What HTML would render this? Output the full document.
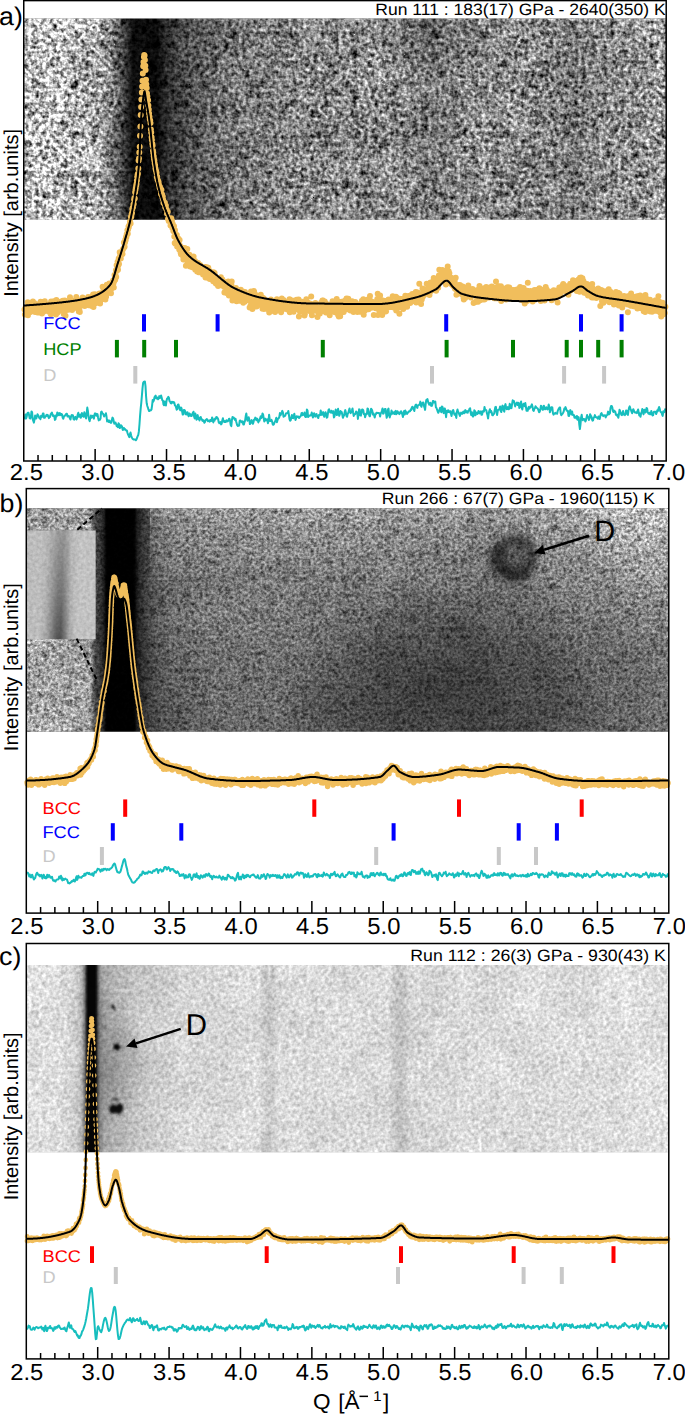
<!DOCTYPE html>
<html><head><meta charset="utf-8"><style>
html,body{margin:0;padding:0;background:#fff;width:685px;height:1414px;overflow:hidden}
svg{display:block}
text{font-family:"Liberation Sans", sans-serif;text-rendering:geometricPrecision}
</style></head><body>
<svg width="685" height="1414" viewBox="0 0 685 1414">
<defs><filter id="nA" x="0" y="0" width="1" height="1" color-interpolation-filters="sRGB"><feTurbulence type="fractalNoise" baseFrequency="0.28" numOctaves="2" seed="3" result="t"/><feColorMatrix in="t" type="matrix" values="1 0 0 0 0 1 0 0 0 0 1 0 0 0 0 0 0 0 0 1" result="g"/><feTurbulence type="turbulence" baseFrequency="0.1" numOctaves="2" seed="23" result="tv"/><feColorMatrix in="tv" type="matrix" values="-1 0 0 0 1 -1 0 0 0 1 -1 0 0 0 1 0 0 0 0 1" result="gv"/><feComposite in="g" in2="gv" operator="arithmetic" k2="1" k3="0.6" k4="-0.4500" result="gg"/><feTurbulence type="fractalNoise" baseFrequency="0.02" numOctaves="2" seed="53" result="t2"/><feColorMatrix in="t2" type="matrix" values="1 0 0 0 0 1 0 0 0 0 1 0 0 0 0 0 0 0 0 1" result="g2"/><feComposite in="SourceGraphic" in2="g2" operator="arithmetic" k1="0.25" k2="0.875" k3="0" k4="0" result="s2"/><feComposite in="s2" in2="gg" operator="arithmetic" k1="1.85" k2="0.07499999999999996" k3="0.12" k4="-0.06"/></filter><filter id="nB" x="0" y="0" width="1" height="1" color-interpolation-filters="sRGB"><feTurbulence type="fractalNoise" baseFrequency="0.36" numOctaves="2" seed="5" result="t"/><feColorMatrix in="t" type="matrix" values="1 0 0 0 0 1 0 0 0 0 1 0 0 0 0 0 0 0 0 1" result="g"/><feTurbulence type="turbulence" baseFrequency="0.12" numOctaves="2" seed="25" result="tv"/><feColorMatrix in="tv" type="matrix" values="-1 0 0 0 1 -1 0 0 0 1 -1 0 0 0 1 0 0 0 0 1" result="gv"/><feComposite in="g" in2="gv" operator="arithmetic" k2="1" k3="0.55" k4="-0.4125" result="gg"/><feTurbulence type="fractalNoise" baseFrequency="0.02" numOctaves="2" seed="55" result="t2"/><feColorMatrix in="t2" type="matrix" values="1 0 0 0 0 1 0 0 0 0 1 0 0 0 0 0 0 0 0 1" result="g2"/><feComposite in="SourceGraphic" in2="g2" operator="arithmetic" k1="0.2" k2="0.9" k3="0" k4="0" result="s2"/><feComposite in="s2" in2="gg" operator="arithmetic" k1="1.3" k2="0.35" k3="0.03" k4="-0.015"/></filter><filter id="nC" x="0" y="0" width="1" height="1" color-interpolation-filters="sRGB"><feTurbulence type="fractalNoise" baseFrequency="0.28" numOctaves="2" seed="9" result="t"/><feColorMatrix in="t" type="matrix" values="1 0 0 0 0 1 0 0 0 0 1 0 0 0 0 0 0 0 0 1" result="g"/><feTurbulence type="turbulence" baseFrequency="0.1" numOctaves="2" seed="29" result="tv"/><feColorMatrix in="tv" type="matrix" values="-1 0 0 0 1 -1 0 0 0 1 -1 0 0 0 1 0 0 0 0 1" result="gv"/><feComposite in="g" in2="gv" operator="arithmetic" k2="1" k3="0.4" k4="-0.3000" result="gg"/><feTurbulence type="fractalNoise" baseFrequency="0.02" numOctaves="2" seed="59" result="t2"/><feColorMatrix in="t2" type="matrix" values="1 0 0 0 0 1 0 0 0 0 1 0 0 0 0 0 0 0 0 1" result="g2"/><feComposite in="SourceGraphic" in2="g2" operator="arithmetic" k1="0.12" k2="0.94" k3="0" k4="0" result="s2"/><feComposite in="s2" in2="gg" operator="arithmetic" k1="0.45" k2="0.775" k3="0.0" k4="-0.0"/></filter><filter id="bl1"><feGaussianBlur stdDeviation="0.8"/></filter><filter id="nI" x="0" y="0" width="1" height="1" color-interpolation-filters="sRGB"><feTurbulence type="fractalNoise" baseFrequency="0.3" numOctaves="2" seed="4" result="t"/><feColorMatrix in="t" type="matrix" values="1 0 0 0 0 1 0 0 0 0 1 0 0 0 0 0 0 0 0 1" result="g"/><feComposite in="SourceGraphic" in2="g" operator="arithmetic" k1="0.25" k2="0.875" k3="0.0" k4="-0.0"/></filter><linearGradient id="gA" gradientUnits="userSpaceOnUse" x1="23.75" y1="0" x2="666.2" y2="0"><stop offset="0.0004" stop-color="rgb(194,194,194)"/><stop offset="0.0564" stop-color="rgb(192,192,192)"/><stop offset="0.1109" stop-color="rgb(170,170,170)"/><stop offset="0.1265" stop-color="rgb(149,149,149)"/><stop offset="0.1374" stop-color="rgb(122,122,122)"/><stop offset="0.1467" stop-color="rgb(96,96,96)"/><stop offset="0.1560" stop-color="rgb(64,64,64)"/><stop offset="0.1638" stop-color="rgb(32,32,32)"/><stop offset="0.1701" stop-color="rgb(11,11,11)"/><stop offset="0.2074" stop-color="rgb(9,9,9)"/><stop offset="0.2136" stop-color="rgb(23,23,23)"/><stop offset="0.2230" stop-color="rgb(43,43,43)"/><stop offset="0.2354" stop-color="rgb(59,59,59)"/><stop offset="0.2588" stop-color="rgb(80,80,80)"/><stop offset="0.2899" stop-color="rgb(98,98,98)"/><stop offset="0.3288" stop-color="rgb(115,115,115)"/><stop offset="0.3677" stop-color="rgb(128,128,128)"/><stop offset="0.4611" stop-color="rgb(138,138,138)"/><stop offset="0.5856" stop-color="rgb(136,136,136)"/><stop offset="0.6168" stop-color="rgb(130,130,130)"/><stop offset="0.6401" stop-color="rgb(124,124,124)"/><stop offset="0.6635" stop-color="rgb(130,130,130)"/><stop offset="0.6946" stop-color="rgb(138,138,138)"/><stop offset="0.8191" stop-color="rgb(136,136,136)"/><stop offset="0.8425" stop-color="rgb(126,126,126)"/><stop offset="0.8627" stop-color="rgb(124,124,124)"/><stop offset="0.8845" stop-color="rgb(134,134,134)"/><stop offset="0.9281" stop-color="rgb(143,143,143)"/><stop offset="0.9670" stop-color="rgb(149,149,149)"/><stop offset="0.9997" stop-color="rgb(160,160,160)"/></linearGradient><radialGradient id="rA1" gradientUnits="userSpaceOnUse" cx="435" cy="30" r="60" gradientTransform="translate(435 30) scale(1.2 0.8) translate(-435 -30)"><stop offset="0" stop-color="#000" stop-opacity="0.22"/><stop offset="1" stop-color="#000" stop-opacity="0"/></radialGradient><clipPath id="clipa"><rect x="23.75" y="18.4" width="642.45" height="201.40"/></clipPath><linearGradient id="gB" gradientUnits="userSpaceOnUse" x1="26.3" y1="0" x2="668.8" y2="0"><stop offset="0.0011" stop-color="rgb(170,170,170)"/><stop offset="0.0991" stop-color="rgb(155,155,155)"/><stop offset="0.1077" stop-color="rgb(70,70,70)"/><stop offset="0.1147" stop-color="rgb(50,50,50)"/><stop offset="0.1225" stop-color="rgb(30,30,30)"/><stop offset="0.1272" stop-color="rgb(5,5,5)"/><stop offset="0.1661" stop-color="rgb(5,5,5)"/><stop offset="0.1723" stop-color="rgb(30,30,30)"/><stop offset="0.1847" stop-color="rgb(60,60,60)"/><stop offset="0.2003" stop-color="rgb(85,85,85)"/><stop offset="0.2237" stop-color="rgb(105,105,105)"/><stop offset="0.2704" stop-color="rgb(118,118,118)"/><stop offset="0.3482" stop-color="rgb(124,124,124)"/><stop offset="0.5038" stop-color="rgb(120,120,120)"/><stop offset="0.6595" stop-color="rgb(112,112,112)"/><stop offset="0.8151" stop-color="rgb(112,112,112)"/><stop offset="0.9240" stop-color="rgb(116,116,116)"/><stop offset="0.9988" stop-color="rgb(126,126,126)"/></linearGradient><radialGradient id="rB1" gradientUnits="userSpaceOnUse" cx="440" cy="695" r="170" gradientTransform="translate(440 695) scale(1.0 0.65) translate(-440 -695)"><stop offset="0" stop-color="#000" stop-opacity="0.40"/><stop offset="0.6" stop-color="#000" stop-opacity="0.24"/><stop offset="1" stop-color="#000" stop-opacity="0"/></radialGradient><radialGradient id="rB2" gradientUnits="userSpaceOnUse" cx="650" cy="525" r="150" gradientTransform="translate(650 525) scale(1.0 0.8) translate(-650 -525)"><stop offset="0" stop-color="#fff" stop-opacity="0.33"/><stop offset="1" stop-color="#fff" stop-opacity="0"/></radialGradient><linearGradient id="coreB" gradientUnits="userSpaceOnUse" x1="104" y1="0" x2="137" y2="0"><stop offset="0.0000" stop-color="rgb(0,0,0)" stop-opacity="0"/><stop offset="0.0606" stop-color="rgb(0,0,0)" stop-opacity="1"/><stop offset="0.9091" stop-color="rgb(0,0,0)" stop-opacity="1"/><stop offset="1.0000" stop-color="rgb(0,0,0)" stop-opacity="0"/></linearGradient><linearGradient id="vB2" gradientUnits="userSpaceOnUse" x1="0" y1="508.3" x2="0" y2="731.8"><stop offset="-0.0013" stop-color="rgb(0,0,0)" stop-opacity="0"/><stop offset="0.2761" stop-color="rgb(0,0,0)" stop-opacity="0"/><stop offset="0.9964" stop-color="rgb(0,0,0)" stop-opacity="0.16"/></linearGradient><linearGradient id="vB" gradientUnits="userSpaceOnUse" x1="0" y1="508.3" x2="0" y2="731.8"><stop offset="-0.0013" stop-color="rgb(255,255,255)" stop-opacity="0.28"/><stop offset="0.0971" stop-color="rgb(255,255,255)" stop-opacity="0.15"/><stop offset="0.3655" stop-color="rgb(255,255,255)" stop-opacity="0"/><stop offset="0.9964" stop-color="rgb(255,255,255)" stop-opacity="0"/></linearGradient><filter id="blD" x="-50%" y="-50%" width="200%" height="200%"><feGaussianBlur stdDeviation="3.5"/></filter><clipPath id="clipb"><rect x="26.3" y="508.3" width="642.50" height="223.50"/></clipPath><linearGradient id="gI" gradientUnits="userSpaceOnUse" x1="27" y1="0" x2="95.7" y2="0"><stop offset="0.0000" stop-color="rgb(188,188,188)"/><stop offset="0.2620" stop-color="rgb(190,190,190)"/><stop offset="0.6987" stop-color="rgb(194,194,194)"/><stop offset="1.0000" stop-color="rgb(194,194,194)"/></linearGradient><linearGradient id="bandI" gradientUnits="userSpaceOnUse" x1="40" y1="0" x2="78" y2="0"><stop offset="0.0000" stop-color="rgb(0,0,0)" stop-opacity="0"/><stop offset="0.1842" stop-color="rgb(0,0,0)" stop-opacity="0.12"/><stop offset="0.3421" stop-color="rgb(0,0,0)" stop-opacity="0.35"/><stop offset="0.4737" stop-color="rgb(0,0,0)" stop-opacity="0.55"/><stop offset="0.5789" stop-color="rgb(0,0,0)" stop-opacity="0.58"/><stop offset="0.6842" stop-color="rgb(0,0,0)" stop-opacity="0.4"/><stop offset="0.8158" stop-color="rgb(0,0,0)" stop-opacity="0.12"/><stop offset="1.0000" stop-color="rgb(0,0,0)" stop-opacity="0"/></linearGradient><linearGradient id="mIg" gradientUnits="userSpaceOnUse" x1="0" y1="530.4" x2="0" y2="639.3"><stop offset="-0.0037" stop-color="rgb(95,95,95)" stop-opacity="1"/><stop offset="0.5473" stop-color="rgb(170,170,170)" stop-opacity="1"/><stop offset="0.9972" stop-color="rgb(255,255,255)" stop-opacity="1"/></linearGradient><mask id="mI" maskUnits="userSpaceOnUse" x="27" y="530" width="69" height="110"><rect x="27" y="530.4" width="68.7" height="108.9" fill="url(#mIg)"/></mask><linearGradient id="gC" gradientUnits="userSpaceOnUse" x1="26.3" y1="0" x2="668.8" y2="0"><stop offset="0.0011" stop-color="rgb(226,226,226)"/><stop offset="0.0525" stop-color="rgb(220,220,220)"/><stop offset="0.0774" stop-color="rgb(205,205,205)"/><stop offset="0.0867" stop-color="rgb(175,175,175)"/><stop offset="0.0906" stop-color="rgb(120,120,120)"/><stop offset="0.0937" stop-color="rgb(40,40,40)"/><stop offset="0.0960" stop-color="rgb(5,5,5)"/><stop offset="0.1069" stop-color="rgb(5,5,5)"/><stop offset="0.1093" stop-color="rgb(30,30,30)"/><stop offset="0.1116" stop-color="rgb(90,90,90)"/><stop offset="0.1147" stop-color="rgb(135,135,135)"/><stop offset="0.1209" stop-color="rgb(165,165,165)"/><stop offset="0.1381" stop-color="rgb(180,180,180)"/><stop offset="0.1770" stop-color="rgb(198,198,198)"/><stop offset="0.2392" stop-color="rgb(212,212,212)"/><stop offset="0.3606" stop-color="rgb(219,219,219)"/><stop offset="0.3684" stop-color="rgb(208,208,208)"/><stop offset="0.3777" stop-color="rgb(196,196,196)"/><stop offset="0.3871" stop-color="rgb(208,208,208)"/><stop offset="0.3949" stop-color="rgb(219,219,219)"/><stop offset="0.5630" stop-color="rgb(216,216,216)"/><stop offset="0.5723" stop-color="rgb(202,202,202)"/><stop offset="0.5816" stop-color="rgb(190,190,190)"/><stop offset="0.5910" stop-color="rgb(202,202,202)"/><stop offset="0.6003" stop-color="rgb(216,216,216)"/><stop offset="0.9552" stop-color="rgb(222,222,222)"/><stop offset="0.9956" stop-color="rgb(224,224,224)"/></linearGradient><radialGradient id="rC1" gradientUnits="userSpaceOnUse" cx="112" cy="1075" r="40" gradientTransform="translate(112 1075) scale(0.8 2.2) translate(-112 -1075)"><stop offset="0" stop-color="#000" stop-opacity="0.16"/><stop offset="1" stop-color="#000" stop-opacity="0"/></radialGradient><clipPath id="clipc"><rect x="26.3" y="965.0" width="642.50" height="187.40"/></clipPath></defs>
<g clip-path="url(#clipa)" filter="url(#nA)"><rect x="23.75" y="18.4" width="642.45" height="201.4" fill="url(#gA)"/><rect x="23.75" y="18.4" width="642.45" height="201.4" fill="url(#rA1)"/></g><g clip-path="url(#clipb)" filter="url(#nB)"><rect x="26.3" y="508.3" width="642.5" height="223.49999999999994" fill="url(#gB)"/><rect x="26.3" y="508.3" width="642.5" height="223.49999999999994" fill="url(#rB1)"/><rect x="26.3" y="508.3" width="642.5" height="223.49999999999994" fill="url(#rB2)"/><rect x="150" y="508.3" width="518.8" height="223.49999999999994" fill="url(#vB)"/><rect x="140" y="508.3" width="528.8" height="223.49999999999994" fill="url(#vB2)"/><rect x="104" y="503.3" width="33" height="233.49999999999994" fill="url(#coreB)" filter="url(#bl1)"/><g filter="url(#blD)"><circle cx="516" cy="556" r="18" fill="#000" fill-opacity="0.35" stroke="#000" stroke-opacity="0.45" stroke-width="10"/><path d="M500 545A18 18 0 0 0 528 572" stroke="#000" stroke-opacity="0.45" stroke-width="10" fill="none"/></g></g><g filter="url(#nI)"><rect x="27" y="530.4" width="68.7" height="108.9" fill="url(#gI)"/><g mask="url(#mI)"><rect x="27" y="530.4" width="68.7" height="108.9" fill="url(#bandI)" transform="skewX(-1.5) translate(15.3 0)"/></g></g><path d="M77.3 529.7L102 508.5M76.6 638.6L97 680.3" stroke="#000" stroke-width="2" stroke-dasharray="5,3" fill="none"/><g clip-path="url(#clipc)" filter="url(#nC)"><rect x="26.3" y="965.0" width="642.5" height="187.4000000000001" fill="url(#gC)"/><rect x="26.3" y="965.0" width="642.5" height="187.4000000000001" fill="url(#rC1)"/><g filter="url(#bl1)"><path d="M110 1106l4 -2l2 2l3 -3l4 2l0 5l-3 4l-5 -1l-4 1l-2 -4z" fill="#111"/><path d="M111 1099l5 -1l4 1l-4 1.5z" fill="#222"/><path d="M113 1043l3 2l2 -3l1 4l4 1l-4 1.5l-1 3.5l-2 -3l-3 1l1 -3z" fill="#000"/><path d="M112 1004q4 2 3 7q-2 -3 -4 -4z" fill="#111"/><ellipse cx="105" cy="1027.7" rx="2" ry="1.5" fill="#777"/></g></g><path d="M24.5 309.6h0M24.9 314.6h0M25.2 314.0h0M25.6 307.4h0M25.9 308.2h0M26.3 307.3h0M26.6 311.5h0M27.0 309.1h0M27.3 312.1h0M27.7 302.2h0M28.0 315.2h0M28.4 308.8h0M28.7 311.8h0M29.1 308.6h0M29.4 307.7h0M29.8 310.9h0M30.1 312.2h0M30.5 308.3h0M30.8 308.4h0M31.2 311.6h0M31.5 305.7h0M31.9 303.2h0M32.2 310.4h0M32.6 306.4h0M32.9 301.6h0M33.3 305.8h0M33.6 307.1h0M34.0 304.3h0M34.3 303.1h0M34.7 308.9h0M35.0 312.1h0M35.4 307.8h0M35.7 305.8h0M36.1 310.1h0M36.4 311.3h0M36.8 307.5h0M37.1 310.6h0M37.5 312.5h0M37.8 307.7h0M38.2 305.4h0M38.5 309.8h0M38.9 309.4h0M39.2 312.6h0M39.6 303.5h0M39.9 305.8h0M40.3 305.1h0M40.6 301.7h0M41.0 308.7h0M41.3 310.2h0M41.7 305.4h0M42.0 313.4h0M42.4 311.3h0M42.7 310.5h0M43.1 309.6h0M43.4 311.7h0M43.8 303.0h0M44.1 310.3h0M44.5 310.3h0M44.8 301.2h0M45.2 309.2h0M45.5 306.9h0M45.9 310.8h0M46.2 306.1h0M46.6 307.7h0M46.9 309.1h0M47.3 304.4h0M47.6 310.0h0M48.0 307.3h0M48.3 309.5h0M48.7 305.6h0M49.0 311.7h0M49.4 309.8h0M49.7 306.8h0M50.1 309.9h0M50.4 312.2h0M50.8 314.2h0M51.1 301.4h0M51.5 310.7h0M51.8 309.1h0M52.2 306.9h0M52.5 303.4h0M52.9 312.0h0M53.2 302.4h0M53.6 309.3h0M53.9 312.1h0M54.3 301.0h0M54.6 305.9h0M55.0 302.0h0M55.3 307.9h0M55.7 312.7h0M56.0 314.6h0M56.4 300.1h0M56.7 304.7h0M57.1 309.5h0M57.4 312.8h0M57.8 308.3h0M58.1 303.9h0M58.5 307.8h0M58.8 306.6h0M59.2 305.8h0M59.5 303.8h0M59.9 308.0h0M60.2 307.7h0M60.6 306.1h0M60.9 305.6h0M61.3 301.5h0M61.6 304.5h0M62.0 310.9h0M62.3 305.5h0M62.7 300.7h0M63.0 311.3h0M63.4 308.2h0M63.7 314.1h0M64.1 306.3h0M64.4 304.3h0M64.8 300.5h0M65.1 311.0h0M65.5 315.7h0M65.8 302.7h0M66.2 303.4h0M66.5 308.0h0M66.9 302.6h0M67.2 304.7h0M67.6 304.3h0M67.9 306.3h0M68.3 309.7h0M68.6 305.6h0M69.0 309.0h0M69.3 303.8h0M69.7 306.6h0M70.0 297.2h0M70.4 299.8h0M70.7 308.2h0M71.1 302.9h0M71.4 307.3h0M71.8 307.1h0M72.1 310.1h0M72.5 308.1h0M72.8 308.8h0M73.2 304.4h0M73.5 302.2h0M73.9 302.0h0M74.2 302.9h0M74.6 300.4h0M74.9 302.5h0M75.3 304.2h0M75.6 305.5h0M76.0 303.2h0M76.3 297.1h0M76.7 304.1h0M77.0 305.1h0M77.4 308.3h0M77.7 306.3h0M78.1 301.6h0M78.4 301.3h0M78.8 311.6h0M79.1 306.8h0M79.5 310.8h0M79.8 311.9h0M80.2 300.6h0M80.5 305.1h0M80.9 305.3h0M81.2 305.6h0M81.6 305.5h0M81.9 304.1h0M82.3 304.0h0M82.6 297.5h0M83.0 302.5h0M83.3 300.2h0M83.7 303.5h0M84.0 301.1h0M84.4 305.2h0M84.7 305.9h0M85.1 303.9h0M85.4 303.8h0M85.8 302.9h0M86.1 300.7h0M86.5 301.7h0M86.8 300.4h0M87.2 303.7h0M87.5 302.1h0M87.9 304.2h0M88.2 296.9h0M88.6 305.2h0M88.9 298.8h0M89.3 298.8h0M89.6 300.8h0M90.0 299.3h0M90.3 302.4h0M90.7 299.1h0M91.0 297.1h0M91.4 297.8h0M91.7 305.9h0M92.1 301.0h0M92.4 296.2h0M92.8 300.6h0M93.1 294.5h0M93.5 307.1h0M93.8 294.4h0M94.2 301.8h0M94.5 301.9h0M94.9 294.2h0M95.2 300.7h0M95.6 303.2h0M95.9 301.1h0M96.3 300.1h0M96.6 302.6h0M97.0 299.4h0M97.3 299.9h0M97.7 298.0h0M98.0 300.7h0M98.4 294.5h0M98.7 301.0h0M99.1 295.9h0M99.4 293.4h0M99.8 298.8h0M100.1 303.6h0M100.5 300.6h0M100.8 294.8h0M101.2 299.2h0M101.5 294.5h0M101.9 295.6h0M102.2 296.1h0M102.6 286.7h0M102.9 296.0h0M103.3 291.1h0M103.6 292.0h0M104.0 288.8h0M104.3 288.4h0M104.7 290.2h0M105.0 296.7h0M105.4 299.5h0M105.7 292.8h0M106.1 296.7h0M106.4 291.2h0M106.8 284.7h0M107.1 292.1h0M107.5 292.9h0M107.8 289.2h0M108.2 291.6h0M108.5 292.3h0M108.9 286.4h0M109.2 283.6h0M109.6 287.9h0M109.9 287.5h0M110.3 286.5h0M110.6 291.0h0M111.0 293.3h0M111.3 284.5h0M111.7 288.1h0M112.0 288.2h0M112.4 286.5h0M112.7 286.8h0M113.1 280.4h0M113.4 283.6h0M113.8 287.4h0M114.1 281.6h0M114.5 275.0h0M114.8 278.5h0M115.2 279.8h0M115.5 275.1h0M115.9 270.3h0M116.2 277.1h0M116.6 265.2h0M116.9 270.7h0M117.3 267.5h0M117.6 261.8h0M118.0 269.8h0M118.3 265.4h0M118.7 258.5h0M119.0 264.1h0M119.4 259.0h0M119.7 252.3h0M120.1 255.8h0M120.4 258.2h0M120.8 258.4h0M121.1 255.5h0M121.5 253.9h0M121.8 254.2h0M122.2 250.8h0M122.5 253.9h0M122.9 249.5h0M123.2 248.7h0M123.6 248.2h0M123.9 242.6h0M124.3 242.3h0M124.6 246.8h0M125.0 242.5h0M125.3 239.8h0M125.7 239.9h0M126.0 236.9h0M126.4 237.3h0M126.7 234.2h0M127.1 234.7h0M127.4 230.2h0M127.8 233.8h0M128.1 229.5h0M128.5 226.6h0M128.8 227.2h0M129.2 225.6h0M129.5 224.7h0M129.9 221.8h0M130.2 221.8h0M130.6 223.4h0M130.9 216.9h0M131.3 216.7h0M131.6 214.3h0M132.0 212.9h0M132.3 209.0h0M132.7 207.7h0M133.0 207.2h0M133.4 204.6h0M133.7 204.1h0M134.1 199.5h0M134.4 198.1h0M134.8 198.4h0M135.1 192.3h0M135.5 189.7h0M135.8 188.1h0M136.2 185.6h0M136.5 183.9h0M136.9 180.5h0M137.2 176.8h0M137.6 174.7h0M137.9 173.7h0M138.3 168.6h0M138.6 160.4h0M139.0 158.4h0M139.3 152.6h0M139.7 146.7h0M140.0 135.7h0M140.4 126.6h0M140.7 115.1h0M141.1 106.9h0M141.4 99.4h0M141.8 92.6h0M142.1 86.4h0M142.5 80.7h0M142.8 73.4h0M143.2 66.2h0M143.5 62.1h0M143.9 56.9h0M144.2 55.0h0M144.6 55.6h0M144.9 60.0h0M145.3 65.8h0M145.6 70.0h0M146.0 79.7h0M146.3 84.3h0M146.7 88.0h0M147.0 93.4h0M147.4 96.5h0M147.7 99.9h0M148.1 100.3h0M148.4 105.6h0M148.8 109.4h0M149.1 113.5h0M149.5 116.7h0M149.8 119.5h0M150.2 120.4h0M150.5 123.0h0M150.9 129.4h0M151.2 132.6h0M151.6 137.3h0M151.9 139.9h0M152.3 143.8h0M152.6 145.5h0M153.0 150.7h0M153.3 152.8h0M153.7 156.3h0M154.0 158.9h0M154.4 160.7h0M154.7 163.4h0M155.1 165.3h0M155.4 168.2h0M155.8 170.0h0M156.1 170.9h0M156.5 172.8h0M156.8 176.9h0M157.2 176.8h0M157.5 179.5h0M157.9 180.5h0M158.2 181.0h0M158.6 182.3h0M158.9 184.5h0M159.3 186.0h0M159.6 187.7h0M160.0 187.1h0M160.3 188.9h0M160.7 190.6h0M161.0 194.0h0M161.4 189.8h0M161.7 194.9h0M162.1 194.5h0M162.4 197.2h0M162.8 196.7h0M163.1 199.4h0M163.5 202.9h0M163.8 201.7h0M164.2 203.1h0M164.5 204.1h0M164.9 202.7h0M165.2 206.9h0M165.6 206.2h0M165.9 205.7h0M166.3 208.9h0M166.6 209.4h0M167.0 213.4h0M167.3 212.1h0M167.7 211.7h0M168.0 219.1h0M168.4 218.8h0M168.7 220.9h0M169.1 219.8h0M169.4 218.3h0M169.8 218.2h0M170.1 219.7h0M170.5 225.4h0M170.8 223.3h0M171.2 218.3h0M171.5 224.9h0M171.9 220.7h0M172.2 227.8h0M172.6 223.7h0M172.9 224.6h0M173.3 230.9h0M173.6 231.3h0M174.0 226.3h0M174.3 236.5h0M174.7 243.0h0M175.0 230.2h0M175.4 243.7h0M175.7 235.2h0M176.1 236.9h0M176.4 239.0h0M176.8 235.1h0M177.1 246.4h0M177.5 244.1h0M177.8 240.2h0M178.2 242.7h0M178.5 238.7h0M178.9 243.8h0M179.2 249.4h0M179.6 240.0h0M179.9 245.5h0M180.3 248.3h0M180.6 252.4h0M181.0 254.2h0M181.3 247.9h0M181.7 247.5h0M182.0 252.6h0M182.4 250.1h0M182.7 250.8h0M183.1 256.7h0M183.4 259.5h0M183.8 254.7h0M184.1 253.5h0M184.5 256.9h0M184.8 248.0h0M185.2 255.6h0M185.5 252.2h0M185.9 265.7h0M186.2 259.9h0M186.6 258.1h0M186.9 257.3h0M187.3 248.9h0M187.6 261.5h0M188.0 265.4h0M188.3 256.8h0M188.7 262.6h0M189.0 263.1h0M189.4 254.8h0M189.7 264.6h0M190.1 266.5h0M190.4 262.6h0M190.8 261.8h0M191.1 265.3h0M191.5 256.8h0M191.8 263.3h0M192.2 267.2h0M192.5 258.8h0M192.9 267.6h0M193.2 262.5h0M193.6 256.5h0M193.9 264.3h0M194.3 261.2h0M194.6 266.4h0M195.0 261.0h0M195.3 269.7h0M195.7 263.2h0M196.0 267.6h0M196.4 264.2h0M196.7 265.5h0M197.1 271.5h0M197.4 268.0h0M197.8 265.9h0M198.1 262.9h0M198.5 272.3h0M198.8 270.9h0M199.2 267.1h0M199.5 269.5h0M199.9 264.9h0M200.2 265.1h0M200.6 266.0h0M200.9 270.7h0M201.3 270.7h0M201.6 266.9h0M202.0 272.8h0M202.3 273.1h0M202.7 271.0h0M203.0 274.5h0M203.4 269.7h0M203.7 270.5h0M204.1 273.0h0M204.4 271.2h0M204.8 274.6h0M205.1 267.0h0M205.5 277.4h0M205.8 269.2h0M206.2 271.7h0M206.5 267.3h0M206.9 275.1h0M207.2 277.8h0M207.6 277.3h0M207.9 276.6h0M208.3 267.8h0M208.6 270.9h0M209.0 272.4h0M209.3 270.8h0M209.7 278.9h0M210.0 275.5h0M210.4 275.0h0M210.7 277.2h0M211.1 272.0h0M211.4 272.4h0M211.8 272.7h0M212.1 278.2h0M212.5 277.9h0M212.8 279.1h0M213.2 281.2h0M213.5 272.3h0M213.9 275.6h0M214.2 278.5h0M214.6 273.1h0M214.9 276.5h0M215.3 282.6h0M215.6 283.3h0M216.0 283.4h0M216.3 279.8h0M216.7 279.1h0M217.0 284.3h0M217.4 279.1h0M217.7 282.1h0M218.1 286.1h0M218.4 280.0h0M218.8 279.3h0M219.1 281.9h0M219.5 284.5h0M219.8 284.3h0M220.2 283.4h0M220.5 285.2h0M220.9 277.3h0M221.2 280.4h0M221.6 284.6h0M221.9 280.7h0M222.3 279.4h0M222.6 280.2h0M223.0 281.6h0M223.3 284.7h0M223.7 281.8h0M224.0 286.8h0M224.4 292.6h0M224.7 285.9h0M225.1 291.6h0M225.4 288.1h0M225.8 283.0h0M226.1 286.6h0M226.5 284.1h0M226.8 291.0h0M227.2 284.0h0M227.5 293.6h0M227.9 291.0h0M228.2 281.4h0M228.6 292.3h0M228.9 295.5h0M229.3 286.8h0M229.6 293.8h0M230.0 283.4h0M230.3 291.5h0M230.7 284.4h0M231.0 292.8h0M231.4 284.4h0M231.7 281.4h0M232.1 293.1h0M232.4 300.5h0M232.8 289.7h0M233.1 295.3h0M233.5 292.8h0M233.8 291.3h0M234.2 295.0h0M234.5 299.1h0M234.9 288.3h0M235.2 295.3h0M235.6 294.7h0M235.9 288.1h0M236.3 299.8h0M236.6 301.2h0M237.0 290.4h0M237.3 300.7h0M237.7 294.5h0M238.0 293.8h0M238.4 300.3h0M238.7 295.6h0M239.1 296.1h0M239.4 300.8h0M239.8 300.1h0M240.1 298.7h0M240.5 290.2h0M240.8 289.7h0M241.2 300.1h0M241.5 292.4h0M241.9 296.6h0M242.2 292.1h0M242.6 295.7h0M242.9 291.6h0M243.3 302.8h0M243.6 292.9h0M244.0 296.5h0M244.3 296.3h0M244.7 301.8h0M245.0 291.9h0M245.4 297.3h0M245.7 296.8h0M246.1 299.7h0M246.4 299.6h0M246.8 296.2h0M247.1 299.0h0M247.5 296.8h0M247.8 300.1h0M248.2 298.1h0M248.5 296.1h0M248.9 298.6h0M249.2 300.2h0M249.6 307.6h0M249.9 297.2h0M250.3 300.4h0M250.6 304.9h0M251.0 291.5h0M251.3 292.9h0M251.7 295.1h0M252.0 299.3h0M252.4 309.1h0M252.7 301.4h0M253.1 304.6h0M253.4 299.3h0M253.8 290.9h0M254.1 291.6h0M254.5 304.3h0M254.8 301.3h0M255.2 295.7h0M255.5 305.0h0M255.9 295.0h0M256.2 305.2h0M256.6 306.5h0M256.9 298.2h0M257.3 297.0h0M257.6 304.5h0M258.0 297.2h0M258.3 304.7h0M258.7 297.0h0M259.0 304.7h0M259.4 302.0h0M259.7 300.1h0M260.1 298.4h0M260.4 302.8h0M260.8 294.8h0M261.1 301.0h0M261.5 300.6h0M261.8 304.8h0M262.2 297.5h0M262.5 308.8h0M262.9 301.2h0M263.2 298.1h0M263.6 307.7h0M263.9 308.9h0M264.3 301.9h0M264.6 299.3h0M265.0 302.8h0M265.3 300.2h0M265.7 301.7h0M266.0 308.8h0M266.4 304.4h0M266.7 303.6h0M267.1 304.4h0M267.4 302.9h0M267.8 306.4h0M268.1 306.6h0M268.5 301.9h0M268.8 303.8h0M269.2 312.6h0M269.5 305.1h0M269.9 302.8h0M270.2 311.4h0M270.6 303.7h0M270.9 299.5h0M271.3 306.3h0M271.6 300.4h0M272.0 302.0h0M272.3 305.2h0M272.7 303.5h0M273.0 301.1h0M273.4 302.0h0M273.7 301.9h0M274.1 308.6h0M274.4 301.5h0M274.8 302.1h0M275.1 312.1h0M275.5 302.3h0M275.8 310.1h0M276.2 309.5h0M276.5 304.0h0M276.9 299.2h0M277.2 306.4h0M277.6 307.3h0M277.9 308.4h0M278.3 305.1h0M278.6 309.4h0M279.0 310.2h0M279.3 301.0h0M279.7 310.4h0M280.0 305.7h0M280.4 303.0h0M280.7 303.9h0M281.1 312.3h0M281.4 309.0h0M281.8 298.5h0M282.1 305.7h0M282.5 304.8h0M282.8 304.8h0M283.2 303.5h0M283.5 300.0h0M283.9 308.8h0M284.2 302.0h0M284.6 304.2h0M284.9 303.4h0M285.3 303.0h0M285.6 308.6h0M286.0 307.3h0M286.3 303.3h0M286.7 302.3h0M287.0 304.1h0M287.4 309.6h0M287.7 306.5h0M288.1 306.9h0M288.4 304.8h0M288.8 305.1h0M289.1 307.0h0M289.5 299.2h0M289.8 312.3h0M290.2 303.3h0M290.5 304.1h0M290.9 311.4h0M291.2 307.2h0M291.6 306.5h0M291.9 304.2h0M292.3 300.5h0M292.6 307.2h0M293.0 311.1h0M293.3 303.1h0M293.7 311.8h0M294.0 302.3h0M294.4 303.8h0M294.7 308.6h0M295.1 306.7h0M295.4 309.3h0M295.8 303.9h0M296.1 302.8h0M296.5 299.7h0M296.8 302.2h0M297.2 302.7h0M297.5 301.4h0M297.9 308.1h0M298.2 304.4h0M298.6 299.4h0M298.9 316.4h0M299.3 303.8h0M299.6 302.2h0M300.0 311.7h0M300.3 311.4h0M300.7 302.7h0M301.0 301.4h0M301.4 303.3h0M301.7 311.4h0M302.1 305.9h0M302.4 304.0h0M302.8 307.0h0M303.1 311.7h0M303.5 301.8h0M303.8 305.7h0M304.2 301.9h0M304.5 315.4h0M304.9 314.0h0M305.2 310.8h0M305.6 306.6h0M305.9 309.7h0M306.3 299.2h0M306.6 308.2h0M307.0 302.1h0M307.3 302.1h0M307.7 304.5h0M308.0 305.8h0M308.4 309.3h0M308.7 309.8h0M309.1 308.1h0M309.4 303.6h0M309.8 309.7h0M310.1 306.7h0M310.5 311.6h0M310.8 303.7h0M311.2 296.6h0M311.5 305.3h0M311.9 315.3h0M312.2 308.9h0M312.6 306.4h0M312.9 310.5h0M313.3 309.0h0M313.6 308.9h0M314.0 305.2h0M314.3 307.4h0M314.7 307.9h0M315.0 304.7h0M315.4 302.9h0M315.7 307.6h0M316.1 310.8h0M316.4 309.6h0M316.8 309.0h0M317.1 309.0h0M317.5 316.9h0M317.8 308.1h0M318.2 311.1h0M318.5 314.5h0M318.9 307.3h0M319.2 308.1h0M319.6 311.1h0M319.9 313.5h0M320.3 308.3h0M320.6 308.5h0M321.0 307.4h0M321.3 302.5h0M321.7 311.3h0M322.0 306.1h0M322.4 300.5h0M322.7 306.5h0M323.1 300.5h0M323.4 303.2h0M323.8 307.1h0M324.1 303.6h0M324.5 311.1h0M324.8 301.5h0M325.2 308.1h0M325.5 309.2h0M325.9 312.6h0M326.2 310.6h0M326.6 308.0h0M326.9 307.4h0M327.3 306.8h0M327.6 311.4h0M328.0 304.6h0M328.3 309.0h0M328.7 306.7h0M329.0 308.0h0M329.4 306.0h0M329.7 315.2h0M330.1 304.5h0M330.4 308.0h0M330.8 308.1h0M331.1 309.3h0M331.5 308.7h0M331.8 308.6h0M332.2 310.8h0M332.5 301.3h0M332.9 307.1h0M333.2 302.3h0M333.6 307.9h0M333.9 302.5h0M334.3 303.4h0M334.6 306.8h0M335.0 312.3h0M335.3 309.2h0M335.7 308.1h0M336.0 312.3h0M336.4 303.4h0M336.7 299.0h0M337.1 305.4h0M337.4 305.9h0M337.8 311.7h0M338.1 315.1h0M338.5 301.9h0M338.8 316.4h0M339.2 312.9h0M339.5 310.1h0M339.9 308.3h0M340.2 316.2h0M340.6 307.2h0M340.9 305.1h0M341.3 307.4h0M341.6 301.7h0M342.0 308.7h0M342.3 306.5h0M342.7 308.2h0M343.0 308.3h0M343.4 302.9h0M343.7 311.9h0M344.1 303.0h0M344.4 310.3h0M344.8 300.8h0M345.1 308.3h0M345.5 303.7h0M345.8 307.0h0M346.2 304.4h0M346.5 298.5h0M346.9 302.6h0M347.2 307.1h0M347.6 309.2h0M347.9 301.2h0M348.3 298.7h0M348.6 303.5h0M349.0 306.0h0M349.3 304.4h0M349.7 303.7h0M350.0 310.0h0M350.4 310.5h0M350.7 309.6h0M351.1 303.2h0M351.4 307.1h0M351.8 306.0h0M352.1 301.3h0M352.5 310.1h0M352.8 307.1h0M353.2 304.9h0M353.5 312.1h0M353.9 309.6h0M354.2 310.0h0M354.6 311.3h0M354.9 309.4h0M355.3 301.9h0M355.6 305.2h0M356.0 310.5h0M356.3 303.8h0M356.7 306.8h0M357.0 308.2h0M357.4 312.1h0M357.7 311.6h0M358.1 310.1h0M358.4 305.9h0M358.8 310.1h0M359.1 308.6h0M359.5 306.0h0M359.8 311.8h0M360.2 308.5h0M360.5 303.7h0M360.9 311.4h0M361.2 305.6h0M361.6 308.8h0M361.9 300.8h0M362.3 306.5h0M362.6 302.9h0M363.0 302.8h0M363.3 299.3h0M363.7 314.7h0M364.0 305.9h0M364.4 307.4h0M364.7 310.7h0M365.1 306.0h0M365.4 308.4h0M365.8 301.3h0M366.1 307.2h0M366.5 304.9h0M366.8 308.3h0M367.2 307.1h0M367.5 301.2h0M367.9 299.4h0M368.2 302.5h0M368.6 309.2h0M368.9 308.0h0M369.3 307.9h0M369.6 298.7h0M370.0 296.1h0M370.3 304.0h0M370.7 305.1h0M371.0 304.0h0M371.4 307.7h0M371.7 305.6h0M372.1 301.8h0M372.4 302.9h0M372.8 306.8h0M373.1 306.5h0M373.5 306.0h0M373.8 314.9h0M374.2 305.2h0M374.5 306.7h0M374.9 302.4h0M375.2 304.8h0M375.6 308.2h0M375.9 308.3h0M376.3 305.6h0M376.6 307.6h0M377.0 306.3h0M377.3 299.0h0M377.7 293.7h0M378.0 314.9h0M378.4 309.2h0M378.7 305.9h0M379.1 299.5h0M379.4 301.2h0M379.8 311.2h0M380.1 295.4h0M380.5 304.7h0M380.8 309.3h0M381.2 306.5h0M381.5 308.8h0M381.9 305.4h0M382.2 314.9h0M382.6 301.9h0M382.9 300.6h0M383.3 306.8h0M383.6 311.1h0M384.0 305.5h0M384.3 309.6h0M384.7 303.6h0M385.0 301.0h0M385.4 310.8h0M385.7 311.4h0M386.1 311.2h0M386.4 303.7h0M386.8 300.9h0M387.1 300.8h0M387.5 304.3h0M387.8 307.4h0M388.2 307.0h0M388.5 299.6h0M388.9 305.7h0M389.2 305.0h0M389.6 305.2h0M389.9 304.7h0M390.3 304.0h0M390.6 306.9h0M391.0 305.1h0M391.3 305.4h0M391.7 301.8h0M392.0 305.9h0M392.4 303.9h0M392.7 296.2h0M393.1 306.0h0M393.4 303.1h0M393.8 307.5h0M394.1 303.3h0M394.5 303.5h0M394.8 304.6h0M395.2 303.7h0M395.5 301.9h0M395.9 296.7h0M396.2 310.5h0M396.6 297.4h0M396.9 302.0h0M397.3 305.7h0M397.6 304.6h0M398.0 305.2h0M398.3 305.9h0M398.7 307.6h0M399.0 303.9h0M399.4 313.7h0M399.7 298.7h0M400.1 303.3h0M400.4 301.0h0M400.8 300.2h0M401.1 303.3h0M401.5 307.6h0M401.8 299.3h0M402.2 299.2h0M402.5 304.5h0M402.9 303.7h0M403.2 309.0h0M403.6 305.3h0M403.9 302.2h0M404.3 300.0h0M404.6 301.9h0M405.0 300.3h0M405.3 295.7h0M405.7 300.8h0M406.0 300.0h0M406.4 299.6h0M406.7 298.8h0M407.1 306.7h0M407.4 302.8h0M407.8 303.6h0M408.1 297.6h0M408.5 295.9h0M408.8 298.6h0M409.2 300.5h0M409.5 298.2h0M409.9 298.6h0M410.2 302.9h0M410.6 300.2h0M410.9 295.2h0M411.3 297.2h0M411.6 296.2h0M412.0 299.3h0M412.3 294.0h0M412.7 297.7h0M413.0 300.9h0M413.4 298.2h0M413.7 294.5h0M414.1 295.5h0M414.4 298.2h0M414.8 299.4h0M415.1 300.6h0M415.5 296.7h0M415.8 292.1h0M416.2 302.4h0M416.5 298.0h0M416.9 298.2h0M417.2 297.7h0M417.6 292.4h0M417.9 295.0h0M418.3 297.0h0M418.6 299.8h0M419.0 295.9h0M419.3 283.7h0M419.7 294.4h0M420.0 296.5h0M420.4 299.9h0M420.7 297.5h0M421.1 304.1h0M421.4 299.8h0M421.8 299.4h0M422.1 297.6h0M422.5 288.6h0M422.8 296.8h0M423.2 295.7h0M423.5 291.2h0M423.9 295.2h0M424.2 294.3h0M424.6 290.8h0M424.9 291.8h0M425.3 291.1h0M425.6 292.7h0M426.0 290.0h0M426.3 293.4h0M426.7 283.8h0M427.0 289.8h0M427.4 284.2h0M427.7 288.5h0M428.1 292.0h0M428.4 289.9h0M428.8 289.1h0M429.1 289.5h0M429.5 294.9h0M429.8 284.5h0M430.2 291.8h0M430.5 282.4h0M430.9 286.0h0M431.2 288.1h0M431.6 284.0h0M431.9 287.7h0M432.3 289.4h0M432.6 281.8h0M433.0 285.7h0M433.3 284.3h0M433.7 278.0h0M434.0 284.4h0M434.4 281.8h0M434.7 289.6h0M435.1 280.9h0M435.4 290.4h0M435.8 281.6h0M436.1 290.7h0M436.5 285.0h0M436.8 284.4h0M437.2 285.3h0M437.5 285.3h0M437.9 286.8h0M438.2 287.7h0M438.6 279.4h0M438.9 275.5h0M439.3 269.7h0M439.6 278.0h0M440.0 282.0h0M440.3 280.1h0M440.7 278.8h0M441.0 276.6h0M441.4 275.2h0M441.7 276.2h0M442.1 278.4h0M442.4 269.9h0M442.8 279.1h0M443.1 270.6h0M443.5 275.3h0M443.8 273.3h0M444.2 274.1h0M444.5 271.4h0M444.9 270.8h0M445.2 274.3h0M445.6 271.0h0M445.9 284.4h0M446.3 273.5h0M446.6 272.7h0M447.0 273.2h0M447.3 271.5h0M447.7 266.5h0M448.0 275.1h0M448.4 277.6h0M448.7 271.2h0M449.1 277.3h0M449.4 273.2h0M449.8 278.2h0M450.1 280.2h0M450.5 281.2h0M450.8 281.6h0M451.2 277.8h0M451.5 284.3h0M451.9 279.8h0M452.2 283.4h0M452.6 285.3h0M452.9 281.9h0M453.3 278.7h0M453.6 286.3h0M454.0 280.1h0M454.3 281.4h0M454.7 280.9h0M455.0 288.7h0M455.4 285.2h0M455.7 277.7h0M456.1 289.4h0M456.4 294.8h0M456.8 294.2h0M457.1 285.5h0M457.5 288.3h0M457.8 290.3h0M458.2 292.1h0M458.5 289.1h0M458.9 285.1h0M459.2 292.5h0M459.6 292.2h0M459.9 285.1h0M460.3 289.0h0M460.6 291.7h0M461.0 290.9h0M461.3 293.1h0M461.7 294.3h0M462.0 293.5h0M462.4 291.1h0M462.7 286.6h0M463.1 294.2h0M463.4 297.3h0M463.8 299.6h0M464.1 292.1h0M464.5 292.3h0M464.8 298.0h0M465.2 298.1h0M465.5 294.1h0M465.9 295.6h0M466.2 290.1h0M466.6 295.3h0M466.9 290.1h0M467.3 292.8h0M467.6 293.0h0M468.0 291.8h0M468.3 285.6h0M468.7 290.6h0M469.0 295.1h0M469.4 293.7h0M469.7 292.5h0M470.1 295.7h0M470.4 296.8h0M470.8 297.5h0M471.1 291.3h0M471.5 294.5h0M471.8 293.2h0M472.2 291.2h0M472.5 289.0h0M472.9 294.4h0M473.2 291.5h0M473.6 303.0h0M473.9 294.6h0M474.3 294.1h0M474.6 293.6h0M475.0 302.3h0M475.3 291.6h0M475.7 294.6h0M476.0 292.4h0M476.4 294.9h0M476.7 295.3h0M477.1 299.6h0M477.4 290.1h0M477.8 295.5h0M478.1 301.8h0M478.5 293.7h0M478.8 295.0h0M479.2 292.4h0M479.5 285.9h0M479.9 295.5h0M480.2 300.3h0M480.6 294.0h0M480.9 288.7h0M481.3 296.7h0M481.6 296.0h0M482.0 299.4h0M482.3 299.0h0M482.7 294.5h0M483.0 297.0h0M483.4 288.6h0M483.7 299.6h0M484.1 296.0h0M484.4 299.4h0M484.8 299.2h0M485.1 294.0h0M485.5 294.5h0M485.8 291.7h0M486.2 287.1h0M486.5 294.4h0M486.9 295.4h0M487.2 290.7h0M487.6 297.4h0M487.9 295.0h0M488.3 296.3h0M488.6 291.6h0M489.0 287.8h0M489.3 297.4h0M489.7 296.7h0M490.0 293.9h0M490.4 292.7h0M490.7 293.1h0M491.1 293.6h0M491.4 292.1h0M491.8 286.4h0M492.1 296.9h0M492.5 288.2h0M492.8 292.6h0M493.2 292.6h0M493.5 294.7h0M493.9 287.5h0M494.2 298.2h0M494.6 296.0h0M494.9 296.4h0M495.3 298.2h0M495.6 290.3h0M496.0 281.4h0M496.3 294.5h0M496.7 298.2h0M497.0 297.5h0M497.4 291.0h0M497.7 292.6h0M498.1 294.0h0M498.4 286.0h0M498.8 290.3h0M499.1 290.3h0M499.5 298.7h0M499.8 290.1h0M500.2 298.6h0M500.5 292.7h0M500.9 286.3h0M501.2 301.1h0M501.6 289.1h0M501.9 295.2h0M502.3 299.3h0M502.6 290.9h0M503.0 288.3h0M503.3 296.9h0M503.7 293.3h0M504.0 288.4h0M504.4 289.0h0M504.7 291.6h0M505.1 296.8h0M505.4 292.1h0M505.8 295.7h0M506.1 299.6h0M506.5 298.1h0M506.8 298.8h0M507.2 298.1h0M507.5 287.3h0M507.9 298.1h0M508.2 294.7h0M508.6 293.0h0M508.9 289.4h0M509.3 287.5h0M509.6 289.4h0M510.0 293.6h0M510.3 289.2h0M510.7 290.6h0M511.0 291.4h0M511.4 296.3h0M511.7 292.7h0M512.1 293.3h0M512.4 298.9h0M512.8 292.7h0M513.1 296.2h0M513.5 289.9h0M513.8 295.2h0M514.2 294.4h0M514.5 294.7h0M514.9 292.3h0M515.2 290.1h0M515.6 292.9h0M515.9 292.3h0M516.3 298.0h0M516.6 297.6h0M517.0 289.6h0M517.3 296.6h0M517.7 292.4h0M518.0 296.0h0M518.4 292.4h0M518.7 288.7h0M519.1 298.1h0M519.4 296.0h0M519.8 289.6h0M520.1 287.1h0M520.5 292.3h0M520.8 289.8h0M521.2 293.0h0M521.5 296.7h0M521.9 299.9h0M522.2 293.0h0M522.6 299.6h0M522.9 298.8h0M523.3 292.7h0M523.6 288.1h0M524.0 297.7h0M524.3 296.7h0M524.7 303.4h0M525.0 299.9h0M525.4 297.4h0M525.7 300.9h0M526.1 290.5h0M526.4 295.2h0M526.8 293.4h0M527.1 301.1h0M527.5 296.6h0M527.8 282.8h0M528.2 299.7h0M528.5 291.0h0M528.9 297.4h0M529.2 292.7h0M529.6 295.4h0M529.9 296.9h0M530.3 295.2h0M530.6 290.9h0M531.0 299.8h0M531.3 296.0h0M531.7 294.4h0M532.0 297.2h0M532.4 292.4h0M532.7 301.6h0M533.1 295.3h0M533.4 295.9h0M533.8 295.8h0M534.1 291.0h0M534.5 290.0h0M534.8 295.3h0M535.2 295.8h0M535.5 299.5h0M535.9 296.1h0M536.2 290.3h0M536.6 296.4h0M536.9 297.5h0M537.3 298.2h0M537.6 295.6h0M538.0 289.7h0M538.3 298.8h0M538.7 291.5h0M539.0 296.5h0M539.4 288.3h0M539.7 297.2h0M540.1 291.3h0M540.4 298.4h0M540.8 300.9h0M541.1 298.7h0M541.5 289.8h0M541.8 290.6h0M542.2 290.9h0M542.5 296.7h0M542.9 295.4h0M543.2 294.7h0M543.6 295.3h0M543.9 296.3h0M544.3 296.5h0M544.6 300.5h0M545.0 293.8h0M545.3 294.8h0M545.7 286.9h0M546.0 288.9h0M546.4 291.3h0M546.7 289.4h0M547.1 294.7h0M547.4 297.8h0M547.8 292.2h0M548.1 291.9h0M548.5 291.8h0M548.8 294.2h0M549.2 291.6h0M549.5 295.3h0M549.9 294.8h0M550.2 294.9h0M550.6 296.5h0M550.9 293.7h0M551.3 294.1h0M551.6 300.2h0M552.0 293.3h0M552.3 296.5h0M552.7 293.6h0M553.0 291.6h0M553.4 291.6h0M553.7 290.2h0M554.1 293.3h0M554.4 291.0h0M554.8 291.6h0M555.1 297.8h0M555.5 292.6h0M555.8 297.4h0M556.2 294.0h0M556.5 296.1h0M556.9 290.4h0M557.2 293.2h0M557.6 302.6h0M557.9 295.6h0M558.3 296.1h0M558.6 293.1h0M559.0 295.3h0M559.3 287.5h0M559.7 288.6h0M560.0 293.3h0M560.4 294.7h0M560.7 289.9h0M561.1 290.6h0M561.4 289.9h0M561.8 290.4h0M562.1 286.5h0M562.5 285.5h0M562.8 290.5h0M563.2 284.1h0M563.5 286.9h0M563.9 287.9h0M564.2 286.3h0M564.6 291.1h0M564.9 288.4h0M565.3 289.6h0M565.6 286.0h0M566.0 286.9h0M566.3 291.5h0M566.7 290.8h0M567.0 287.5h0M567.4 290.5h0M567.7 289.7h0M568.1 289.5h0M568.4 294.8h0M568.8 287.1h0M569.1 290.1h0M569.5 290.0h0M569.8 287.4h0M570.2 283.7h0M570.5 290.6h0M570.9 288.9h0M571.2 288.0h0M571.6 287.8h0M571.9 287.6h0M572.3 284.0h0M572.6 288.4h0M573.0 280.3h0M573.3 286.9h0M573.7 281.1h0M574.0 285.3h0M574.4 289.1h0M574.7 285.2h0M575.1 284.2h0M575.4 287.8h0M575.8 284.6h0M576.1 283.9h0M576.5 283.8h0M576.8 290.9h0M577.2 287.5h0M577.5 286.6h0M577.9 280.2h0M578.2 286.9h0M578.6 279.5h0M578.9 286.2h0M579.3 280.1h0M579.6 291.7h0M580.0 277.8h0M580.3 288.8h0M580.7 287.2h0M581.0 277.4h0M581.4 283.3h0M581.7 289.7h0M582.1 288.7h0M582.4 278.2h0M582.8 282.7h0M583.1 280.5h0M583.5 281.3h0M583.8 283.0h0M584.2 292.7h0M584.5 286.6h0M584.9 285.5h0M585.2 285.4h0M585.6 289.5h0M585.9 289.9h0M586.3 284.1h0M586.6 293.5h0M587.0 284.1h0M587.3 287.4h0M587.7 290.5h0M588.0 295.5h0M588.4 287.9h0M588.7 290.5h0M589.1 294.6h0M589.4 292.2h0M589.8 294.3h0M590.1 294.2h0M590.5 291.5h0M590.8 293.1h0M591.2 294.4h0M591.5 291.1h0M591.9 297.5h0M592.2 284.1h0M592.6 288.3h0M592.9 297.5h0M593.3 293.8h0M593.6 290.0h0M594.0 294.1h0M594.3 296.9h0M594.7 290.9h0M595.0 296.1h0M595.4 292.9h0M595.7 293.1h0M596.1 293.4h0M596.4 298.0h0M596.8 289.7h0M597.1 292.7h0M597.5 296.7h0M597.8 289.7h0M598.2 288.4h0M598.5 296.7h0M598.9 294.6h0M599.2 294.2h0M599.6 295.4h0M599.9 291.2h0M600.3 306.1h0M600.6 291.4h0M601.0 293.6h0M601.3 289.9h0M601.7 293.8h0M602.0 301.3h0M602.4 295.6h0M602.7 297.9h0M603.1 293.9h0M603.4 302.7h0M603.8 296.5h0M604.1 291.2h0M604.5 299.0h0M604.8 294.7h0M605.2 298.5h0M605.5 296.8h0M605.9 297.4h0M606.2 297.0h0M606.6 293.1h0M606.9 290.9h0M607.3 300.4h0M607.6 296.2h0M608.0 297.9h0M608.3 295.1h0M608.7 289.2h0M609.0 292.1h0M609.4 302.3h0M609.7 294.1h0M610.1 295.7h0M610.4 291.7h0M610.8 295.3h0M611.1 295.9h0M611.5 296.6h0M611.8 297.2h0M612.2 295.1h0M612.5 295.4h0M612.9 297.6h0M613.2 298.9h0M613.6 297.2h0M613.9 304.4h0M614.3 298.7h0M614.6 298.5h0M615.0 295.5h0M615.3 302.0h0M615.7 294.2h0M616.0 292.0h0M616.4 294.5h0M616.7 300.6h0M617.1 294.0h0M617.4 303.3h0M617.8 298.4h0M618.1 292.8h0M618.5 297.7h0M618.8 305.4h0M619.2 295.4h0M619.5 293.8h0M619.9 300.8h0M620.2 303.8h0M620.6 302.8h0M620.9 297.8h0M621.3 299.8h0M621.6 300.4h0M622.0 303.7h0M622.3 307.4h0M622.7 298.9h0M623.0 304.4h0M623.4 298.2h0M623.7 301.8h0M624.1 296.1h0M624.4 296.8h0M624.8 301.4h0M625.1 296.4h0M625.5 303.3h0M625.8 297.9h0M626.2 300.4h0M626.5 299.8h0M626.9 299.0h0M627.2 300.8h0M627.6 304.5h0M627.9 312.2h0M628.3 296.0h0M628.6 301.7h0M629.0 300.0h0M629.3 297.3h0M629.7 301.9h0M630.0 297.5h0M630.4 300.7h0M630.7 305.7h0M631.1 293.4h0M631.4 302.1h0M631.8 302.9h0M632.1 297.7h0M632.5 303.4h0M632.8 302.8h0M633.2 300.2h0M633.5 306.2h0M633.9 296.7h0M634.2 304.2h0M634.6 301.0h0M634.9 297.9h0M635.3 301.3h0M635.6 300.7h0M636.0 305.2h0M636.3 296.5h0M636.7 301.5h0M637.0 300.6h0M637.4 308.4h0M637.7 298.3h0M638.1 306.6h0M638.4 296.0h0M638.8 304.0h0M639.1 302.3h0M639.5 304.3h0M639.8 300.3h0M640.2 295.6h0M640.5 297.2h0M640.9 308.1h0M641.2 304.0h0M641.6 300.0h0M641.9 306.8h0M642.3 300.6h0M642.6 300.7h0M643.0 299.0h0M643.3 308.1h0M643.7 311.2h0M644.0 300.1h0M644.4 305.0h0M644.7 307.7h0M645.1 312.1h0M645.4 295.0h0M645.8 304.7h0M646.1 306.7h0M646.5 298.7h0M646.8 305.9h0M647.2 305.2h0M647.5 307.3h0M647.9 302.4h0M648.2 306.3h0M648.6 302.5h0M648.9 307.1h0M649.3 305.5h0M649.6 303.5h0M650.0 299.7h0M650.3 311.4h0M650.7 309.4h0M651.0 308.6h0M651.4 302.8h0M651.7 304.1h0M652.1 311.8h0M652.4 308.4h0M652.8 302.4h0M653.1 305.9h0M653.5 306.3h0M653.8 305.1h0M654.2 302.4h0M654.5 310.8h0M654.9 308.4h0M655.2 305.5h0M655.6 300.3h0M655.9 304.1h0M656.3 306.4h0M656.6 309.8h0M657.0 305.2h0M657.3 310.9h0M657.7 307.3h0M658.0 304.0h0M658.4 296.3h0M658.7 302.5h0M659.1 301.4h0M659.4 306.6h0M659.8 308.5h0M660.1 312.6h0M660.5 307.4h0M660.8 303.1h0M661.2 316.5h0M661.5 308.8h0M661.9 306.7h0M662.2 306.8h0M662.6 302.7h0M662.9 310.4h0M663.3 309.5h0M663.6 314.2h0M664.0 312.4h0M664.3 311.6h0M664.7 313.1h0M665.0 307.4h0M665.4 306.8h0" stroke="#F1BE5C" stroke-width="6.0" stroke-linecap="round" fill="none"/><polyline points="23.8,305.5 24.2,305.5 24.8,305.4 25.2,305.4 25.8,305.4 26.2,305.4 26.8,305.3 27.2,305.3 27.8,305.3 28.2,305.2 28.8,305.2 29.2,305.2 29.8,305.1 30.2,305.1 30.8,305.1 31.2,305.0 31.8,305.0 32.2,305.0 32.8,304.9 33.2,304.9 33.8,304.8 34.2,304.8 34.8,304.8 35.2,304.7 35.8,304.7 36.2,304.7 36.8,304.6 37.2,304.6 37.8,304.5 38.2,304.5 38.8,304.5 39.2,304.4 39.8,304.4 40.2,304.3 40.8,304.3 41.2,304.3 41.8,304.2 42.2,304.2 42.8,304.1 43.2,304.1 43.8,304.0 44.2,304.0 44.8,304.0 45.2,303.9 45.8,303.9 46.2,303.8 46.8,303.8 47.2,303.7 47.8,303.7 48.2,303.7 48.8,303.6 49.2,303.6 49.8,303.5 50.2,303.5 50.8,303.4 51.2,303.4 51.8,303.3 52.2,303.3 52.8,303.2 53.2,303.2 53.8,303.2 54.2,303.1 54.8,303.1 55.2,303.0 55.8,303.0 56.2,302.9 56.8,302.9 57.2,302.8 57.8,302.8 58.2,302.7 58.8,302.7 59.2,302.6 59.8,302.6 60.2,302.5 60.8,302.5 61.2,302.4 61.8,302.4 62.2,302.3 62.8,302.2 63.2,302.2 63.8,302.1 64.2,302.1 64.8,302.0 65.2,302.0 65.8,301.9 66.2,301.8 66.8,301.8 67.2,301.7 67.8,301.7 68.2,301.6 68.8,301.5 69.2,301.5 69.8,301.4 70.2,301.3 70.8,301.3 71.2,301.2 71.8,301.1 72.2,301.1 72.8,301.0 73.2,300.9 73.8,300.8 74.2,300.8 74.8,300.7 75.2,300.6 75.8,300.5 76.2,300.4 76.8,300.4 77.2,300.3 77.8,300.2 78.2,300.1 78.8,300.0 79.2,299.9 79.8,299.8 80.2,299.7 80.8,299.6 81.2,299.5 81.8,299.4 82.2,299.3 82.8,299.2 83.2,299.1 83.8,299.0 84.2,298.9 84.8,298.8 85.2,298.7 85.8,298.6 86.2,298.5 86.8,298.3 87.2,298.2 87.8,298.1 88.2,298.0 88.8,297.8 89.2,297.7 89.8,297.6 90.2,297.4 90.8,297.3 91.2,297.1 91.8,297.0 92.2,296.8 92.8,296.6 93.2,296.4 93.8,296.3 94.2,296.1 94.8,295.9 95.2,295.6 95.8,295.4 96.2,295.2 96.8,295.0 97.2,294.8 97.8,294.5 98.2,294.3 98.8,294.0 99.2,293.8 99.8,293.5 100.2,293.2 100.8,292.9 101.2,292.6 101.8,292.3 102.2,292.0 102.8,291.7 103.2,291.3 103.8,291.0 104.2,290.6 104.8,290.2 105.2,289.8 105.8,289.4 106.2,289.0 106.8,288.5 107.2,288.1 107.8,287.6 108.2,287.1 108.8,286.6 109.2,286.0 109.8,285.4 110.2,284.7 110.8,284.0 111.2,283.2 111.8,282.2 112.2,281.1 112.8,279.8 113.2,278.4 113.8,276.9 114.2,275.3 114.8,273.6 115.2,271.9 115.8,270.2 116.2,268.4 116.8,266.7 117.2,265.0 117.8,263.4 118.2,261.8 118.8,260.3 119.2,258.7 119.8,257.1 120.2,255.5 120.8,253.9 121.2,252.3 121.8,250.7 122.2,249.1 122.8,247.4 123.2,245.8 123.8,244.1 124.2,242.4 124.8,240.7 125.2,238.9 125.8,237.2 126.2,235.5 126.8,233.8 127.2,232.0 127.8,230.3 128.2,228.4 128.8,226.6 129.2,224.6 129.8,222.6 130.2,220.5 130.8,218.3 131.2,216.0 131.8,213.6 132.2,211.1 132.8,208.4 133.2,205.7 133.8,202.8 134.2,199.8 134.8,196.6 135.2,193.4 135.8,190.2 136.2,187.1 136.8,183.8 137.2,180.2 137.8,176.3 138.2,171.8 138.8,166.6 139.2,160.6 139.8,151.2 140.2,137.4 140.8,124.5 141.2,116.6 141.8,110.8 142.2,105.9 142.8,101.8 143.2,98.1 143.8,94.4 144.2,91.8 144.8,91.8 145.2,94.6 145.8,98.3 146.2,101.5 146.8,104.3 147.2,107.1 147.8,110.0 148.2,113.0 148.8,116.2 149.2,119.6 149.8,123.5 150.2,127.9 150.8,132.6 151.2,137.6 151.8,142.6 152.2,147.5 152.8,152.2 153.2,156.6 153.8,160.4 154.2,163.8 154.8,167.2 155.2,170.3 155.8,173.4 156.2,176.3 156.8,179.0 157.2,181.5 157.8,183.9 158.2,186.1 158.8,188.2 159.2,190.1 159.8,192.0 160.2,193.8 160.8,195.6 161.2,197.2 161.8,198.8 162.2,200.4 162.8,201.9 163.2,203.4 163.8,204.9 164.2,206.3 164.8,207.7 165.2,209.1 165.8,210.4 166.2,211.6 166.8,212.9 167.2,214.1 167.8,215.3 168.2,216.4 168.8,217.6 169.2,218.7 169.8,219.9 170.2,221.0 170.8,222.2 171.2,223.4 171.8,224.6 172.2,225.9 172.8,227.2 173.2,228.5 173.8,229.8 174.2,231.2 174.8,232.5 175.2,233.8 175.8,235.0 176.2,236.2 176.8,237.4 177.2,238.5 177.8,239.5 178.2,240.5 178.8,241.4 179.2,242.3 179.8,243.2 180.2,244.0 180.8,244.9 181.2,245.7 181.8,246.6 182.2,247.4 182.8,248.1 183.2,248.9 183.8,249.6 184.2,250.3 184.8,251.0 185.2,251.7 185.8,252.4 186.2,253.0 186.8,253.6 187.2,254.2 187.8,254.7 188.2,255.3 188.8,255.8 189.2,256.2 189.8,256.7 190.2,257.1 190.8,257.6 191.2,258.0 191.8,258.4 192.2,258.8 192.8,259.2 193.2,259.6 193.8,259.9 194.2,260.3 194.8,260.7 195.2,261.0 195.8,261.3 196.2,261.7 196.8,262.0 197.2,262.3 197.8,262.6 198.2,262.9 198.8,263.2 199.2,263.5 199.8,263.8 200.2,264.1 200.8,264.4 201.2,264.7 201.8,265.0 202.2,265.2 202.8,265.5 203.2,265.8 203.8,266.1 204.2,266.4 204.8,266.7 205.2,267.0 205.8,267.3 206.2,267.6 206.8,267.9 207.2,268.2 207.8,268.5 208.2,268.8 208.8,269.1 209.2,269.5 209.8,269.8 210.2,270.2 210.8,270.5 211.2,270.9 211.8,271.3 212.2,271.6 212.8,272.0 213.2,272.4 213.8,272.8 214.2,273.2 214.8,273.6 215.2,274.0 215.8,274.4 216.2,274.8 216.8,275.2 217.2,275.6 217.8,276.1 218.2,276.5 218.8,276.9 219.2,277.3 219.8,277.7 220.2,278.1 220.8,278.6 221.2,279.0 221.8,279.4 222.2,279.8 222.8,280.2 223.2,280.6 223.8,281.0 224.2,281.4 224.8,281.8 225.2,282.2 225.8,282.6 226.2,283.0 226.8,283.4 227.2,283.7 227.8,284.1 228.2,284.5 228.8,284.8 229.2,285.2 229.8,285.5 230.2,285.8 230.8,286.1 231.2,286.5 231.8,286.8 232.2,287.1 232.8,287.3 233.2,287.6 233.8,287.9 234.2,288.1 234.8,288.4 235.2,288.6 235.8,288.8 236.2,289.1 236.8,289.3 237.2,289.5 237.8,289.8 238.2,290.0 238.8,290.2 239.2,290.4 239.8,290.7 240.2,290.9 240.8,291.1 241.2,291.3 241.8,291.5 242.2,291.7 242.8,291.9 243.2,292.1 243.8,292.3 244.2,292.5 244.8,292.7 245.2,292.9 245.8,293.1 246.2,293.3 246.8,293.5 247.2,293.7 247.8,293.9 248.2,294.0 248.8,294.2 249.2,294.4 249.8,294.6 250.2,294.7 250.8,294.9 251.2,295.1 251.8,295.2 252.2,295.4 252.8,295.6 253.2,295.7 253.8,295.9 254.2,296.0 254.8,296.1 255.2,296.3 255.8,296.4 256.2,296.6 256.8,296.7 257.2,296.8 257.8,296.9 258.2,297.1 258.8,297.2 259.2,297.3 259.8,297.4 260.2,297.5 260.8,297.6 261.2,297.7 261.8,297.8 262.2,297.9 262.8,298.0 263.2,298.1 263.8,298.2 264.2,298.3 264.8,298.4 265.2,298.5 265.8,298.6 266.2,298.7 266.8,298.8 267.2,298.8 267.8,298.9 268.2,299.0 268.8,299.1 269.2,299.2 269.8,299.3 270.2,299.4 270.8,299.4 271.2,299.5 271.8,299.6 272.2,299.7 272.8,299.8 273.2,299.9 273.8,300.0 274.2,300.0 274.8,300.1 275.2,300.2 275.8,300.3 276.2,300.4 276.8,300.4 277.2,300.5 277.8,300.6 278.2,300.7 278.8,300.7 279.2,300.8 279.8,300.9 280.2,301.0 280.8,301.0 281.2,301.1 281.8,301.2 282.2,301.2 282.8,301.3 283.2,301.4 283.8,301.4 284.2,301.5 284.8,301.6 285.2,301.6 285.8,301.7 286.2,301.8 286.8,301.8 287.2,301.9 287.8,302.0 288.2,302.0 288.8,302.1 289.2,302.1 289.8,302.2 290.2,302.2 290.8,302.3 291.2,302.3 291.8,302.4 292.2,302.4 292.8,302.5 293.2,302.5 293.8,302.6 294.2,302.6 294.8,302.7 295.2,302.7 295.8,302.8 296.2,302.8 296.8,302.8 297.2,302.9 297.8,302.9 298.2,303.0 298.8,303.0 299.2,303.0 299.8,303.1 300.2,303.1 300.8,303.1 301.2,303.2 301.8,303.2 302.2,303.2 302.8,303.2 303.2,303.3 303.8,303.3 304.2,303.3 304.8,303.3 305.2,303.3 305.8,303.3 306.2,303.4 306.8,303.4 307.2,303.4 307.8,303.4 308.2,303.4 308.8,303.4 309.2,303.4 309.8,303.4 310.2,303.4 310.8,303.4 311.2,303.5 311.8,303.5 312.2,303.5 312.8,303.5 313.2,303.5 313.8,303.5 314.2,303.5 314.8,303.5 315.2,303.5 315.8,303.5 316.2,303.5 316.8,303.5 317.2,303.5 317.8,303.6 318.2,303.6 318.8,303.6 319.2,303.6 319.8,303.6 320.2,303.6 320.8,303.6 321.2,303.6 321.8,303.6 322.2,303.6 322.8,303.6 323.2,303.6 323.8,303.6 324.2,303.6 324.8,303.7 325.2,303.7 325.8,303.7 326.2,303.7 326.8,303.7 327.2,303.7 327.8,303.7 328.2,303.7 328.8,303.7 329.2,303.7 329.8,303.7 330.2,303.7 330.8,303.7 331.2,303.7 331.8,303.7 332.2,303.7 332.8,303.7 333.2,303.8 333.8,303.8 334.2,303.8 334.8,303.8 335.2,303.8 335.8,303.8 336.2,303.8 336.8,303.8 337.2,303.8 337.8,303.8 338.2,303.8 338.8,303.8 339.2,303.8 339.8,303.8 340.2,303.8 340.8,303.8 341.2,303.8 341.8,303.8 342.2,303.8 342.8,303.8 343.2,303.9 343.8,303.9 344.2,303.9 344.8,303.9 345.2,303.9 345.8,303.9 346.2,303.9 346.8,303.9 347.2,303.9 347.8,303.9 348.2,303.9 348.8,303.9 349.2,303.9 349.8,303.9 350.2,303.9 350.8,303.9 351.2,303.9 351.8,303.9 352.2,303.9 352.8,303.9 353.2,303.9 353.8,303.9 354.2,303.9 354.8,303.9 355.2,303.9 355.8,303.9 356.2,303.9 356.8,303.9 357.2,303.9 357.8,303.9 358.2,304.0 358.8,304.0 359.2,304.0 359.8,304.0 360.2,304.0 360.8,304.0 361.2,304.0 361.8,304.0 362.2,304.0 362.8,304.0 363.2,304.0 363.8,304.0 364.2,304.0 364.8,304.0 365.2,304.0 365.8,304.0 366.2,304.0 366.8,304.0 367.2,304.0 367.8,304.0 368.2,304.0 368.8,304.0 369.2,304.0 369.8,304.0 370.2,304.0 370.8,304.0 371.2,304.0 371.8,304.0 372.2,304.0 372.8,304.0 373.2,304.0 373.8,304.0 374.2,304.0 374.8,304.0 375.2,304.0 375.8,304.0 376.2,304.0 376.8,304.0 377.2,304.0 377.8,304.0 378.2,304.0 378.8,304.0 379.2,304.0 379.8,304.0 380.2,304.0 380.8,303.9 381.2,303.9 381.8,303.9 382.2,303.9 382.8,303.8 383.2,303.8 383.8,303.8 384.2,303.7 384.8,303.7 385.2,303.6 385.8,303.6 386.2,303.5 386.8,303.5 387.2,303.4 387.8,303.4 388.2,303.3 388.8,303.3 389.2,303.2 389.8,303.1 390.2,303.0 390.8,303.0 391.2,302.9 391.8,302.8 392.2,302.7 392.8,302.7 393.2,302.6 393.8,302.5 394.2,302.4 394.8,302.3 395.2,302.2 395.8,302.1 396.2,302.0 396.8,301.9 397.2,301.8 397.8,301.7 398.2,301.6 398.8,301.5 399.2,301.4 399.8,301.3 400.2,301.2 400.8,301.1 401.2,301.0 401.8,300.9 402.2,300.8 402.8,300.6 403.2,300.5 403.8,300.4 404.2,300.3 404.8,300.2 405.2,300.1 405.8,299.9 406.2,299.8 406.8,299.7 407.2,299.6 407.8,299.5 408.2,299.3 408.8,299.2 409.2,299.1 409.8,299.0 410.2,298.9 410.8,298.7 411.2,298.6 411.8,298.5 412.2,298.4 412.8,298.3 413.2,298.1 413.8,298.0 414.2,297.9 414.8,297.8 415.2,297.6 415.8,297.5 416.2,297.4 416.8,297.2 417.2,297.1 417.8,296.9 418.2,296.8 418.8,296.6 419.2,296.5 419.8,296.3 420.2,296.2 420.8,296.0 421.2,295.8 421.8,295.6 422.2,295.5 422.8,295.3 423.2,295.1 423.8,294.9 424.2,294.7 424.8,294.5 425.2,294.3 425.8,294.1 426.2,293.9 426.8,293.7 427.2,293.5 427.8,293.3 428.2,293.1 428.8,292.9 429.2,292.6 429.8,292.4 430.2,292.2 430.8,291.9 431.2,291.7 431.8,291.4 432.2,291.2 432.8,291.0 433.2,290.7 433.8,290.4 434.2,290.2 434.8,289.9 435.2,289.6 435.8,289.4 436.2,289.1 436.8,288.7 437.2,288.3 437.8,287.9 438.2,287.4 438.8,286.9 439.2,286.3 439.8,285.8 440.2,285.3 440.8,284.7 441.2,284.2 441.8,283.7 442.2,283.2 442.8,282.7 443.2,282.3 443.8,281.9 444.2,281.5 444.8,281.2 445.2,281.0 445.8,280.8 446.2,280.7 446.8,280.7 447.2,280.8 447.8,281.0 448.2,281.4 448.8,281.8 449.2,282.3 449.8,282.9 450.2,283.5 450.8,284.2 451.2,284.8 451.8,285.5 452.2,286.1 452.8,286.7 453.2,287.3 453.8,287.8 454.2,288.2 454.8,288.6 455.2,289.1 455.8,289.5 456.2,289.9 456.8,290.4 457.2,290.8 457.8,291.2 458.2,291.6 458.8,292.0 459.2,292.3 459.8,292.7 460.2,293.0 460.8,293.3 461.2,293.5 461.8,293.7 462.2,293.9 462.8,294.1 463.2,294.2 463.8,294.4 464.2,294.5 464.8,294.7 465.2,294.8 465.8,295.0 466.2,295.1 466.8,295.2 467.2,295.4 467.8,295.5 468.2,295.6 468.8,295.7 469.2,295.9 469.8,296.0 470.2,296.1 470.8,296.2 471.2,296.3 471.8,296.4 472.2,296.5 472.8,296.6 473.2,296.7 473.8,296.8 474.2,296.9 474.8,296.9 475.2,297.0 475.8,297.1 476.2,297.2 476.8,297.3 477.2,297.3 477.8,297.4 478.2,297.5 478.8,297.5 479.2,297.6 479.8,297.7 480.2,297.7 480.8,297.8 481.2,297.9 481.8,297.9 482.2,298.0 482.8,298.1 483.2,298.1 483.8,298.2 484.2,298.2 484.8,298.3 485.2,298.3 485.8,298.4 486.2,298.5 486.8,298.5 487.2,298.6 487.8,298.6 488.2,298.7 488.8,298.7 489.2,298.8 489.8,298.9 490.2,298.9 490.8,299.0 491.2,299.0 491.8,299.1 492.2,299.1 492.8,299.2 493.2,299.3 493.8,299.3 494.2,299.4 494.8,299.4 495.2,299.5 495.8,299.5 496.2,299.6 496.8,299.6 497.2,299.7 497.8,299.7 498.2,299.8 498.8,299.8 499.2,299.9 499.8,299.9 500.2,300.0 500.8,300.0 501.2,300.1 501.8,300.1 502.2,300.2 502.8,300.2 503.2,300.2 503.8,300.3 504.2,300.3 504.8,300.4 505.2,300.4 505.8,300.5 506.2,300.5 506.8,300.5 507.2,300.6 507.8,300.6 508.2,300.6 508.8,300.7 509.2,300.7 509.8,300.7 510.2,300.8 510.8,300.8 511.2,300.8 511.8,300.9 512.2,300.9 512.8,300.9 513.2,300.9 513.8,301.0 514.2,301.0 514.8,301.0 515.2,301.0 515.8,301.1 516.2,301.1 516.8,301.1 517.2,301.1 517.8,301.1 518.2,301.1 518.8,301.1 519.2,301.2 519.8,301.2 520.2,301.2 520.8,301.2 521.2,301.2 521.8,301.2 522.2,301.2 522.8,301.2 523.2,301.2 523.8,301.2 524.2,301.2 524.8,301.2 525.2,301.2 525.8,301.2 526.2,301.2 526.8,301.2 527.2,301.2 527.8,301.2 528.2,301.1 528.8,301.1 529.2,301.1 529.8,301.1 530.2,301.1 530.8,301.1 531.2,301.1 531.8,301.1 532.2,301.0 532.8,301.0 533.2,301.0 533.8,301.0 534.2,301.0 534.8,300.9 535.2,300.9 535.8,300.9 536.2,300.9 536.8,300.9 537.2,300.8 537.8,300.8 538.2,300.8 538.8,300.7 539.2,300.7 539.8,300.7 540.2,300.7 540.8,300.6 541.2,300.6 541.8,300.6 542.2,300.5 542.8,300.5 543.2,300.5 543.8,300.4 544.2,300.4 544.8,300.3 545.2,300.3 545.8,300.3 546.2,300.2 546.8,300.2 547.2,300.1 547.8,300.1 548.2,300.1 548.8,300.0 549.2,300.0 549.8,299.9 550.2,299.9 550.8,299.8 551.2,299.8 551.8,299.7 552.2,299.7 552.8,299.6 553.2,299.6 553.8,299.5 554.2,299.5 554.8,299.4 555.2,299.3 555.8,299.2 556.2,299.1 556.8,299.0 557.2,298.8 557.8,298.6 558.2,298.5 558.8,298.3 559.2,298.1 559.8,297.9 560.2,297.6 560.8,297.4 561.2,297.2 561.8,296.9 562.2,296.7 562.8,296.4 563.2,296.1 563.8,295.9 564.2,295.6 564.8,295.3 565.2,295.0 565.8,294.8 566.2,294.5 566.8,294.2 567.2,293.9 567.8,293.6 568.2,293.3 568.8,293.1 569.2,292.8 569.8,292.5 570.2,292.2 570.8,292.0 571.2,291.7 571.8,291.5 572.2,291.2 572.8,290.9 573.2,290.6 573.8,290.2 574.2,289.9 574.8,289.5 575.2,289.1 575.8,288.8 576.2,288.4 576.8,288.1 577.2,287.7 577.8,287.4 578.2,287.2 578.8,286.9 579.2,286.7 579.8,286.6 580.2,286.5 580.8,286.4 581.2,286.4 581.8,286.5 582.2,286.7 582.8,286.9 583.2,287.2 583.8,287.6 584.2,288.0 584.8,288.4 585.2,288.8 585.8,289.3 586.2,289.7 586.8,290.1 587.2,290.5 587.8,290.8 588.2,291.1 588.8,291.4 589.2,291.7 589.8,292.0 590.2,292.3 590.8,292.6 591.2,292.9 591.8,293.2 592.2,293.5 592.8,293.8 593.2,294.1 593.8,294.3 594.2,294.6 594.8,294.8 595.2,295.1 595.8,295.3 596.2,295.5 596.8,295.7 597.2,295.8 597.8,296.0 598.2,296.1 598.8,296.3 599.2,296.4 599.8,296.5 600.2,296.6 600.8,296.7 601.2,296.9 601.8,297.0 602.2,297.1 602.8,297.2 603.2,297.3 603.8,297.4 604.2,297.5 604.8,297.6 605.2,297.6 605.8,297.7 606.2,297.8 606.8,297.9 607.2,298.0 607.8,298.1 608.2,298.1 608.8,298.2 609.2,298.3 609.8,298.4 610.2,298.4 610.8,298.5 611.2,298.6 611.8,298.6 612.2,298.7 612.8,298.8 613.2,298.8 613.8,298.9 614.2,299.0 614.8,299.0 615.2,299.1 615.8,299.2 616.2,299.2 616.8,299.3 617.2,299.4 617.8,299.5 618.2,299.5 618.8,299.6 619.2,299.7 619.8,299.7 620.2,299.8 620.8,299.9 621.2,300.0 621.8,300.0 622.2,300.1 622.8,300.2 623.2,300.3 623.8,300.4 624.2,300.4 624.8,300.5 625.2,300.6 625.8,300.7 626.2,300.8 626.8,300.9 627.2,301.0 627.8,301.1 628.2,301.1 628.8,301.2 629.2,301.3 629.8,301.4 630.2,301.5 630.8,301.6 631.2,301.7 631.8,301.8 632.2,301.8 632.8,301.9 633.2,302.0 633.8,302.1 634.2,302.2 634.8,302.3 635.2,302.4 635.8,302.5 636.2,302.5 636.8,302.6 637.2,302.7 637.8,302.8 638.2,302.9 638.8,303.0 639.2,303.1 639.8,303.2 640.2,303.3 640.8,303.3 641.2,303.4 641.8,303.5 642.2,303.6 642.8,303.7 643.2,303.8 643.8,303.9 644.2,304.0 644.8,304.1 645.2,304.2 645.8,304.2 646.2,304.3 646.8,304.4 647.2,304.5 647.8,304.6 648.2,304.7 648.8,304.8 649.2,304.9 649.8,305.0 650.2,305.1 650.8,305.1 651.2,305.2 651.8,305.3 652.2,305.4 652.8,305.5 653.2,305.6 653.8,305.7 654.2,305.8 654.8,305.9 655.2,306.0 655.8,306.1 656.2,306.2 656.8,306.2 657.2,306.3 657.8,306.4 658.2,306.5 658.8,306.6 659.2,306.7 659.8,306.8 660.2,306.9 660.8,307.0 661.2,307.1 661.8,307.2 662.2,307.3 662.8,307.4 663.2,307.4 663.8,307.5 664.2,307.6 664.8,307.7 665.2,307.8 665.8,307.9" fill="none" stroke="#000" stroke-width="2" stroke-linejoin="round"/><path d="M27.0 782.5h0M27.3 784.1h0M27.6 783.6h0M27.9 783.6h0M28.2 785.0h0M28.5 780.5h0M28.8 781.4h0M29.1 780.3h0M29.4 782.2h0M29.7 784.0h0M30.0 782.4h0M30.3 783.2h0M30.6 779.3h0M30.9 782.6h0M31.2 780.9h0M31.5 785.2h0M31.8 783.8h0M32.1 783.9h0M32.4 782.2h0M32.7 783.3h0M33.0 783.4h0M33.3 781.7h0M33.6 781.5h0M33.9 782.1h0M34.2 781.3h0M34.5 781.3h0M34.8 781.8h0M35.1 781.1h0M35.4 783.4h0M35.7 779.6h0M36.0 783.5h0M36.3 781.2h0M36.6 781.3h0M36.9 780.0h0M37.2 781.9h0M37.5 781.7h0M37.8 782.4h0M38.1 781.2h0M38.4 782.2h0M38.7 784.9h0M39.0 782.7h0M39.3 781.1h0M39.6 783.5h0M39.9 781.7h0M40.2 782.9h0M40.5 782.9h0M40.8 781.3h0M41.1 778.8h0M41.4 781.3h0M41.7 782.7h0M42.0 781.2h0M42.3 782.5h0M42.6 783.3h0M42.9 780.9h0M43.2 783.7h0M43.5 784.3h0M43.8 783.4h0M44.1 783.5h0M44.4 783.4h0M44.7 785.2h0M45.0 781.9h0M45.3 781.6h0M45.6 782.5h0M45.9 780.1h0M46.2 779.0h0M46.5 780.0h0M46.8 782.0h0M47.1 782.2h0M47.4 778.9h0M47.7 778.3h0M48.0 780.8h0M48.3 781.0h0M48.6 781.2h0M48.9 782.3h0M49.2 783.2h0M49.5 781.5h0M49.8 782.1h0M50.1 779.4h0M50.4 779.2h0M50.7 781.4h0M51.0 782.1h0M51.3 782.1h0M51.6 781.9h0M51.9 782.2h0M52.2 782.2h0M52.5 778.0h0M52.8 779.6h0M53.1 781.5h0M53.4 781.7h0M53.7 778.3h0M54.0 782.6h0M54.3 779.9h0M54.6 780.2h0M54.9 781.0h0M55.2 781.7h0M55.5 778.2h0M55.8 782.0h0M56.1 780.5h0M56.4 779.2h0M56.7 779.9h0M57.0 776.8h0M57.3 779.2h0M57.6 780.5h0M57.9 779.1h0M58.2 779.6h0M58.5 779.9h0M58.8 780.1h0M59.1 781.7h0M59.4 779.9h0M59.7 779.5h0M60.0 780.8h0M60.3 783.2h0M60.6 779.3h0M60.9 780.6h0M61.2 777.2h0M61.5 781.8h0M61.8 780.7h0M62.1 781.7h0M62.4 779.5h0M62.7 777.8h0M63.0 780.9h0M63.3 780.6h0M63.6 778.0h0M63.9 777.0h0M64.2 780.0h0M64.5 778.9h0M64.8 783.4h0M65.1 778.1h0M65.4 778.2h0M65.7 778.9h0M66.0 776.3h0M66.3 777.5h0M66.6 781.5h0M66.9 778.6h0M67.2 777.8h0M67.5 776.7h0M67.8 779.6h0M68.1 779.7h0M68.4 779.0h0M68.7 777.9h0M69.0 779.0h0M69.3 779.0h0M69.6 777.3h0M69.9 779.3h0M70.2 774.8h0M70.5 776.1h0M70.8 777.6h0M71.1 777.8h0M71.4 776.0h0M71.7 778.3h0M72.0 779.4h0M72.3 778.3h0M72.6 777.8h0M72.9 778.6h0M73.2 777.8h0M73.5 775.2h0M73.8 776.5h0M74.1 778.7h0M74.4 774.7h0M74.7 776.4h0M75.0 775.5h0M75.3 774.5h0M75.6 774.2h0M75.9 775.7h0M76.2 775.9h0M76.5 775.7h0M76.8 772.6h0M77.1 774.3h0M77.4 775.1h0M77.7 775.8h0M78.0 775.1h0M78.3 775.2h0M78.6 775.3h0M78.9 774.7h0M79.2 771.8h0M79.5 772.9h0M79.8 771.4h0M80.1 768.5h0M80.4 769.4h0M80.7 775.1h0M81.0 769.7h0M81.3 767.6h0M81.6 770.0h0M81.9 773.1h0M82.2 770.3h0M82.5 770.7h0M82.8 769.4h0M83.1 769.4h0M83.4 771.2h0M83.7 770.2h0M84.0 768.5h0M84.3 769.7h0M84.6 769.7h0M84.9 767.3h0M85.2 767.8h0M85.5 767.4h0M85.8 765.6h0M86.1 768.2h0M86.4 765.8h0M86.7 764.7h0M87.0 762.6h0M87.3 762.9h0M87.6 767.0h0M87.9 762.3h0M88.2 764.4h0M88.5 762.7h0M88.8 763.7h0M89.1 763.3h0M89.4 760.7h0M89.7 760.9h0M90.0 761.1h0M90.3 760.5h0M90.6 759.8h0M90.9 758.7h0M91.2 759.6h0M91.5 760.1h0M91.8 758.2h0M92.1 755.5h0M92.4 756.6h0M92.7 755.4h0M93.0 755.3h0M93.3 756.7h0M93.6 752.6h0M93.9 752.1h0M94.2 749.8h0M94.5 749.9h0M94.8 748.3h0M95.1 750.3h0M95.4 746.6h0M95.7 743.4h0M96.0 745.4h0M96.2 739.2h0M96.3 741.7h0M96.5 740.9h0M96.6 739.1h0M96.8 736.7h0M96.9 735.9h0M97.1 734.5h0M97.2 735.2h0M97.4 729.2h0M97.5 731.1h0M97.8 730.2h0M98.0 728.1h0M98.1 725.1h0M98.3 726.6h0M98.4 724.7h0M98.6 726.1h0M98.7 726.0h0M98.9 722.8h0M99.0 718.6h0M99.2 720.3h0M99.3 718.0h0M99.5 719.5h0M99.6 720.0h0M99.8 716.7h0M99.9 718.3h0M100.1 716.4h0M100.2 714.0h0M100.4 710.5h0M100.5 711.0h0M100.7 707.8h0M100.8 710.2h0M101.0 707.9h0M101.1 708.5h0M101.3 706.0h0M101.4 702.1h0M101.6 704.4h0M101.7 703.7h0M102.0 702.6h0M102.3 697.7h0M102.6 696.1h0M102.9 695.4h0M103.2 692.8h0M103.5 691.1h0M103.8 689.9h0M104.1 691.1h0M104.4 687.4h0M104.7 685.7h0M105.0 684.6h0M105.3 683.3h0M105.6 682.3h0M105.9 680.5h0M106.2 678.6h0M106.5 676.4h0M106.8 674.4h0M107.0 673.0h0M107.1 671.5h0M107.3 672.1h0M107.4 669.7h0M107.6 669.2h0M107.7 667.3h0M107.9 666.0h0M108.0 664.6h0M108.2 662.5h0M108.3 661.6h0M108.5 660.1h0M108.6 658.5h0M108.8 656.5h0M108.9 654.8h0M109.0 653.0h0M109.1 651.5h0M109.2 649.1h0M109.3 648.3h0M109.4 647.8h0M109.5 645.6h0M109.6 644.3h0M109.7 642.1h0M109.8 640.3h0M109.9 639.9h0M110.0 637.3h0M110.1 636.1h0M110.2 633.8h0M110.3 631.5h0M110.4 628.7h0M110.5 628.2h0M110.6 625.7h0M110.6 623.7h0M110.7 623.8h0M110.8 621.8h0M110.8 619.9h0M110.9 617.9h0M110.9 616.0h0M111.0 614.5h0M111.1 612.5h0M111.1 610.6h0M111.2 609.1h0M111.2 605.7h0M111.3 605.5h0M111.4 602.9h0M111.5 601.9h0M111.5 600.2h0M111.6 597.4h0M111.7 596.8h0M111.8 595.4h0M111.9 593.2h0M112.1 591.6h0M112.2 590.2h0M112.4 587.6h0M112.5 587.0h0M112.7 586.1h0M112.8 584.5h0M113.0 582.8h0M113.1 582.3h0M113.3 582.2h0M113.4 581.1h0M113.7 578.6h0M114.0 577.1h0M114.3 577.2h0M114.6 577.7h0M114.9 578.4h0M115.2 579.9h0M115.5 581.9h0M115.8 583.5h0M116.1 583.4h0M116.4 586.8h0M116.7 587.9h0M117.0 589.9h0M117.3 590.7h0M117.6 592.1h0M117.9 593.7h0M118.2 592.1h0M118.5 595.1h0M118.8 595.0h0M119.1 594.5h0M119.4 594.3h0M119.7 595.9h0M120.0 595.1h0M120.3 595.7h0M120.6 594.8h0M120.9 593.9h0M121.2 593.7h0M121.5 592.4h0M121.8 591.7h0M122.1 590.7h0M122.4 589.3h0M122.7 588.4h0M123.0 587.3h0M123.3 585.2h0M123.6 585.1h0M123.9 584.9h0M124.2 585.1h0M124.5 585.3h0M124.8 587.2h0M125.1 589.4h0M125.4 591.2h0M125.7 593.9h0M126.0 594.8h0M126.2 595.9h0M126.3 596.9h0M126.5 598.2h0M126.6 599.3h0M126.8 600.0h0M126.9 602.4h0M127.1 604.1h0M127.2 605.6h0M127.4 606.0h0M127.5 607.9h0M127.7 610.4h0M127.8 611.0h0M128.0 612.7h0M128.1 614.0h0M128.3 616.1h0M128.4 617.6h0M128.6 619.8h0M128.7 620.3h0M128.9 621.7h0M129.0 622.3h0M129.2 624.2h0M129.3 625.4h0M129.5 627.1h0M129.6 628.1h0M129.8 630.9h0M129.9 631.3h0M130.1 633.6h0M130.2 634.4h0M130.4 636.8h0M130.5 639.1h0M130.7 639.5h0M130.8 641.7h0M131.0 643.1h0M131.1 644.9h0M131.3 646.6h0M131.4 647.8h0M131.6 649.6h0M131.7 651.0h0M131.9 652.5h0M132.0 653.9h0M132.2 656.5h0M132.3 657.2h0M132.5 659.4h0M132.6 660.8h0M132.8 661.5h0M132.9 663.9h0M133.1 664.3h0M133.2 666.4h0M133.4 668.0h0M133.5 668.2h0M133.7 669.3h0M133.8 670.5h0M134.0 673.4h0M134.1 673.2h0M134.3 673.9h0M134.4 676.1h0M134.6 676.8h0M134.7 678.0h0M134.9 678.6h0M135.0 679.1h0M135.2 680.9h0M135.3 681.8h0M135.5 682.5h0M135.6 683.9h0M135.8 684.9h0M135.9 687.2h0M136.1 688.2h0M136.2 689.1h0M136.4 689.3h0M136.5 689.7h0M136.8 693.0h0M137.1 695.1h0M137.4 697.7h0M137.7 698.5h0M138.0 700.3h0M138.3 702.7h0M138.6 703.1h0M138.9 705.1h0M139.2 709.0h0M139.5 708.2h0M139.8 711.8h0M140.1 715.1h0M140.4 716.1h0M140.7 718.2h0M141.0 717.6h0M141.3 720.9h0M141.6 722.3h0M141.9 725.3h0M142.2 726.5h0M142.5 727.3h0M142.8 731.7h0M143.1 730.7h0M143.4 730.5h0M143.7 731.0h0M144.0 733.0h0M144.3 733.1h0M144.6 737.6h0M144.9 736.8h0M145.2 736.3h0M145.5 736.7h0M145.8 736.9h0M146.1 739.0h0M146.4 742.4h0M146.7 742.5h0M147.0 741.9h0M147.3 743.0h0M147.6 740.5h0M147.9 745.5h0M148.2 744.6h0M148.5 747.9h0M148.8 746.1h0M149.1 746.3h0M149.4 748.0h0M149.7 747.3h0M150.0 751.1h0M150.3 750.0h0M150.6 750.7h0M150.9 751.3h0M151.2 750.7h0M151.5 752.6h0M151.8 752.6h0M152.1 755.6h0M152.4 753.4h0M152.7 754.4h0M153.0 753.5h0M153.3 754.1h0M153.6 754.7h0M153.9 757.6h0M154.2 756.1h0M154.5 757.9h0M154.8 756.3h0M155.1 756.6h0M155.4 754.4h0M155.7 759.2h0M156.0 761.6h0M156.3 758.3h0M156.6 761.3h0M156.9 760.7h0M157.2 758.6h0M157.5 761.2h0M157.8 758.9h0M158.1 760.1h0M158.4 762.9h0M158.7 761.5h0M159.0 759.6h0M159.3 764.1h0M159.6 760.3h0M159.9 762.1h0M160.2 762.1h0M160.5 762.6h0M160.8 761.7h0M161.1 760.7h0M161.4 766.5h0M161.7 762.3h0M162.0 762.6h0M162.3 760.3h0M162.6 764.5h0M162.9 766.6h0M163.2 767.0h0M163.5 769.3h0M163.8 767.4h0M164.1 765.8h0M164.4 765.4h0M164.7 767.7h0M165.0 765.5h0M165.3 766.0h0M165.6 764.3h0M165.9 766.1h0M166.2 769.2h0M166.5 766.0h0M166.8 766.9h0M167.1 762.5h0M167.4 768.6h0M167.7 767.1h0M168.0 768.9h0M168.3 767.1h0M168.6 765.4h0M168.9 764.7h0M169.2 767.7h0M169.5 767.0h0M169.8 765.5h0M170.1 767.0h0M170.4 766.2h0M170.7 768.4h0M171.0 766.7h0M171.3 765.5h0M171.6 767.3h0M171.9 766.7h0M172.2 770.0h0M172.5 766.9h0M172.8 765.6h0M173.1 767.7h0M173.4 767.5h0M173.7 768.4h0M174.0 768.4h0M174.3 766.5h0M174.6 768.1h0M174.9 768.1h0M175.2 766.4h0M175.5 767.5h0M175.8 768.8h0M176.1 766.0h0M176.4 766.9h0M176.7 768.0h0M177.0 768.6h0M177.3 769.6h0M177.6 766.7h0M177.9 769.4h0M178.2 770.0h0M178.5 771.6h0M178.8 768.5h0M179.1 767.8h0M179.4 766.9h0M179.7 770.3h0M180.0 771.5h0M180.3 768.5h0M180.6 770.3h0M180.9 771.1h0M181.2 771.3h0M181.5 769.3h0M181.8 771.0h0M182.1 770.0h0M182.4 768.7h0M182.7 770.7h0M183.0 771.0h0M183.3 769.0h0M183.6 771.3h0M183.9 773.9h0M184.2 768.4h0M184.5 772.0h0M184.8 772.4h0M185.1 771.2h0M185.4 771.7h0M185.7 770.9h0M186.0 773.6h0M186.3 770.0h0M186.6 771.4h0M186.9 768.6h0M187.2 772.3h0M187.5 772.5h0M187.8 769.4h0M188.1 770.8h0M188.4 773.0h0M188.7 771.6h0M189.0 770.6h0M189.3 768.6h0M189.6 773.3h0M189.9 775.9h0M190.2 772.2h0M190.5 773.8h0M190.8 773.9h0M191.1 773.2h0M191.4 773.6h0M191.7 773.8h0M192.0 772.4h0M192.3 777.9h0M192.6 778.4h0M192.9 774.7h0M193.2 777.2h0M193.5 773.1h0M193.8 774.2h0M194.1 776.5h0M194.4 773.0h0M194.7 772.9h0M195.0 775.7h0M195.3 772.1h0M195.6 778.1h0M195.9 776.7h0M196.2 776.1h0M196.5 776.9h0M196.8 774.5h0M197.1 774.6h0M197.4 777.6h0M197.7 777.9h0M198.0 776.7h0M198.3 776.5h0M198.6 775.9h0M198.9 779.1h0M199.2 774.6h0M199.5 775.7h0M199.8 776.4h0M200.1 774.9h0M200.4 775.4h0M200.7 775.9h0M201.0 779.3h0M201.3 780.7h0M201.6 778.5h0M201.9 775.4h0M202.2 777.2h0M202.5 778.0h0M202.8 777.9h0M203.1 777.8h0M203.4 779.4h0M203.7 775.5h0M204.0 777.8h0M204.3 779.2h0M204.6 780.0h0M204.9 779.4h0M205.2 779.1h0M205.5 778.9h0M205.8 778.2h0M206.1 779.4h0M206.4 779.0h0M206.7 778.3h0M207.0 781.4h0M207.3 781.5h0M207.6 779.0h0M207.9 780.7h0M208.2 781.6h0M208.5 780.2h0M208.8 780.0h0M209.1 780.6h0M209.4 777.2h0M209.7 777.6h0M210.0 780.8h0M210.3 780.4h0M210.6 782.2h0M210.9 779.3h0M211.2 781.9h0M211.5 781.8h0M211.8 783.3h0M212.1 778.9h0M212.4 779.7h0M212.7 780.7h0M213.0 780.7h0M213.3 778.8h0M213.6 779.5h0M213.9 778.3h0M214.2 784.1h0M214.5 780.4h0M214.8 780.5h0M215.1 779.6h0M215.4 780.6h0M215.7 781.9h0M216.0 780.1h0M216.3 780.6h0M216.6 784.2h0M216.9 782.2h0M217.2 781.2h0M217.5 780.1h0M217.8 780.8h0M218.1 779.7h0M218.4 781.3h0M218.7 779.8h0M219.0 779.8h0M219.3 780.3h0M219.6 779.3h0M219.9 781.3h0M220.2 785.1h0M220.5 780.1h0M220.8 778.4h0M221.1 782.6h0M221.4 781.0h0M221.7 784.3h0M222.0 781.8h0M222.3 782.7h0M222.6 780.0h0M222.9 778.7h0M223.2 780.9h0M223.5 782.3h0M223.8 779.9h0M224.1 778.8h0M224.4 780.4h0M224.7 780.6h0M225.0 780.8h0M225.3 781.3h0M225.6 785.2h0M225.9 781.4h0M226.2 780.6h0M226.5 779.7h0M226.8 782.7h0M227.1 778.9h0M227.4 783.8h0M227.7 781.5h0M228.0 779.1h0M228.3 781.8h0M228.6 781.4h0M228.9 783.5h0M229.2 779.2h0M229.5 781.9h0M229.8 781.6h0M230.1 783.1h0M230.4 779.9h0M230.7 780.4h0M231.0 784.8h0M231.3 782.6h0M231.6 779.4h0M231.9 782.3h0M232.2 780.5h0M232.5 780.7h0M232.8 779.8h0M233.1 783.4h0M233.4 781.0h0M233.7 782.2h0M234.0 782.0h0M234.3 779.4h0M234.6 780.7h0M234.9 783.1h0M235.2 779.4h0M235.5 782.3h0M235.8 781.8h0M236.1 783.0h0M236.4 783.0h0M236.7 783.3h0M237.0 782.1h0M237.3 782.4h0M237.6 780.9h0M237.9 781.1h0M238.2 783.4h0M238.5 781.1h0M238.8 783.7h0M239.1 783.6h0M239.4 780.8h0M239.7 782.9h0M240.0 780.8h0M240.3 782.6h0M240.6 780.8h0M240.9 782.6h0M241.2 782.3h0M241.5 780.4h0M241.8 785.4h0M242.1 783.6h0M242.4 779.5h0M242.7 782.7h0M243.0 781.4h0M243.3 785.4h0M243.6 782.0h0M243.9 782.7h0M244.2 781.8h0M244.5 783.1h0M244.8 781.3h0M245.1 780.7h0M245.4 781.3h0M245.7 781.4h0M246.0 783.1h0M246.3 782.3h0M246.6 781.4h0M246.9 781.5h0M247.2 780.7h0M247.5 782.3h0M247.8 778.9h0M248.1 781.8h0M248.4 784.0h0M248.7 781.5h0M249.0 781.1h0M249.3 782.2h0M249.6 780.6h0M249.9 780.9h0M250.2 783.2h0M250.5 781.1h0M250.8 785.2h0M251.1 783.0h0M251.4 781.9h0M251.7 781.1h0M252.0 781.7h0M252.3 778.5h0M252.6 782.5h0M252.9 783.5h0M253.2 783.0h0M253.5 781.4h0M253.8 783.1h0M254.1 783.1h0M254.4 781.9h0M254.7 782.6h0M255.0 783.7h0M255.3 782.8h0M255.6 781.5h0M255.9 782.1h0M256.2 782.3h0M256.5 779.5h0M256.8 782.3h0M257.1 781.9h0M257.4 778.6h0M257.7 779.3h0M258.0 784.9h0M258.3 782.2h0M258.6 784.2h0M258.9 781.5h0M259.2 784.5h0M259.5 783.0h0M259.8 780.9h0M260.1 782.5h0M260.4 784.5h0M260.7 785.9h0M261.0 782.9h0M261.3 781.3h0M261.6 780.6h0M261.9 783.1h0M262.2 783.8h0M262.5 782.2h0M262.8 781.8h0M263.1 783.3h0M263.4 782.8h0M263.7 782.6h0M264.0 779.6h0M264.3 781.5h0M264.6 785.0h0M264.9 782.0h0M265.2 785.9h0M265.5 782.6h0M265.8 781.5h0M266.1 782.4h0M266.4 782.9h0M266.7 780.8h0M267.0 782.4h0M267.3 781.3h0M267.6 784.3h0M267.9 781.2h0M268.2 782.1h0M268.5 779.5h0M268.8 779.7h0M269.1 781.8h0M269.4 780.4h0M269.7 781.4h0M270.0 782.3h0M270.3 782.8h0M270.6 779.6h0M270.9 781.6h0M271.2 782.9h0M271.5 780.8h0M271.8 779.8h0M272.1 780.7h0M272.4 784.4h0M272.7 781.9h0M273.0 784.3h0M273.3 781.3h0M273.6 783.7h0M273.9 779.5h0M274.2 781.4h0M274.5 781.9h0M274.8 784.6h0M275.1 782.5h0M275.4 783.6h0M275.7 781.1h0M276.0 781.1h0M276.3 783.8h0M276.6 784.0h0M276.9 783.7h0M277.2 783.6h0M277.5 780.9h0M277.8 785.1h0M278.1 782.0h0M278.4 783.7h0M278.7 782.9h0M279.0 778.9h0M279.3 778.5h0M279.6 779.1h0M279.9 781.6h0M280.2 783.4h0M280.5 781.2h0M280.8 783.0h0M281.1 779.6h0M281.4 780.6h0M281.7 780.1h0M282.0 781.6h0M282.3 779.7h0M282.6 781.4h0M282.9 782.5h0M283.2 780.8h0M283.5 780.1h0M283.8 780.8h0M284.1 779.5h0M284.4 779.8h0M284.7 782.8h0M285.0 782.0h0M285.3 779.2h0M285.6 781.0h0M285.9 782.2h0M286.2 782.7h0M286.5 782.4h0M286.8 783.0h0M287.1 781.3h0M287.4 781.4h0M287.7 781.0h0M288.0 783.1h0M288.3 782.7h0M288.6 784.2h0M288.9 783.1h0M289.2 780.0h0M289.5 778.9h0M289.8 779.1h0M290.1 779.9h0M290.4 782.3h0M290.7 779.0h0M291.0 778.0h0M291.3 780.9h0M291.6 782.5h0M291.9 782.4h0M292.2 783.8h0M292.5 781.0h0M292.8 780.2h0M293.1 780.5h0M293.4 778.8h0M293.7 779.9h0M294.0 783.0h0M294.3 784.2h0M294.6 782.9h0M294.9 781.3h0M295.2 780.3h0M295.5 781.1h0M295.8 777.6h0M296.1 781.5h0M296.4 781.8h0M296.7 780.3h0M297.0 780.5h0M297.3 777.7h0M297.6 781.6h0M297.9 781.5h0M298.2 775.8h0M298.5 779.2h0M298.8 780.7h0M299.1 782.7h0M299.4 778.6h0M299.7 779.9h0M300.0 782.3h0M300.3 780.6h0M300.6 779.4h0M300.9 779.0h0M301.2 779.7h0M301.5 778.4h0M301.8 781.2h0M302.1 778.1h0M302.4 780.4h0M302.7 780.9h0M303.0 781.3h0M303.3 779.6h0M303.6 779.4h0M303.9 779.8h0M304.2 779.4h0M304.5 781.0h0M304.8 779.0h0M305.1 782.2h0M305.4 783.6h0M305.7 778.0h0M306.0 779.7h0M306.3 777.1h0M306.6 780.1h0M306.9 779.5h0M307.2 778.5h0M307.5 777.1h0M307.8 778.8h0M308.1 781.9h0M308.4 781.3h0M308.7 779.3h0M309.0 777.6h0M309.3 778.5h0M309.6 777.3h0M309.9 776.4h0M310.2 777.0h0M310.5 779.5h0M310.8 778.9h0M311.1 778.7h0M311.4 776.6h0M311.7 776.1h0M312.0 780.0h0M312.3 777.8h0M312.6 780.3h0M312.9 777.2h0M313.2 780.0h0M313.5 778.8h0M313.8 777.7h0M314.1 777.7h0M314.4 781.5h0M314.7 779.9h0M315.0 778.0h0M315.3 778.8h0M315.6 776.0h0M315.9 781.3h0M316.2 780.8h0M316.5 778.0h0M316.8 779.4h0M317.1 774.2h0M317.4 780.3h0M317.7 779.5h0M318.0 779.2h0M318.3 780.2h0M318.6 779.4h0M318.9 777.4h0M319.2 777.9h0M319.5 778.7h0M319.8 780.5h0M320.1 779.2h0M320.4 778.1h0M320.7 779.8h0M321.0 777.3h0M321.3 782.7h0M321.6 779.9h0M321.9 777.9h0M322.2 779.8h0M322.5 781.3h0M322.8 780.5h0M323.1 783.0h0M323.4 777.5h0M323.7 782.4h0M324.0 779.8h0M324.3 781.3h0M324.6 782.7h0M324.9 778.1h0M325.2 777.8h0M325.5 779.5h0M325.8 777.6h0M326.1 777.0h0M326.4 780.5h0M326.7 782.3h0M327.0 779.7h0M327.3 781.3h0M327.6 786.5h0M327.9 781.2h0M328.2 780.2h0M328.5 780.5h0M328.8 781.5h0M329.1 780.4h0M329.4 782.0h0M329.7 781.3h0M330.0 782.5h0M330.3 781.3h0M330.6 780.9h0M330.9 779.6h0M331.2 778.9h0M331.5 780.7h0M331.8 780.6h0M332.1 781.7h0M332.4 781.1h0M332.7 780.7h0M333.0 785.0h0M333.3 781.8h0M333.6 783.3h0M333.9 779.7h0M334.2 783.0h0M334.5 783.3h0M334.8 782.1h0M335.1 780.0h0M335.4 783.4h0M335.7 780.2h0M336.0 778.9h0M336.3 778.8h0M336.6 781.5h0M336.9 780.6h0M337.2 782.7h0M337.5 782.5h0M337.8 783.6h0M338.1 781.9h0M338.4 781.6h0M338.7 781.4h0M339.0 780.1h0M339.3 780.0h0M339.6 780.2h0M339.9 781.7h0M340.2 780.0h0M340.5 781.2h0M340.8 783.1h0M341.1 777.5h0M341.4 779.9h0M341.7 779.7h0M342.0 781.3h0M342.3 778.9h0M342.6 780.2h0M342.9 785.0h0M343.2 779.1h0M343.5 781.1h0M343.8 781.6h0M344.1 780.8h0M344.4 779.3h0M344.7 782.8h0M345.0 778.1h0M345.3 779.7h0M345.6 780.8h0M345.9 780.2h0M346.2 783.1h0M346.5 780.6h0M346.8 784.2h0M347.1 781.1h0M347.4 783.6h0M347.7 781.8h0M348.0 780.7h0M348.3 780.6h0M348.6 782.7h0M348.9 780.1h0M349.2 781.0h0M349.5 779.7h0M349.8 777.7h0M350.1 781.8h0M350.4 782.0h0M350.7 779.0h0M351.0 781.7h0M351.3 780.5h0M351.6 777.8h0M351.9 779.4h0M352.2 782.0h0M352.5 782.5h0M352.8 781.5h0M353.1 785.3h0M353.4 781.4h0M353.7 779.6h0M354.0 778.5h0M354.3 783.2h0M354.6 780.0h0M354.9 780.2h0M355.2 779.5h0M355.5 779.5h0M355.8 780.2h0M356.1 781.5h0M356.4 781.6h0M356.7 781.3h0M357.0 782.2h0M357.3 779.9h0M357.6 779.1h0M357.9 780.6h0M358.2 777.4h0M358.5 782.0h0M358.8 781.5h0M359.1 781.5h0M359.4 778.9h0M359.7 779.8h0M360.0 780.6h0M360.3 778.9h0M360.6 778.8h0M360.9 780.2h0M361.2 780.7h0M361.5 779.4h0M361.8 782.1h0M362.1 784.0h0M362.4 781.3h0M362.7 780.1h0M363.0 779.8h0M363.3 782.9h0M363.6 780.8h0M363.9 781.3h0M364.2 780.6h0M364.5 779.3h0M364.8 782.6h0M365.1 779.8h0M365.4 780.4h0M365.7 776.7h0M366.0 783.6h0M366.3 781.3h0M366.6 779.9h0M366.9 778.7h0M367.2 779.0h0M367.5 777.2h0M367.8 780.7h0M368.1 778.5h0M368.4 780.5h0M368.7 780.6h0M369.0 782.9h0M369.3 780.1h0M369.6 780.2h0M369.9 780.5h0M370.2 778.7h0M370.5 779.3h0M370.8 780.2h0M371.1 781.5h0M371.4 780.8h0M371.7 779.1h0M372.0 781.5h0M372.3 778.9h0M372.6 777.0h0M372.9 781.9h0M373.2 779.4h0M373.5 778.6h0M373.8 777.4h0M374.1 778.6h0M374.4 782.0h0M374.7 779.1h0M375.0 782.8h0M375.3 779.2h0M375.6 781.0h0M375.9 779.2h0M376.2 778.3h0M376.5 778.3h0M376.8 778.6h0M377.1 777.0h0M377.4 776.9h0M377.7 779.5h0M378.0 780.8h0M378.3 779.0h0M378.6 778.8h0M378.9 777.2h0M379.2 780.5h0M379.5 780.3h0M379.8 776.7h0M380.1 778.6h0M380.4 777.9h0M380.7 775.9h0M381.0 780.7h0M381.3 779.9h0M381.6 778.3h0M381.9 779.8h0M382.2 776.5h0M382.5 777.5h0M382.8 779.0h0M383.1 776.1h0M383.4 776.7h0M383.7 774.4h0M384.0 776.7h0M384.3 777.2h0M384.6 773.4h0M384.9 773.4h0M385.2 774.2h0M385.5 776.3h0M385.8 772.9h0M386.1 772.0h0M386.4 772.9h0M386.7 774.6h0M387.0 770.0h0M387.3 771.9h0M387.6 774.0h0M387.9 771.6h0M388.2 770.9h0M388.5 772.5h0M388.8 768.9h0M389.1 773.8h0M389.4 771.0h0M389.7 769.3h0M390.0 769.8h0M390.3 769.2h0M390.6 768.5h0M390.9 766.8h0M391.2 768.0h0M391.5 765.4h0M391.8 770.1h0M392.1 765.9h0M392.4 766.4h0M392.7 766.1h0M393.0 768.4h0M393.3 766.9h0M393.6 769.5h0M393.9 766.5h0M394.2 767.6h0M394.5 767.4h0M394.8 767.1h0M395.1 769.7h0M395.4 770.2h0M395.7 770.6h0M396.0 766.7h0M396.3 769.8h0M396.6 767.8h0M396.9 768.2h0M397.2 767.5h0M397.5 769.3h0M397.8 772.2h0M398.1 773.9h0M398.4 774.8h0M398.7 770.9h0M399.0 771.7h0M399.3 773.4h0M399.6 773.5h0M399.9 773.8h0M400.2 770.8h0M400.5 773.5h0M400.8 774.9h0M401.1 774.5h0M401.4 774.1h0M401.7 773.2h0M402.0 774.4h0M402.3 777.3h0M402.6 775.7h0M402.9 776.7h0M403.2 777.8h0M403.5 773.6h0M403.8 776.5h0M404.1 776.4h0M404.4 777.9h0M404.7 775.5h0M405.0 775.7h0M405.3 775.1h0M405.6 776.6h0M405.9 776.0h0M406.2 776.3h0M406.5 777.2h0M406.8 776.2h0M407.1 775.4h0M407.4 776.4h0M407.7 776.3h0M408.0 777.9h0M408.3 779.3h0M408.6 776.9h0M408.9 773.6h0M409.2 778.6h0M409.5 777.6h0M409.8 776.3h0M410.1 777.5h0M410.4 780.9h0M410.7 775.6h0M411.0 776.2h0M411.3 778.0h0M411.6 773.2h0M411.9 777.5h0M412.2 779.8h0M412.5 779.2h0M412.8 779.0h0M413.1 777.9h0M413.4 778.2h0M413.7 782.8h0M414.0 778.8h0M414.3 780.6h0M414.6 776.4h0M414.9 778.8h0M415.2 779.0h0M415.5 778.7h0M415.8 775.0h0M416.1 777.8h0M416.4 780.8h0M416.7 779.3h0M417.0 777.2h0M417.3 779.8h0M417.6 775.4h0M417.9 779.3h0M418.2 778.9h0M418.5 777.4h0M418.8 776.7h0M419.1 775.7h0M419.4 778.0h0M419.7 781.1h0M420.0 779.7h0M420.3 778.9h0M420.6 779.7h0M420.9 777.3h0M421.2 779.1h0M421.5 773.5h0M421.8 777.4h0M422.1 777.4h0M422.4 778.0h0M422.7 777.8h0M423.0 779.0h0M423.3 777.0h0M423.6 779.5h0M423.9 777.6h0M424.2 779.3h0M424.5 778.1h0M424.8 779.3h0M425.1 778.6h0M425.4 776.9h0M425.7 778.1h0M426.0 775.7h0M426.3 777.8h0M426.6 778.3h0M426.9 777.2h0M427.2 777.4h0M427.5 779.2h0M427.8 779.5h0M428.1 779.8h0M428.4 776.6h0M428.7 776.8h0M429.0 778.7h0M429.3 778.8h0M429.6 774.4h0M429.9 780.5h0M430.2 779.1h0M430.5 775.3h0M430.8 779.1h0M431.1 776.5h0M431.4 777.0h0M431.7 775.5h0M432.0 775.8h0M432.3 776.4h0M432.6 777.2h0M432.9 775.2h0M433.2 776.8h0M433.5 775.8h0M433.8 776.0h0M434.1 775.4h0M434.4 775.8h0M434.7 779.3h0M435.0 774.1h0M435.3 774.5h0M435.6 776.5h0M435.9 775.8h0M436.2 774.8h0M436.5 777.1h0M436.8 774.6h0M437.1 776.4h0M437.4 777.9h0M437.7 777.2h0M438.0 775.8h0M438.3 776.2h0M438.6 776.5h0M438.9 777.1h0M439.2 774.6h0M439.5 778.1h0M439.8 777.2h0M440.1 778.9h0M440.4 777.2h0M440.7 777.5h0M441.0 771.1h0M441.3 775.0h0M441.6 778.6h0M441.9 776.2h0M442.2 774.8h0M442.5 776.5h0M442.8 775.5h0M443.1 775.9h0M443.4 774.0h0M443.7 775.9h0M444.0 777.4h0M444.3 775.3h0M444.6 775.5h0M444.9 773.6h0M445.2 775.4h0M445.5 773.9h0M445.8 772.2h0M446.1 773.6h0M446.4 773.8h0M446.7 775.0h0M447.0 775.5h0M447.3 773.6h0M447.6 773.2h0M447.9 774.7h0M448.2 772.1h0M448.5 772.9h0M448.8 773.0h0M449.1 773.0h0M449.4 772.2h0M449.7 775.7h0M450.0 774.5h0M450.3 772.6h0M450.6 770.5h0M450.9 771.8h0M451.2 773.5h0M451.5 769.3h0M451.8 776.4h0M452.1 772.2h0M452.4 772.1h0M452.7 773.1h0M453.0 769.7h0M453.3 772.1h0M453.6 771.9h0M453.9 772.9h0M454.2 770.1h0M454.5 772.7h0M454.8 773.5h0M455.1 772.0h0M455.4 770.6h0M455.7 770.1h0M456.0 768.5h0M456.3 770.4h0M456.6 772.1h0M456.9 773.7h0M457.2 772.9h0M457.5 773.1h0M457.8 770.4h0M458.1 770.5h0M458.4 768.7h0M458.7 770.1h0M459.0 769.3h0M459.3 770.7h0M459.6 772.2h0M459.9 770.9h0M460.2 770.6h0M460.5 772.3h0M460.8 773.6h0M461.1 772.9h0M461.4 768.5h0M461.7 774.0h0M462.0 770.5h0M462.3 768.9h0M462.6 770.7h0M462.9 772.9h0M463.2 767.0h0M463.5 773.4h0M463.8 771.7h0M464.1 772.2h0M464.4 769.2h0M464.7 770.5h0M465.0 769.6h0M465.3 773.3h0M465.6 770.2h0M465.9 772.1h0M466.2 770.4h0M466.5 768.8h0M466.8 773.0h0M467.1 773.5h0M467.4 774.0h0M467.7 770.7h0M468.0 771.7h0M468.3 772.8h0M468.6 772.2h0M468.9 772.1h0M469.2 775.5h0M469.5 771.1h0M469.8 773.2h0M470.1 771.0h0M470.4 774.2h0M470.7 771.5h0M471.0 770.4h0M471.3 773.2h0M471.6 772.1h0M471.9 771.4h0M472.2 771.7h0M472.5 771.1h0M472.8 772.9h0M473.1 772.7h0M473.4 774.8h0M473.7 771.1h0M474.0 774.5h0M474.3 773.1h0M474.6 770.0h0M474.9 774.7h0M475.2 769.5h0M475.5 773.2h0M475.8 769.4h0M476.1 772.8h0M476.4 771.8h0M476.7 772.0h0M477.0 769.4h0M477.3 771.2h0M477.6 774.4h0M477.9 773.5h0M478.2 772.4h0M478.5 772.4h0M478.8 771.5h0M479.1 774.9h0M479.4 772.6h0M479.7 774.4h0M480.0 770.3h0M480.3 770.2h0M480.6 774.9h0M480.9 771.3h0M481.2 772.4h0M481.5 773.5h0M481.8 774.2h0M482.1 773.7h0M482.4 773.6h0M482.7 775.3h0M483.0 773.0h0M483.3 774.1h0M483.6 772.6h0M483.9 772.8h0M484.2 775.5h0M484.5 772.0h0M484.8 768.3h0M485.1 772.4h0M485.4 772.5h0M485.7 775.1h0M486.0 771.4h0M486.3 770.1h0M486.6 772.1h0M486.9 774.8h0M487.2 771.1h0M487.5 773.6h0M487.8 772.3h0M488.1 772.4h0M488.4 769.9h0M488.7 771.3h0M489.0 769.8h0M489.3 771.0h0M489.6 769.7h0M489.9 772.5h0M490.2 769.8h0M490.5 770.1h0M490.8 766.8h0M491.1 768.7h0M491.4 774.1h0M491.7 769.4h0M492.0 767.4h0M492.3 769.8h0M492.6 769.4h0M492.9 768.8h0M493.2 769.1h0M493.5 768.7h0M493.8 770.9h0M494.1 767.4h0M494.4 769.6h0M494.7 770.5h0M495.0 767.6h0M495.3 772.7h0M495.6 769.0h0M495.9 768.7h0M496.2 767.9h0M496.5 770.1h0M496.8 766.2h0M497.1 769.6h0M497.4 772.2h0M497.7 769.2h0M498.0 770.0h0M498.3 767.2h0M498.6 769.9h0M498.9 767.4h0M499.2 767.9h0M499.5 768.7h0M499.8 771.8h0M500.1 767.7h0M500.4 765.5h0M500.7 768.9h0M501.0 770.0h0M501.3 769.8h0M501.6 769.1h0M501.9 771.0h0M502.2 770.2h0M502.5 770.1h0M502.8 768.1h0M503.1 766.4h0M503.4 771.4h0M503.7 767.4h0M504.0 770.9h0M504.3 770.7h0M504.6 766.9h0M504.9 767.8h0M505.2 769.5h0M505.5 770.4h0M505.8 767.3h0M506.1 768.4h0M506.4 767.2h0M506.7 766.9h0M507.0 769.0h0M507.3 768.1h0M507.6 765.6h0M507.9 769.6h0M508.2 768.3h0M508.5 768.3h0M508.8 766.8h0M509.1 770.1h0M509.4 769.4h0M509.7 769.4h0M510.0 768.9h0M510.3 769.5h0M510.6 771.6h0M510.9 769.3h0M511.2 769.4h0M511.5 768.3h0M511.8 770.1h0M512.1 768.7h0M512.4 767.9h0M512.7 770.9h0M513.0 768.8h0M513.3 767.7h0M513.6 768.0h0M513.9 768.3h0M514.2 767.4h0M514.5 771.5h0M514.8 770.1h0M515.1 767.0h0M515.4 771.1h0M515.7 768.6h0M516.0 769.7h0M516.3 768.6h0M516.6 769.9h0M516.9 769.9h0M517.2 770.5h0M517.5 770.6h0M517.8 765.2h0M518.1 768.5h0M518.4 769.3h0M518.7 769.0h0M519.0 767.0h0M519.3 768.7h0M519.6 769.0h0M519.9 766.0h0M520.2 767.9h0M520.5 770.5h0M520.8 768.2h0M521.1 769.1h0M521.4 769.4h0M521.7 770.3h0M522.0 770.7h0M522.3 771.3h0M522.6 769.8h0M522.9 770.0h0M523.2 769.5h0M523.5 770.1h0M523.8 769.7h0M524.1 771.1h0M524.4 771.1h0M524.7 767.8h0M525.0 766.5h0M525.3 770.9h0M525.6 769.4h0M525.9 767.8h0M526.2 771.9h0M526.5 772.9h0M526.8 768.7h0M527.1 769.0h0M527.4 769.5h0M527.7 769.4h0M528.0 770.6h0M528.3 769.0h0M528.6 770.9h0M528.9 770.3h0M529.2 772.7h0M529.5 771.0h0M529.8 772.7h0M530.1 773.7h0M530.4 772.2h0M530.7 772.5h0M531.0 770.8h0M531.3 771.6h0M531.6 775.4h0M531.9 774.0h0M532.2 771.9h0M532.5 771.3h0M532.8 771.8h0M533.1 773.9h0M533.4 768.9h0M533.7 772.7h0M534.0 770.3h0M534.3 774.8h0M534.6 770.3h0M534.9 774.1h0M535.2 772.3h0M535.5 772.8h0M535.8 775.6h0M536.1 773.0h0M536.4 774.2h0M536.7 773.8h0M537.0 771.4h0M537.3 773.3h0M537.6 775.0h0M537.9 774.1h0M538.2 773.9h0M538.5 772.5h0M538.8 776.2h0M539.1 772.9h0M539.4 776.8h0M539.7 774.3h0M540.0 775.3h0M540.3 771.9h0M540.6 774.5h0M540.9 772.9h0M541.2 774.7h0M541.5 776.6h0M541.8 775.3h0M542.1 775.3h0M542.4 776.5h0M542.7 773.1h0M543.0 775.4h0M543.3 774.3h0M543.6 777.2h0M543.9 774.4h0M544.2 778.3h0M544.5 779.1h0M544.8 772.5h0M545.1 775.8h0M545.4 773.6h0M545.7 778.3h0M546.0 775.0h0M546.3 777.6h0M546.6 777.2h0M546.9 775.3h0M547.2 774.4h0M547.5 778.8h0M547.8 776.2h0M548.1 777.7h0M548.4 779.7h0M548.7 777.5h0M549.0 777.1h0M549.3 776.1h0M549.6 778.6h0M549.9 776.7h0M550.2 775.4h0M550.5 777.3h0M550.8 777.3h0M551.1 775.8h0M551.4 778.1h0M551.7 780.0h0M552.0 779.7h0M552.3 782.1h0M552.6 780.8h0M552.9 779.5h0M553.2 775.9h0M553.5 779.6h0M553.8 781.3h0M554.1 779.0h0M554.4 781.9h0M554.7 778.1h0M555.0 780.1h0M555.3 781.1h0M555.6 782.6h0M555.9 779.9h0M556.2 783.2h0M556.5 779.5h0M556.8 777.2h0M557.1 780.0h0M557.4 782.5h0M557.7 779.8h0M558.0 783.1h0M558.3 780.1h0M558.6 783.6h0M558.9 776.9h0M559.2 784.3h0M559.5 777.2h0M559.8 780.5h0M560.1 778.7h0M560.4 781.2h0M560.7 780.4h0M561.0 780.3h0M561.3 781.8h0M561.6 782.4h0M561.9 780.3h0M562.2 783.0h0M562.5 778.1h0M562.8 779.2h0M563.1 778.8h0M563.4 781.9h0M563.7 782.6h0M564.0 780.4h0M564.3 780.1h0M564.6 779.2h0M564.9 782.4h0M565.2 783.2h0M565.5 780.4h0M565.8 781.1h0M566.1 780.7h0M566.4 781.4h0M566.7 782.2h0M567.0 777.8h0M567.3 780.6h0M567.6 782.9h0M567.9 780.1h0M568.2 783.7h0M568.5 784.0h0M568.8 780.1h0M569.1 780.4h0M569.4 783.9h0M569.7 779.1h0M570.0 780.1h0M570.3 779.2h0M570.6 781.9h0M570.9 782.5h0M571.2 782.8h0M571.5 782.4h0M571.8 779.7h0M572.1 784.0h0M572.4 782.0h0M572.7 781.4h0M573.0 785.0h0M573.3 782.3h0M573.6 782.7h0M573.9 783.6h0M574.2 785.6h0M574.5 782.2h0M574.8 783.4h0M575.1 778.4h0M575.4 780.7h0M575.7 785.7h0M576.0 785.7h0M576.3 782.1h0M576.6 780.9h0M576.9 780.1h0M577.2 780.4h0M577.5 781.5h0M577.8 779.6h0M578.1 782.3h0M578.4 782.2h0M578.7 780.5h0M579.0 780.4h0M579.3 780.6h0M579.6 781.8h0M579.9 782.2h0M580.2 783.5h0M580.5 779.7h0M580.8 782.1h0M581.1 782.7h0M581.4 783.2h0M581.7 784.1h0M582.0 782.0h0M582.3 784.8h0M582.6 786.5h0M582.9 783.5h0M583.2 785.3h0M583.5 784.4h0M583.8 783.5h0M584.1 782.5h0M584.4 783.2h0M584.7 786.2h0M585.0 783.0h0M585.3 781.6h0M585.6 782.0h0M585.9 784.2h0M586.2 781.8h0M586.5 784.4h0M586.8 784.1h0M587.1 783.3h0M587.4 785.6h0M587.7 780.8h0M588.0 782.0h0M588.3 782.6h0M588.6 783.6h0M588.9 780.7h0M589.2 782.0h0M589.5 785.0h0M589.8 782.2h0M590.1 784.4h0M590.4 782.5h0M590.7 781.6h0M591.0 783.7h0M591.3 785.0h0M591.6 782.8h0M591.9 780.7h0M592.2 781.6h0M592.5 782.1h0M592.8 782.4h0M593.1 781.3h0M593.4 784.0h0M593.7 781.1h0M594.0 784.5h0M594.3 781.1h0M594.6 781.2h0M594.9 784.7h0M595.2 784.0h0M595.5 782.3h0M595.8 781.8h0M596.1 782.5h0M596.4 782.9h0M596.7 783.2h0M597.0 784.6h0M597.3 781.5h0M597.6 782.8h0M597.9 782.9h0M598.2 780.6h0M598.5 784.8h0M598.8 785.6h0M599.1 782.8h0M599.4 779.9h0M599.7 781.5h0M600.0 784.4h0M600.3 779.5h0M600.6 779.5h0M600.9 782.0h0M601.2 783.6h0M601.5 784.2h0M601.8 784.5h0M602.1 778.9h0M602.4 781.8h0M602.7 781.2h0M603.0 781.2h0M603.3 784.1h0M603.6 783.5h0M603.9 781.6h0M604.2 783.2h0M604.5 783.1h0M604.8 784.9h0M605.1 781.9h0M605.4 783.8h0M605.7 781.6h0M606.0 783.5h0M606.3 782.8h0M606.6 783.2h0M606.9 782.8h0M607.2 785.3h0M607.5 781.7h0M607.8 781.4h0M608.1 782.0h0M608.4 783.6h0M608.7 784.1h0M609.0 782.8h0M609.3 781.9h0M609.6 782.3h0M609.9 781.8h0M610.2 783.7h0M610.5 782.9h0M610.8 783.3h0M611.1 783.1h0M611.4 783.1h0M611.7 784.8h0M612.0 782.2h0M612.3 783.6h0M612.6 783.7h0M612.9 781.8h0M613.2 785.5h0M613.5 783.3h0M613.8 781.1h0M614.1 784.4h0M614.4 783.8h0M614.7 784.0h0M615.0 782.6h0M615.3 782.4h0M615.6 783.2h0M615.9 780.8h0M616.2 783.2h0M616.5 783.0h0M616.8 784.3h0M617.1 782.6h0M617.4 783.8h0M617.7 780.7h0M618.0 781.7h0M618.3 784.1h0M618.6 785.2h0M618.9 784.3h0M619.2 780.5h0M619.5 781.3h0M619.8 781.9h0M620.1 784.8h0M620.4 781.9h0M620.7 783.2h0M621.0 783.6h0M621.3 783.6h0M621.6 782.6h0M621.9 783.4h0M622.2 784.2h0M622.5 783.1h0M622.8 782.8h0M623.1 784.1h0M623.4 785.3h0M623.7 786.7h0M624.0 781.1h0M624.3 783.3h0M624.6 783.1h0M624.9 781.2h0M625.2 782.4h0M625.5 781.8h0M625.8 781.3h0M626.1 781.9h0M626.4 783.9h0M626.7 781.3h0M627.0 782.0h0M627.3 782.6h0M627.6 781.3h0M627.9 780.9h0M628.2 780.4h0M628.5 781.7h0M628.8 785.0h0M629.1 780.2h0M629.4 784.1h0M629.7 781.4h0M630.0 781.3h0M630.3 784.0h0M630.6 783.7h0M630.9 783.8h0M631.2 782.8h0M631.5 784.1h0M631.8 781.8h0M632.1 783.3h0M632.4 784.3h0M632.7 782.7h0M633.0 781.5h0M633.3 785.4h0M633.6 782.4h0M633.9 781.3h0M634.2 783.8h0M634.5 784.8h0M634.8 783.7h0M635.1 780.9h0M635.4 782.9h0M635.7 783.3h0M636.0 783.8h0M636.3 780.6h0M636.6 780.8h0M636.9 783.1h0M637.2 782.8h0M637.5 783.5h0M637.8 784.6h0M638.1 780.7h0M638.4 781.0h0M638.7 781.9h0M639.0 785.2h0M639.3 782.5h0M639.6 784.3h0M639.9 779.0h0M640.2 783.1h0M640.5 784.2h0M640.8 785.0h0M641.1 781.7h0M641.4 786.0h0M641.7 781.5h0M642.0 785.1h0M642.3 785.5h0M642.6 782.7h0M642.9 780.7h0M643.2 786.3h0M643.5 783.4h0M643.8 780.9h0M644.1 783.6h0M644.4 781.2h0M644.7 783.1h0M645.0 781.1h0M645.3 779.2h0M645.6 783.9h0M645.9 781.7h0M646.2 782.6h0M646.5 782.9h0M646.8 782.5h0M647.1 781.6h0M647.4 783.3h0M647.7 783.7h0M648.0 783.1h0M648.3 782.2h0M648.6 782.8h0M648.9 785.1h0M649.2 784.7h0M649.5 782.4h0M649.8 783.8h0M650.1 783.7h0M650.4 783.8h0M650.7 782.9h0M651.0 783.6h0M651.3 782.3h0M651.6 784.0h0M651.9 783.7h0M652.2 783.9h0M652.5 783.9h0M652.8 783.8h0M653.1 781.6h0M653.4 781.0h0M653.7 783.1h0M654.0 782.2h0M654.3 784.0h0M654.6 781.8h0M654.9 782.1h0M655.2 780.7h0M655.5 782.6h0M655.8 782.2h0M656.1 784.6h0M656.4 782.9h0M656.7 785.0h0M657.0 781.6h0M657.3 780.3h0M657.6 784.5h0M657.9 783.6h0M658.2 785.3h0M658.5 781.7h0M658.8 780.1h0M659.1 785.3h0M659.4 783.3h0M659.7 781.9h0M660.0 786.2h0M660.3 782.9h0M660.6 781.6h0M660.9 783.5h0M661.2 782.1h0M661.5 781.6h0M661.8 783.5h0M662.1 782.9h0M662.4 782.6h0M662.7 782.7h0M663.0 780.7h0M663.3 784.0h0M663.6 785.9h0M663.9 783.3h0M664.2 784.9h0M664.5 786.0h0M664.8 782.5h0M665.1 781.8h0M665.4 781.3h0M665.7 782.1h0M666.0 784.0h0M666.3 782.6h0M666.6 784.7h0M666.9 781.8h0M667.2 785.4h0M667.5 782.3h0M667.8 782.6h0M668.1 782.9h0" stroke="#F1BE5C" stroke-width="5.4" stroke-linecap="round" fill="none"/><polyline points="26.3,780.5 26.8,780.5 27.3,780.5 27.8,780.5 28.3,780.5 28.8,780.5 29.3,780.5 29.8,780.5 30.3,780.5 30.8,780.5 31.3,780.5 31.8,780.4 32.3,780.4 32.8,780.4 33.3,780.4 33.8,780.4 34.3,780.4 34.8,780.4 35.3,780.4 35.8,780.3 36.3,780.3 36.8,780.3 37.3,780.3 37.8,780.3 38.3,780.2 38.8,780.2 39.3,780.2 39.8,780.2 40.3,780.1 40.8,780.1 41.3,780.1 41.8,780.1 42.3,780.0 42.8,780.0 43.3,780.0 43.8,779.9 44.3,779.9 44.8,779.9 45.3,779.8 45.8,779.8 46.3,779.8 46.8,779.7 47.3,779.7 47.8,779.7 48.3,779.6 48.8,779.6 49.3,779.5 49.8,779.5 50.3,779.4 50.8,779.4 51.3,779.4 51.8,779.3 52.3,779.3 52.8,779.2 53.3,779.2 53.8,779.1 54.3,779.1 54.8,779.0 55.3,779.0 55.8,778.9 56.3,778.8 56.8,778.8 57.3,778.7 57.8,778.7 58.3,778.6 58.8,778.6 59.3,778.5 59.8,778.4 60.3,778.4 60.8,778.3 61.3,778.2 61.8,778.2 62.3,778.1 62.8,778.0 63.3,778.0 63.8,777.9 64.3,777.8 64.8,777.7 65.3,777.7 65.8,777.6 66.3,777.5 66.8,777.4 67.3,777.4 67.8,777.3 68.3,777.2 68.8,777.1 69.3,777.0 69.8,777.0 70.3,776.9 70.8,776.7 71.3,776.6 71.8,776.4 72.3,776.2 72.8,776.0 73.3,775.8 73.8,775.6 74.3,775.3 74.8,775.0 75.3,774.7 75.8,774.4 76.3,774.1 76.8,773.7 77.3,773.4 77.8,773.0 78.3,772.6 78.8,772.2 79.3,771.8 79.8,771.4 80.3,771.0 80.8,770.5 81.3,770.1 81.8,769.6 82.3,769.1 82.8,768.7 83.3,768.2 83.8,767.7 84.3,767.2 84.8,766.7 85.3,766.2 85.8,765.7 86.3,765.1 86.8,764.5 87.3,763.9 87.8,763.3 88.3,762.6 88.8,761.9 89.3,761.1 89.8,760.3 90.3,759.4 90.8,758.5 91.3,757.5 91.8,756.4 92.3,755.3 92.8,754.1 93.3,752.9 93.8,751.5 94.3,750.1 94.8,748.3 95.3,745.9 95.8,742.9 96.3,739.5 96.8,736.0 97.3,732.6 97.8,729.3 98.3,725.9 98.8,722.4 99.3,718.9 99.8,715.2 100.3,711.6 100.8,708.1 101.3,704.6 101.8,701.3 102.3,698.2 102.8,695.4 103.3,692.8 103.8,690.3 104.3,687.9 104.8,685.6 105.3,683.1 105.8,680.5 106.3,677.7 106.8,674.5 107.3,671.0 107.8,667.0 108.3,662.2 108.8,656.5 109.3,649.7 109.8,642.1 110.3,633.6 110.8,622.9 111.3,608.2 111.8,598.9 112.3,594.2 112.8,591.0 113.3,588.6 113.8,586.6 114.3,586.0 114.8,586.9 115.3,588.4 115.8,589.9 116.3,591.6 116.8,593.4 117.3,595.1 117.8,596.6 118.3,597.6 118.8,598.6 119.3,599.5 119.8,600.0 120.3,600.0 120.8,599.7 121.3,599.4 121.8,599.1 122.3,598.9 122.8,598.7 123.3,598.6 123.8,598.5 124.3,598.8 124.8,599.7 125.3,600.9 125.8,602.4 126.3,604.1 126.8,606.9 127.3,610.5 127.8,614.6 128.3,618.9 128.8,623.3 129.3,627.6 129.8,632.2 130.3,637.2 130.8,642.4 131.3,647.6 131.8,652.9 132.3,657.9 132.8,662.7 133.3,667.0 133.8,671.0 134.3,674.9 134.8,678.6 135.3,682.2 135.8,685.7 136.3,689.1 136.8,692.4 137.3,695.6 137.8,698.8 138.3,701.9 138.8,705.1 139.3,708.2 139.8,711.4 140.3,714.5 140.8,717.5 141.3,720.4 141.8,723.1 142.3,725.6 142.8,727.9 143.3,729.9 143.8,731.6 144.3,733.2 144.8,734.8 145.3,736.3 145.8,737.8 146.3,739.2 146.8,740.6 147.3,741.9 147.8,743.1 148.3,744.3 148.8,745.5 149.3,746.6 149.8,747.6 150.3,748.7 150.8,749.6 151.3,750.5 151.8,751.4 152.3,752.2 152.8,753.0 153.3,753.7 153.8,754.4 154.3,755.1 154.8,755.7 155.3,756.4 155.8,757.0 156.3,757.6 156.8,758.1 157.3,758.7 157.8,759.2 158.3,759.7 158.8,760.2 159.3,760.7 159.8,761.2 160.3,761.6 160.8,762.0 161.3,762.4 161.8,762.7 162.3,763.1 162.8,763.4 163.3,763.7 163.8,763.9 164.3,764.1 164.8,764.4 165.3,764.6 165.8,764.7 166.3,764.9 166.8,765.1 167.3,765.3 167.8,765.4 168.3,765.6 168.8,765.7 169.3,765.8 169.8,766.0 170.3,766.1 170.8,766.2 171.3,766.3 171.8,766.5 172.3,766.6 172.8,766.7 173.3,766.9 173.8,767.0 174.3,767.1 174.8,767.3 175.3,767.4 175.8,767.5 176.3,767.7 176.8,767.8 177.3,767.9 177.8,768.0 178.3,768.2 178.8,768.3 179.3,768.4 179.8,768.5 180.3,768.7 180.8,768.8 181.3,768.9 181.8,769.0 182.3,769.2 182.8,769.3 183.3,769.5 183.8,769.6 184.3,769.8 184.8,769.9 185.3,770.1 185.8,770.2 186.3,770.4 186.8,770.6 187.3,770.8 187.8,771.0 188.3,771.2 188.8,771.4 189.3,771.6 189.8,771.8 190.3,772.0 190.8,772.2 191.3,772.5 191.8,772.7 192.3,772.9 192.8,773.1 193.3,773.3 193.8,773.6 194.3,773.8 194.8,774.0 195.3,774.2 195.8,774.5 196.3,774.7 196.8,774.9 197.3,775.1 197.8,775.3 198.3,775.5 198.8,775.8 199.3,776.0 199.8,776.2 200.3,776.4 200.8,776.5 201.3,776.7 201.8,776.9 202.3,777.1 202.8,777.2 203.3,777.4 203.8,777.6 204.3,777.7 204.8,777.8 205.3,778.0 205.8,778.1 206.3,778.2 206.8,778.3 207.3,778.4 207.8,778.5 208.3,778.6 208.8,778.6 209.3,778.7 209.8,778.7 210.3,778.8 210.8,778.9 211.3,778.9 211.8,779.0 212.3,779.0 212.8,779.1 213.3,779.1 213.8,779.2 214.3,779.3 214.8,779.3 215.3,779.4 215.8,779.4 216.3,779.5 216.8,779.5 217.3,779.6 217.8,779.6 218.3,779.7 218.8,779.7 219.3,779.8 219.8,779.8 220.3,779.9 220.8,779.9 221.3,780.0 221.8,780.0 222.3,780.0 222.8,780.1 223.3,780.1 223.8,780.2 224.3,780.2 224.8,780.2 225.3,780.3 225.8,780.3 226.3,780.4 226.8,780.4 227.3,780.4 227.8,780.5 228.3,780.5 228.8,780.5 229.3,780.6 229.8,780.6 230.3,780.6 230.8,780.6 231.3,780.7 231.8,780.7 232.3,780.7 232.8,780.8 233.3,780.8 233.8,780.8 234.3,780.8 234.8,780.8 235.3,780.9 235.8,780.9 236.3,780.9 236.8,780.9 237.3,780.9 237.8,780.9 238.3,780.9 238.8,781.0 239.3,781.0 239.8,781.0 240.3,781.0 240.8,781.0 241.3,781.0 241.8,781.0 242.3,781.0 242.8,781.0 243.3,781.0 243.8,781.0 244.3,781.0 244.8,781.0 245.3,781.0 245.8,781.0 246.3,781.0 246.8,781.0 247.3,781.0 247.8,781.0 248.3,781.0 248.8,781.0 249.3,781.0 249.8,781.0 250.3,781.0 250.8,781.0 251.3,781.0 251.8,781.0 252.3,781.0 252.8,781.0 253.3,780.9 253.8,780.9 254.3,780.9 254.8,780.9 255.3,780.9 255.8,780.9 256.3,780.9 256.8,780.9 257.3,780.9 257.8,780.9 258.3,780.9 258.8,780.9 259.3,780.9 259.8,780.9 260.3,780.9 260.8,780.8 261.3,780.8 261.8,780.8 262.3,780.8 262.8,780.8 263.3,780.8 263.8,780.8 264.3,780.8 264.8,780.8 265.3,780.8 265.8,780.7 266.3,780.7 266.8,780.7 267.3,780.7 267.8,780.7 268.3,780.7 268.8,780.7 269.3,780.7 269.8,780.7 270.3,780.6 270.8,780.6 271.3,780.6 271.8,780.6 272.3,780.6 272.8,780.6 273.3,780.6 273.8,780.6 274.3,780.5 274.8,780.5 275.3,780.5 275.8,780.5 276.3,780.5 276.8,780.5 277.3,780.4 277.8,780.4 278.3,780.4 278.8,780.4 279.3,780.4 279.8,780.4 280.3,780.4 280.8,780.3 281.3,780.3 281.8,780.3 282.3,780.3 282.8,780.3 283.3,780.3 283.8,780.2 284.3,780.2 284.8,780.2 285.3,780.2 285.8,780.2 286.3,780.1 286.8,780.1 287.3,780.1 287.8,780.1 288.3,780.1 288.8,780.0 289.3,780.0 289.8,780.0 290.3,780.0 290.8,780.0 291.3,779.9 291.8,779.9 292.3,779.8 292.8,779.8 293.3,779.7 293.8,779.7 294.3,779.6 294.8,779.5 295.3,779.5 295.8,779.4 296.3,779.3 296.8,779.2 297.3,779.1 297.8,779.1 298.3,779.0 298.8,778.9 299.3,778.8 299.8,778.7 300.3,778.6 300.8,778.5 301.3,778.4 301.8,778.3 302.3,778.2 302.8,778.1 303.3,778.0 303.8,777.9 304.3,777.9 304.8,777.8 305.3,777.7 305.8,777.6 306.3,777.5 306.8,777.5 307.3,777.4 307.8,777.3 308.3,777.3 308.8,777.2 309.3,777.2 309.8,777.1 310.3,777.1 310.8,777.1 311.3,777.0 311.8,777.0 312.3,777.0 312.8,777.0 313.3,777.0 313.8,777.0 314.3,777.0 314.8,777.1 315.3,777.1 315.8,777.1 316.3,777.2 316.8,777.3 317.3,777.3 317.8,777.4 318.3,777.5 318.8,777.5 319.3,777.6 319.8,777.7 320.3,777.8 320.8,777.9 321.3,778.0 321.8,778.1 322.3,778.2 322.8,778.3 323.3,778.4 323.8,778.5 324.3,778.6 324.8,778.7 325.3,778.8 325.8,778.9 326.3,779.0 326.8,779.1 327.3,779.2 327.8,779.3 328.3,779.3 328.8,779.4 329.3,779.5 329.8,779.6 330.3,779.7 330.8,779.7 331.3,779.8 331.8,779.8 332.3,779.9 332.8,779.9 333.3,779.9 333.8,780.0 334.3,780.0 334.8,780.0 335.3,780.0 335.8,780.0 336.3,780.0 336.8,780.0 337.3,780.0 337.8,780.0 338.3,780.0 338.8,780.0 339.3,780.0 339.8,780.0 340.3,780.0 340.8,780.0 341.3,780.0 341.8,779.9 342.3,779.9 342.8,779.9 343.3,779.9 343.8,779.9 344.3,779.9 344.8,779.9 345.3,779.9 345.8,779.9 346.3,779.9 346.8,779.8 347.3,779.8 347.8,779.8 348.3,779.8 348.8,779.8 349.3,779.8 349.8,779.7 350.3,779.7 350.8,779.7 351.3,779.7 351.8,779.7 352.3,779.6 352.8,779.6 353.3,779.6 353.8,779.6 354.3,779.5 354.8,779.5 355.3,779.5 355.8,779.5 356.3,779.4 356.8,779.4 357.3,779.4 357.8,779.3 358.3,779.3 358.8,779.3 359.3,779.2 359.8,779.2 360.3,779.2 360.8,779.1 361.3,779.1 361.8,779.1 362.3,779.0 362.8,779.0 363.3,778.9 363.8,778.9 364.3,778.8 364.8,778.8 365.3,778.8 365.8,778.7 366.3,778.7 366.8,778.6 367.3,778.6 367.8,778.5 368.3,778.5 368.8,778.4 369.3,778.4 369.8,778.3 370.3,778.2 370.8,778.2 371.3,778.1 371.8,778.1 372.3,778.0 372.8,778.0 373.3,777.9 373.8,777.8 374.3,777.8 374.8,777.7 375.3,777.6 375.8,777.6 376.3,777.5 376.8,777.4 377.3,777.4 377.8,777.3 378.3,777.2 378.8,777.1 379.3,777.1 379.8,777.0 380.3,776.8 380.8,776.6 381.3,776.4 381.8,776.0 382.3,775.6 382.8,775.2 383.3,774.7 383.8,774.2 384.3,773.7 384.8,773.2 385.3,772.6 385.8,772.1 386.3,771.6 386.8,771.1 387.3,770.6 387.8,770.2 388.3,769.7 388.8,769.3 389.3,768.8 389.8,768.3 390.3,767.8 390.8,767.3 391.3,766.8 391.8,766.4 392.3,766.1 392.8,765.9 393.3,765.7 393.8,765.7 394.3,765.9 394.8,766.2 395.3,766.6 395.8,767.2 396.3,767.8 396.8,768.4 397.3,769.1 397.8,769.8 398.3,770.4 398.8,771.0 399.3,771.5 399.8,771.9 400.3,772.2 400.8,772.4 401.3,772.7 401.8,773.0 402.3,773.2 402.8,773.5 403.3,773.7 403.8,774.0 404.3,774.2 404.8,774.5 405.3,774.7 405.8,774.9 406.3,775.1 406.8,775.3 407.3,775.5 407.8,775.7 408.3,775.9 408.8,776.0 409.3,776.2 409.8,776.3 410.3,776.5 410.8,776.6 411.3,776.7 411.8,776.8 412.3,776.9 412.8,776.9 413.3,777.0 413.8,777.0 414.3,777.0 414.8,777.0 415.3,777.0 415.8,777.0 416.3,777.0 416.8,777.0 417.3,777.0 417.8,776.9 418.3,776.9 418.8,776.9 419.3,776.9 419.8,776.8 420.3,776.8 420.8,776.8 421.3,776.7 421.8,776.7 422.3,776.7 422.8,776.6 423.3,776.6 423.8,776.5 424.3,776.5 424.8,776.5 425.3,776.4 425.8,776.4 426.3,776.3 426.8,776.2 427.3,776.2 427.8,776.1 428.3,776.1 428.8,776.0 429.3,776.0 429.8,775.9 430.3,775.8 430.8,775.8 431.3,775.7 431.8,775.6 432.3,775.6 432.8,775.5 433.3,775.4 433.8,775.4 434.3,775.3 434.8,775.2 435.3,775.2 435.8,775.1 436.3,775.0 436.8,775.0 437.3,774.9 437.8,774.8 438.3,774.7 438.8,774.7 439.3,774.6 439.8,774.5 440.3,774.4 440.8,774.3 441.3,774.2 441.8,774.1 442.3,774.0 442.8,773.8 443.3,773.7 443.8,773.6 444.3,773.4 444.8,773.2 445.3,773.1 445.8,772.9 446.3,772.7 446.8,772.6 447.3,772.4 447.8,772.2 448.3,772.0 448.8,771.9 449.3,771.7 449.8,771.5 450.3,771.4 450.8,771.2 451.3,771.0 451.8,770.9 452.3,770.7 452.8,770.6 453.3,770.4 453.8,770.3 454.3,770.2 454.8,770.1 455.3,770.0 455.8,769.9 456.3,769.8 456.8,769.7 457.3,769.7 457.8,769.6 458.3,769.6 458.8,769.6 459.3,769.6 459.8,769.6 460.3,769.6 460.8,769.6 461.3,769.6 461.8,769.7 462.3,769.7 462.8,769.7 463.3,769.7 463.8,769.8 464.3,769.8 464.8,769.8 465.3,769.9 465.8,769.9 466.3,769.9 466.8,770.0 467.3,770.0 467.8,770.1 468.3,770.1 468.8,770.2 469.3,770.2 469.8,770.3 470.3,770.3 470.8,770.4 471.3,770.4 471.8,770.4 472.3,770.5 472.8,770.5 473.3,770.6 473.8,770.6 474.3,770.7 474.8,770.7 475.3,770.7 475.8,770.8 476.3,770.8 476.8,770.8 477.3,770.9 477.8,770.9 478.3,770.9 478.8,770.9 479.3,771.0 479.8,771.0 480.3,771.0 480.8,771.0 481.3,771.0 481.8,771.0 482.3,771.0 482.8,770.9 483.3,770.9 483.8,770.8 484.3,770.7 484.8,770.6 485.3,770.5 485.8,770.4 486.3,770.2 486.8,770.1 487.3,769.9 487.8,769.8 488.3,769.6 488.8,769.4 489.3,769.3 489.8,769.1 490.3,768.9 490.8,768.8 491.3,768.6 491.8,768.4 492.3,768.3 492.8,768.1 493.3,767.9 493.8,767.8 494.3,767.7 494.8,767.5 495.3,767.4 495.8,767.3 496.3,767.2 496.8,767.1 497.3,767.1 497.8,767.0 498.3,767.0 498.8,767.0 499.3,767.0 499.8,767.0 500.3,767.0 500.8,767.0 501.3,767.0 501.8,767.0 502.3,767.0 502.8,767.0 503.3,767.0 503.8,767.0 504.3,767.1 504.8,767.1 505.3,767.1 505.8,767.1 506.3,767.1 506.8,767.1 507.3,767.1 507.8,767.1 508.3,767.2 508.8,767.2 509.3,767.2 509.8,767.2 510.3,767.2 510.8,767.2 511.3,767.3 511.8,767.3 512.3,767.3 512.8,767.3 513.3,767.3 513.8,767.4 514.3,767.4 514.8,767.4 515.3,767.4 515.8,767.5 516.3,767.5 516.8,767.5 517.3,767.5 517.8,767.6 518.3,767.6 518.8,767.6 519.3,767.6 519.8,767.7 520.3,767.7 520.8,767.8 521.3,767.8 521.8,767.9 522.3,768.0 522.8,768.0 523.3,768.1 523.8,768.2 524.3,768.3 524.8,768.4 525.3,768.5 525.8,768.6 526.3,768.7 526.8,768.8 527.3,769.0 527.8,769.1 528.3,769.2 528.8,769.3 529.3,769.5 529.8,769.6 530.3,769.7 530.8,769.9 531.3,770.0 531.8,770.1 532.3,770.3 532.8,770.4 533.3,770.6 533.8,770.7 534.3,770.8 534.8,771.0 535.3,771.1 535.8,771.3 536.3,771.4 536.8,771.5 537.3,771.7 537.8,771.8 538.3,771.9 538.8,772.1 539.3,772.2 539.8,772.4 540.3,772.5 540.8,772.7 541.3,772.9 541.8,773.0 542.3,773.2 542.8,773.4 543.3,773.6 543.8,773.8 544.3,774.0 544.8,774.2 545.3,774.4 545.8,774.6 546.3,774.8 546.8,775.0 547.3,775.2 547.8,775.4 548.3,775.6 548.8,775.8 549.3,776.0 549.8,776.2 550.3,776.3 550.8,776.5 551.3,776.7 551.8,776.9 552.3,777.1 552.8,777.2 553.3,777.4 553.8,777.6 554.3,777.7 554.8,777.8 555.3,778.0 555.8,778.1 556.3,778.2 556.8,778.3 557.3,778.4 557.8,778.5 558.3,778.6 558.8,778.7 559.3,778.7 559.8,778.8 560.3,778.9 560.8,778.9 561.3,779.0 561.8,779.0 562.3,779.1 562.8,779.2 563.3,779.2 563.8,779.3 564.3,779.4 564.8,779.4 565.3,779.5 565.8,779.5 566.3,779.6 566.8,779.7 567.3,779.7 567.8,779.8 568.3,779.8 568.8,779.9 569.3,779.9 569.8,780.0 570.3,780.0 570.8,780.1 571.3,780.1 571.8,780.2 572.3,780.2 572.8,780.3 573.3,780.3 573.8,780.4 574.3,780.4 574.8,780.4 575.3,780.5 575.8,780.5 576.3,780.6 576.8,780.6 577.3,780.6 577.8,780.7 578.3,780.7 578.8,780.7 579.3,780.7 579.8,780.8 580.3,780.8 580.8,780.8 581.3,780.8 581.8,780.9 582.3,780.9 582.8,780.9 583.3,780.9 583.8,780.9 584.3,781.0 584.8,781.0 585.3,781.0 585.8,781.0 586.3,781.0 586.8,781.0 587.3,781.0 587.8,781.0 588.3,781.0 588.8,781.0 589.3,781.0 589.8,781.0 590.3,781.0 590.8,781.0 591.3,781.0 591.8,781.0 592.3,781.0 592.8,781.0 593.3,781.0 593.8,781.0 594.3,781.0 594.8,781.0 595.3,781.0 595.8,781.0 596.3,781.0 596.8,781.0 597.3,781.0 597.8,781.0 598.3,781.0 598.8,781.0 599.3,781.0 599.8,781.0 600.3,781.0 600.8,781.0 601.3,781.0 601.8,781.0 602.3,781.0 602.8,781.0 603.3,781.0 603.8,781.0 604.3,781.0 604.8,781.0 605.3,781.0 605.8,781.0 606.3,781.0 606.8,781.0 607.3,781.0 607.8,781.0 608.3,781.0 608.8,781.0 609.3,781.0 609.8,781.0 610.3,781.0 610.8,781.0 611.3,781.0 611.8,781.0 612.3,781.0 612.8,781.0 613.3,781.0 613.8,781.0 614.3,781.0 614.8,781.0 615.3,781.0 615.8,781.0 616.3,781.0 616.8,781.0 617.3,781.0 617.8,781.0 618.3,781.0 618.8,781.0 619.3,781.0 619.8,781.0 620.3,781.0 620.8,781.0 621.3,781.0 621.8,781.0 622.3,781.0 622.8,781.0 623.3,781.0 623.8,781.0 624.3,781.0 624.8,781.0 625.3,781.0 625.8,780.9 626.3,780.9 626.8,780.9 627.3,780.9 627.8,780.9 628.3,780.9 628.8,780.9 629.3,780.9 629.8,780.9 630.3,780.9 630.8,780.9 631.3,780.9 631.8,780.9 632.3,780.9 632.8,780.9 633.3,780.9 633.8,780.9 634.3,780.9 634.8,780.9 635.3,780.9 635.8,780.9 636.3,780.9 636.8,780.9 637.3,780.9 637.8,780.9 638.3,780.9 638.8,780.9 639.3,780.9 639.8,780.9 640.3,780.9 640.8,780.9 641.3,780.9 641.8,780.9 642.3,780.8 642.8,780.8 643.3,780.8 643.8,780.8 644.3,780.8 644.8,780.8 645.3,780.8 645.8,780.8 646.3,780.8 646.8,780.8 647.3,780.8 647.8,780.8 648.3,780.8 648.8,780.8 649.3,780.8 649.8,780.8 650.3,780.8 650.8,780.8 651.3,780.8 651.8,780.8 652.3,780.7 652.8,780.7 653.3,780.7 653.8,780.7 654.3,780.7 654.8,780.7 655.3,780.7 655.8,780.7 656.3,780.7 656.8,780.7 657.3,780.7 657.8,780.7 658.3,780.7 658.8,780.7 659.3,780.7 659.8,780.6 660.3,780.6 660.8,780.6 661.3,780.6 661.8,780.6 662.3,780.6 662.8,780.6 663.3,780.6 663.8,780.6 664.3,780.6 664.8,780.6 665.3,780.6 665.8,780.6 666.3,780.5 666.8,780.5 667.3,780.5 667.8,780.5 668.3,780.5" fill="none" stroke="#000" stroke-width="2" stroke-linejoin="round"/><path d="M27.0 1240.9h0M27.2 1236.5h0M27.5 1240.1h0M27.8 1239.3h0M28.0 1240.5h0M28.2 1239.6h0M28.5 1240.9h0M28.8 1239.3h0M29.0 1238.8h0M29.2 1239.8h0M29.5 1239.6h0M29.8 1238.9h0M30.0 1239.0h0M30.2 1239.9h0M30.5 1239.9h0M30.8 1238.8h0M31.0 1238.9h0M31.2 1237.6h0M31.5 1240.7h0M31.8 1239.0h0M32.0 1240.4h0M32.2 1239.5h0M32.5 1240.9h0M32.8 1240.5h0M33.0 1239.4h0M33.2 1240.5h0M33.5 1238.3h0M33.8 1240.2h0M34.0 1237.8h0M34.2 1239.4h0M34.5 1240.0h0M34.8 1239.2h0M35.0 1238.7h0M35.2 1238.3h0M35.5 1238.7h0M35.8 1239.9h0M36.0 1239.8h0M36.2 1238.7h0M36.5 1237.8h0M36.8 1239.5h0M37.0 1237.6h0M37.2 1238.4h0M37.5 1238.2h0M37.8 1239.5h0M38.0 1239.0h0M38.2 1239.2h0M38.5 1239.0h0M38.8 1238.1h0M39.0 1239.2h0M39.2 1240.0h0M39.5 1238.6h0M39.8 1239.2h0M40.0 1238.5h0M40.2 1239.5h0M40.5 1239.2h0M40.8 1239.3h0M41.0 1238.8h0M41.2 1240.0h0M41.5 1238.2h0M41.8 1238.2h0M42.0 1237.9h0M42.2 1238.9h0M42.5 1237.8h0M42.8 1237.8h0M43.0 1239.0h0M43.2 1239.3h0M43.5 1238.8h0M43.8 1235.8h0M44.0 1237.3h0M44.2 1237.2h0M44.5 1237.0h0M44.8 1237.7h0M45.0 1239.7h0M45.2 1237.7h0M45.5 1237.3h0M45.8 1238.6h0M46.0 1238.0h0M46.2 1238.0h0M46.5 1237.2h0M46.8 1237.8h0M47.0 1238.2h0M47.2 1236.0h0M47.5 1236.2h0M47.8 1238.6h0M48.0 1238.4h0M48.2 1237.1h0M48.5 1236.6h0M48.8 1237.3h0M49.0 1236.4h0M49.2 1237.1h0M49.5 1238.9h0M49.8 1237.4h0M50.0 1238.3h0M50.2 1237.0h0M50.5 1237.5h0M50.8 1238.4h0M51.0 1235.9h0M51.2 1236.7h0M51.5 1236.9h0M51.8 1237.2h0M52.0 1238.3h0M52.2 1237.5h0M52.5 1235.5h0M52.8 1236.5h0M53.0 1235.9h0M53.2 1235.8h0M53.5 1238.4h0M53.8 1235.6h0M54.0 1236.7h0M54.2 1235.8h0M54.5 1237.2h0M54.8 1236.7h0M55.0 1236.4h0M55.2 1236.2h0M55.5 1237.2h0M55.8 1235.3h0M56.0 1235.4h0M56.2 1235.0h0M56.5 1237.2h0M56.8 1235.7h0M57.0 1234.9h0M57.2 1235.4h0M57.5 1238.0h0M57.8 1235.6h0M58.0 1236.4h0M58.2 1236.0h0M58.5 1235.5h0M58.8 1234.8h0M59.0 1235.1h0M59.2 1235.0h0M59.5 1233.3h0M59.8 1237.5h0M60.0 1236.0h0M60.2 1235.2h0M60.5 1234.8h0M60.8 1234.2h0M61.0 1235.7h0M61.2 1234.6h0M61.5 1235.2h0M61.8 1233.4h0M62.0 1234.9h0M62.2 1236.3h0M62.5 1234.2h0M62.8 1235.1h0M63.0 1234.3h0M63.2 1235.2h0M63.5 1235.1h0M63.8 1234.2h0M64.0 1233.5h0M64.2 1234.2h0M64.5 1233.9h0M64.8 1233.2h0M65.0 1234.1h0M65.2 1234.0h0M65.5 1232.8h0M65.8 1233.4h0M66.0 1236.0h0M66.2 1234.1h0M66.5 1233.3h0M66.8 1235.4h0M67.0 1232.7h0M67.2 1230.8h0M67.5 1231.2h0M67.8 1231.5h0M68.0 1233.0h0M68.2 1233.6h0M68.5 1230.7h0M68.8 1233.5h0M69.0 1231.3h0M69.2 1232.6h0M69.5 1232.7h0M69.8 1232.6h0M70.0 1232.1h0M70.2 1232.1h0M70.5 1230.8h0M70.8 1232.0h0M71.0 1232.5h0M71.2 1232.3h0M71.5 1233.6h0M71.8 1232.1h0M72.0 1231.6h0M72.2 1232.2h0M72.5 1230.7h0M72.8 1229.2h0M73.0 1228.1h0M73.2 1231.0h0M73.5 1230.1h0M73.8 1230.1h0M74.0 1228.8h0M74.2 1229.1h0M74.5 1230.2h0M74.8 1228.5h0M75.0 1226.9h0M75.2 1227.1h0M75.5 1228.4h0M75.8 1225.8h0M76.0 1224.1h0M76.2 1224.0h0M76.5 1224.5h0M76.8 1226.0h0M77.0 1224.9h0M77.2 1223.7h0M77.5 1222.8h0M77.8 1223.4h0M78.0 1222.9h0M78.2 1222.1h0M78.5 1221.8h0M78.8 1220.9h0M79.0 1222.7h0M79.2 1218.4h0M79.5 1220.1h0M79.8 1218.5h0M80.0 1219.4h0M80.2 1217.8h0M80.5 1217.5h0M80.8 1216.7h0M81.0 1215.4h0M81.2 1214.9h0M81.5 1212.0h0M81.8 1212.3h0M82.0 1210.1h0M82.2 1208.9h0M82.5 1207.9h0M82.8 1205.9h0M83.0 1204.4h0M83.2 1200.5h0M83.5 1199.0h0M83.8 1197.5h0M84.0 1194.4h0M84.2 1192.2h0M84.5 1190.1h0M84.8 1186.3h0M85.0 1180.9h0M85.2 1175.0h0M85.5 1167.9h0M85.8 1160.0h0M86.0 1151.7h0M86.2 1143.3h0M86.5 1134.6h0M86.8 1126.9h0M87.0 1119.3h0M87.2 1112.3h0M87.5 1104.6h0M87.8 1096.5h0M88.0 1089.1h0M88.2 1081.5h0M88.5 1074.4h0M88.8 1068.3h0M89.0 1062.7h0M89.2 1057.9h0M89.5 1053.3h0M89.8 1048.8h0M90.0 1044.7h0M90.2 1039.7h0M90.5 1035.9h0M90.8 1030.9h0M91.0 1026.1h0M91.2 1021.5h0M91.5 1018.4h0M91.8 1018.6h0M92.0 1021.3h0M92.2 1025.0h0M92.5 1029.9h0M92.8 1034.8h0M93.0 1038.6h0M93.2 1043.0h0M93.5 1049.0h0M93.8 1057.6h0M94.0 1065.6h0M94.2 1075.6h0M94.5 1085.3h0M94.8 1095.0h0M95.0 1103.9h0M95.2 1112.2h0M95.5 1119.3h0M95.8 1125.0h0M96.0 1130.7h0M96.2 1136.9h0M96.5 1142.7h0M96.8 1148.3h0M97.0 1153.6h0M97.2 1159.1h0M97.5 1163.9h0M97.8 1168.3h0M98.0 1172.8h0M98.2 1176.5h0M98.5 1179.9h0M98.8 1182.4h0M99.0 1184.8h0M99.2 1186.9h0M99.5 1188.8h0M99.8 1190.3h0M100.0 1191.8h0M100.2 1193.4h0M100.5 1194.8h0M100.8 1196.2h0M101.0 1196.9h0M101.2 1197.6h0M101.5 1198.8h0M101.8 1198.8h0M102.0 1200.1h0M102.2 1200.5h0M102.5 1201.3h0M102.8 1202.1h0M103.0 1202.5h0M103.2 1202.4h0M103.5 1203.3h0M103.8 1203.6h0M104.0 1204.4h0M104.2 1204.9h0M104.5 1204.5h0M104.8 1205.6h0M105.0 1206.1h0M105.2 1205.3h0M105.5 1205.9h0M105.8 1204.5h0M106.0 1204.9h0M106.2 1205.6h0M106.5 1203.5h0M106.8 1204.0h0M107.0 1203.3h0M107.2 1204.3h0M107.5 1203.8h0M107.8 1202.0h0M108.0 1202.0h0M108.2 1199.3h0M108.5 1201.4h0M108.8 1200.5h0M109.0 1200.7h0M109.2 1196.9h0M109.5 1198.4h0M109.8 1196.9h0M110.0 1193.9h0M110.2 1194.5h0M110.5 1193.9h0M110.8 1193.5h0M111.0 1191.7h0M111.2 1189.8h0M111.5 1189.4h0M111.8 1187.7h0M112.0 1185.9h0M112.2 1184.4h0M112.5 1184.3h0M112.8 1183.2h0M113.0 1183.7h0M113.2 1180.6h0M113.5 1181.3h0M113.8 1179.0h0M114.0 1178.6h0M114.2 1175.5h0M114.5 1174.3h0M114.8 1173.6h0M115.0 1173.7h0M115.2 1172.2h0M115.5 1172.1h0M115.8 1171.5h0M116.0 1172.2h0M116.2 1172.0h0M116.5 1172.1h0M116.8 1174.1h0M117.0 1175.0h0M117.2 1177.8h0M117.5 1177.5h0M117.8 1179.2h0M118.0 1180.2h0M118.2 1182.9h0M118.5 1183.9h0M118.8 1185.0h0M119.0 1184.5h0M119.2 1185.4h0M119.5 1188.3h0M119.8 1190.1h0M120.0 1192.2h0M120.2 1190.8h0M120.5 1193.7h0M120.8 1193.8h0M121.0 1195.9h0M121.2 1197.9h0M121.5 1200.2h0M121.8 1200.0h0M122.0 1200.8h0M122.2 1202.1h0M122.5 1204.4h0M122.8 1206.3h0M123.0 1203.6h0M123.2 1205.5h0M123.5 1206.2h0M123.8 1208.5h0M124.0 1208.6h0M124.2 1210.3h0M124.5 1208.8h0M124.8 1210.4h0M125.0 1210.7h0M125.2 1210.8h0M125.5 1212.4h0M125.8 1212.1h0M126.0 1215.7h0M126.2 1214.8h0M126.5 1214.0h0M126.8 1215.0h0M127.0 1217.6h0M127.2 1216.1h0M127.5 1217.7h0M127.8 1218.0h0M128.0 1218.9h0M128.2 1218.9h0M128.5 1218.6h0M128.8 1218.6h0M129.0 1217.8h0M129.2 1219.7h0M129.5 1220.1h0M129.8 1219.9h0M130.0 1220.4h0M130.2 1219.7h0M130.5 1223.0h0M130.8 1220.9h0M131.0 1220.6h0M131.2 1221.3h0M131.5 1221.9h0M131.8 1223.0h0M132.0 1220.4h0M132.2 1223.3h0M132.5 1222.5h0M132.8 1223.1h0M133.0 1224.4h0M133.2 1224.4h0M133.5 1223.3h0M133.8 1224.1h0M134.0 1226.1h0M134.2 1225.8h0M134.5 1225.6h0M134.8 1225.0h0M135.0 1226.1h0M135.2 1225.7h0M135.5 1225.1h0M135.8 1224.9h0M136.0 1226.4h0M136.2 1226.5h0M136.5 1227.4h0M136.8 1226.1h0M137.0 1227.9h0M137.2 1226.5h0M137.5 1228.1h0M137.8 1227.7h0M138.0 1226.8h0M138.2 1226.7h0M138.5 1227.6h0M138.8 1227.6h0M139.0 1228.8h0M139.2 1227.5h0M139.5 1226.9h0M139.8 1228.4h0M140.0 1230.3h0M140.2 1230.2h0M140.5 1228.3h0M140.8 1228.7h0M141.0 1229.4h0M141.2 1228.6h0M141.5 1229.1h0M141.8 1229.2h0M142.0 1228.7h0M142.2 1229.2h0M142.5 1229.4h0M142.8 1230.2h0M143.0 1229.0h0M143.2 1230.3h0M143.5 1229.4h0M143.8 1229.7h0M144.0 1229.5h0M144.2 1234.2h0M144.5 1231.9h0M144.8 1232.0h0M145.0 1231.7h0M145.2 1230.8h0M145.5 1231.2h0M145.8 1231.5h0M146.0 1231.7h0M146.2 1231.9h0M146.5 1232.9h0M146.8 1228.9h0M147.0 1231.1h0M147.2 1232.3h0M147.5 1231.5h0M147.8 1231.7h0M148.0 1233.3h0M148.2 1232.2h0M148.5 1233.7h0M148.8 1232.1h0M149.0 1232.5h0M149.2 1231.4h0M149.5 1230.6h0M149.8 1232.1h0M150.0 1232.6h0M150.2 1232.3h0M150.5 1231.5h0M150.8 1233.3h0M151.0 1232.9h0M151.2 1232.9h0M151.5 1232.2h0M151.8 1234.5h0M152.0 1234.4h0M152.2 1233.4h0M152.5 1233.1h0M152.8 1233.5h0M153.0 1234.9h0M153.2 1235.9h0M153.5 1233.5h0M153.8 1233.2h0M154.0 1232.0h0M154.2 1236.2h0M154.5 1232.7h0M154.8 1234.6h0M155.0 1234.3h0M155.2 1235.1h0M155.5 1233.2h0M155.8 1232.6h0M156.0 1234.3h0M156.2 1234.6h0M156.5 1235.3h0M156.8 1232.8h0M157.0 1234.0h0M157.2 1234.2h0M157.5 1233.3h0M157.8 1234.4h0M158.0 1235.3h0M158.2 1234.7h0M158.5 1233.4h0M158.8 1235.1h0M159.0 1235.6h0M159.2 1235.4h0M159.5 1235.7h0M159.8 1233.6h0M160.0 1235.5h0M160.2 1235.7h0M160.5 1234.9h0M160.8 1235.2h0M161.0 1234.6h0M161.2 1236.5h0M161.5 1235.2h0M161.8 1234.7h0M162.0 1235.7h0M162.2 1235.7h0M162.5 1236.3h0M162.8 1235.0h0M163.0 1235.2h0M163.2 1236.2h0M163.5 1237.9h0M163.8 1236.4h0M164.0 1234.8h0M164.2 1236.2h0M164.5 1235.4h0M164.8 1234.5h0M165.0 1235.6h0M165.2 1235.8h0M165.5 1236.7h0M165.8 1237.6h0M166.0 1237.5h0M166.2 1237.2h0M166.5 1236.1h0M166.8 1236.7h0M167.0 1236.6h0M167.2 1237.9h0M167.5 1236.1h0M167.8 1236.3h0M168.0 1238.2h0M168.2 1237.4h0M168.5 1236.5h0M168.8 1237.1h0M169.0 1237.1h0M169.2 1237.2h0M169.5 1237.8h0M169.8 1237.5h0M170.0 1237.0h0M170.2 1236.8h0M170.5 1235.7h0M170.8 1236.9h0M171.0 1238.4h0M171.2 1237.6h0M171.5 1236.9h0M171.8 1237.3h0M172.0 1236.8h0M172.2 1237.9h0M172.5 1239.4h0M172.8 1239.3h0M173.0 1238.8h0M173.2 1238.5h0M173.5 1237.6h0M173.8 1236.7h0M174.0 1237.9h0M174.2 1237.5h0M174.5 1238.7h0M174.8 1238.1h0M175.0 1237.5h0M175.2 1238.5h0M175.5 1240.7h0M175.8 1237.3h0M176.0 1239.2h0M176.2 1238.8h0M176.5 1238.2h0M176.8 1237.6h0M177.0 1238.3h0M177.2 1238.6h0M177.5 1239.1h0M177.8 1239.1h0M178.0 1238.7h0M178.2 1237.9h0M178.5 1238.8h0M178.8 1238.1h0M179.0 1237.6h0M179.2 1239.4h0M179.5 1238.0h0M179.8 1237.6h0M180.0 1238.8h0M180.2 1237.0h0M180.5 1238.7h0M180.8 1239.2h0M181.0 1238.4h0M181.2 1239.0h0M181.5 1240.8h0M181.8 1240.2h0M182.0 1239.7h0M182.2 1239.5h0M182.5 1238.5h0M182.8 1238.8h0M183.0 1238.7h0M183.2 1239.0h0M183.5 1239.1h0M183.8 1238.3h0M184.0 1240.5h0M184.2 1238.2h0M184.5 1239.4h0M184.8 1240.1h0M185.0 1239.1h0M185.2 1238.6h0M185.5 1239.2h0M185.8 1241.0h0M186.0 1239.8h0M186.2 1239.0h0M186.5 1239.8h0M186.8 1239.1h0M187.0 1237.6h0M187.2 1239.5h0M187.5 1240.3h0M187.8 1240.4h0M188.0 1239.3h0M188.2 1238.1h0M188.5 1240.4h0M188.8 1239.2h0M189.0 1240.1h0M189.2 1240.4h0M189.5 1239.7h0M189.8 1239.4h0M190.0 1238.9h0M190.2 1239.0h0M190.5 1239.5h0M190.8 1239.0h0M191.0 1239.8h0M191.2 1237.7h0M191.5 1238.6h0M191.8 1239.4h0M192.0 1238.8h0M192.2 1239.0h0M192.5 1238.4h0M192.8 1240.1h0M193.0 1240.9h0M193.2 1238.6h0M193.5 1240.5h0M193.8 1238.2h0M194.0 1239.6h0M194.2 1237.7h0M194.5 1239.9h0M194.8 1239.5h0M195.0 1239.6h0M195.2 1240.6h0M195.5 1240.0h0M195.8 1239.4h0M196.0 1238.7h0M196.2 1239.5h0M196.5 1238.8h0M196.8 1239.1h0M197.0 1240.8h0M197.2 1240.3h0M197.5 1239.7h0M197.8 1240.0h0M198.0 1238.2h0M198.2 1239.6h0M198.5 1237.9h0M198.8 1238.9h0M199.0 1239.8h0M199.2 1239.8h0M199.5 1240.1h0M199.8 1239.6h0M200.0 1239.5h0M200.2 1239.5h0M200.5 1240.7h0M200.8 1240.6h0M201.0 1238.1h0M201.2 1239.6h0M201.5 1240.6h0M201.8 1239.2h0M202.0 1239.6h0M202.2 1238.9h0M202.5 1238.4h0M202.8 1239.6h0M203.0 1239.1h0M203.2 1239.3h0M203.5 1238.1h0M203.8 1238.4h0M204.0 1239.3h0M204.2 1239.0h0M204.5 1239.9h0M204.8 1238.4h0M205.0 1240.0h0M205.2 1239.9h0M205.5 1239.5h0M205.8 1240.0h0M206.0 1239.3h0M206.2 1239.2h0M206.5 1239.3h0M206.8 1238.2h0M207.0 1239.3h0M207.2 1240.1h0M207.5 1237.9h0M207.8 1240.0h0M208.0 1238.8h0M208.2 1239.0h0M208.5 1239.4h0M208.8 1239.6h0M209.0 1240.6h0M209.2 1239.2h0M209.5 1240.9h0M209.8 1239.4h0M210.0 1239.8h0M210.2 1240.0h0M210.5 1238.8h0M210.8 1238.3h0M211.0 1239.5h0M211.2 1240.0h0M211.5 1240.1h0M211.8 1239.0h0M212.0 1241.0h0M212.2 1239.3h0M212.5 1238.8h0M212.8 1240.4h0M213.0 1240.5h0M213.2 1238.6h0M213.5 1240.2h0M213.8 1238.3h0M214.0 1239.5h0M214.2 1241.5h0M214.5 1240.6h0M214.8 1240.1h0M215.0 1240.1h0M215.2 1238.7h0M215.5 1239.8h0M215.8 1239.9h0M216.0 1238.6h0M216.2 1239.7h0M216.5 1240.0h0M216.8 1239.7h0M217.0 1239.9h0M217.2 1239.3h0M217.5 1238.5h0M217.8 1239.6h0M218.0 1237.8h0M218.2 1238.9h0M218.5 1240.5h0M218.8 1241.1h0M219.0 1239.9h0M219.2 1237.4h0M219.5 1240.7h0M219.8 1240.0h0M220.0 1239.4h0M220.2 1240.2h0M220.5 1240.0h0M220.8 1238.5h0M221.0 1238.4h0M221.2 1240.5h0M221.5 1237.5h0M221.8 1240.1h0M222.0 1239.8h0M222.2 1240.4h0M222.5 1241.1h0M222.8 1240.8h0M223.0 1240.9h0M223.2 1240.3h0M223.5 1240.0h0M223.8 1240.5h0M224.0 1239.5h0M224.2 1238.7h0M224.5 1239.5h0M224.8 1238.1h0M225.0 1239.1h0M225.2 1241.4h0M225.5 1240.0h0M225.8 1239.4h0M226.0 1239.0h0M226.2 1238.0h0M226.5 1239.1h0M226.8 1238.9h0M227.0 1239.6h0M227.2 1239.6h0M227.5 1239.5h0M227.8 1237.8h0M228.0 1240.9h0M228.2 1239.9h0M228.5 1239.6h0M228.8 1239.3h0M229.0 1239.9h0M229.2 1240.7h0M229.5 1240.1h0M229.8 1238.5h0M230.0 1238.4h0M230.2 1237.4h0M230.5 1239.6h0M230.8 1240.2h0M231.0 1240.6h0M231.2 1239.6h0M231.5 1240.2h0M231.8 1238.7h0M232.0 1240.0h0M232.2 1239.4h0M232.5 1238.9h0M232.8 1238.0h0M233.0 1240.5h0M233.2 1237.5h0M233.5 1240.1h0M233.8 1238.8h0M234.0 1240.0h0M234.2 1239.0h0M234.5 1240.2h0M234.8 1239.3h0M235.0 1238.6h0M235.2 1239.0h0M235.5 1238.0h0M235.8 1239.7h0M236.0 1240.4h0M236.2 1239.9h0M236.5 1239.6h0M236.8 1240.7h0M237.0 1238.4h0M237.2 1240.0h0M237.5 1239.5h0M237.8 1239.1h0M238.0 1240.0h0M238.2 1238.5h0M238.5 1239.4h0M238.8 1239.8h0M239.0 1238.4h0M239.2 1239.3h0M239.5 1240.0h0M239.8 1240.3h0M240.0 1238.6h0M240.2 1240.3h0M240.5 1239.2h0M240.8 1239.6h0M241.0 1239.0h0M241.2 1240.2h0M241.5 1238.9h0M241.8 1239.7h0M242.0 1239.8h0M242.2 1240.2h0M242.5 1238.6h0M242.8 1240.2h0M243.0 1239.5h0M243.2 1240.8h0M243.5 1239.2h0M243.8 1239.0h0M244.0 1239.4h0M244.2 1239.2h0M244.5 1239.3h0M244.8 1238.4h0M245.0 1237.6h0M245.2 1238.2h0M245.5 1239.0h0M245.8 1239.9h0M246.0 1239.2h0M246.2 1238.6h0M246.5 1239.3h0M246.8 1239.5h0M247.0 1242.0h0M247.2 1240.6h0M247.5 1239.7h0M247.8 1238.2h0M248.0 1239.3h0M248.2 1239.2h0M248.5 1240.0h0M248.8 1241.4h0M249.0 1239.4h0M249.2 1237.7h0M249.5 1239.4h0M249.8 1238.0h0M250.0 1240.2h0M250.2 1240.5h0M250.5 1239.8h0M250.8 1238.1h0M251.0 1239.3h0M251.2 1240.5h0M251.5 1238.4h0M251.8 1238.8h0M252.0 1239.5h0M252.2 1239.6h0M252.5 1239.2h0M252.8 1239.3h0M253.0 1239.1h0M253.2 1238.3h0M253.5 1238.7h0M253.8 1238.9h0M254.0 1237.6h0M254.2 1238.6h0M254.5 1238.5h0M254.8 1238.7h0M255.0 1238.4h0M255.2 1237.1h0M255.5 1236.8h0M255.8 1238.0h0M256.0 1237.5h0M256.2 1237.6h0M256.5 1236.9h0M256.8 1236.1h0M257.0 1237.3h0M257.2 1236.9h0M257.5 1237.4h0M257.8 1237.7h0M258.0 1237.5h0M258.2 1237.3h0M258.5 1235.4h0M258.8 1234.3h0M259.0 1235.5h0M259.2 1234.8h0M259.5 1234.6h0M259.8 1236.2h0M260.0 1234.0h0M260.2 1236.2h0M260.5 1236.2h0M260.8 1237.4h0M261.0 1235.8h0M261.2 1236.6h0M261.5 1233.9h0M261.8 1233.6h0M262.0 1234.9h0M262.2 1232.6h0M262.5 1234.6h0M262.8 1233.1h0M263.0 1231.4h0M263.2 1234.6h0M263.5 1231.7h0M263.8 1234.7h0M264.0 1230.9h0M264.2 1231.3h0M264.5 1232.1h0M264.8 1231.7h0M265.0 1230.1h0M265.2 1231.5h0M265.5 1231.4h0M265.8 1231.5h0M266.0 1229.5h0M266.2 1230.4h0M266.5 1230.7h0M266.8 1231.5h0M267.0 1230.9h0M267.2 1230.5h0M267.5 1230.5h0M267.8 1232.3h0M268.0 1230.3h0M268.2 1231.5h0M268.5 1229.4h0M268.8 1233.1h0M269.0 1232.2h0M269.2 1230.4h0M269.5 1232.8h0M269.8 1233.7h0M270.0 1233.5h0M270.2 1233.1h0M270.5 1234.1h0M270.8 1232.9h0M271.0 1233.7h0M271.2 1233.8h0M271.5 1234.5h0M271.8 1233.8h0M272.0 1236.2h0M272.2 1235.1h0M272.5 1234.5h0M272.8 1235.5h0M273.0 1236.2h0M273.2 1236.1h0M273.5 1237.2h0M273.8 1236.1h0M274.0 1235.8h0M274.2 1237.0h0M274.5 1237.8h0M274.8 1235.9h0M275.0 1235.4h0M275.2 1236.4h0M275.5 1237.0h0M275.8 1236.2h0M276.0 1237.4h0M276.2 1236.5h0M276.5 1238.2h0M276.8 1236.4h0M277.0 1236.7h0M277.2 1237.7h0M277.5 1238.3h0M277.8 1238.6h0M278.0 1237.3h0M278.2 1238.0h0M278.5 1238.5h0M278.8 1239.4h0M279.0 1237.4h0M279.2 1237.1h0M279.5 1238.8h0M279.8 1238.2h0M280.0 1239.7h0M280.2 1238.6h0M280.5 1238.9h0M280.8 1238.0h0M281.0 1239.0h0M281.2 1239.9h0M281.5 1238.6h0M281.8 1237.8h0M282.0 1239.8h0M282.2 1238.8h0M282.5 1239.1h0M282.8 1238.5h0M283.0 1240.0h0M283.2 1238.6h0M283.5 1238.9h0M283.8 1239.4h0M284.0 1239.2h0M284.2 1237.4h0M284.5 1239.9h0M284.8 1238.5h0M285.0 1239.8h0M285.2 1239.3h0M285.5 1239.5h0M285.8 1239.0h0M286.0 1238.8h0M286.2 1239.9h0M286.5 1240.0h0M286.8 1240.7h0M287.0 1240.3h0M287.2 1239.2h0M287.5 1240.9h0M287.8 1241.9h0M288.0 1240.6h0M288.2 1239.8h0M288.5 1239.1h0M288.8 1240.0h0M289.0 1238.7h0M289.2 1240.7h0M289.5 1239.6h0M289.8 1239.5h0M290.0 1240.2h0M290.2 1238.9h0M290.5 1238.4h0M290.8 1239.6h0M291.0 1241.1h0M291.2 1239.2h0M291.5 1240.8h0M291.8 1238.3h0M292.0 1239.9h0M292.2 1240.4h0M292.5 1241.6h0M292.8 1238.4h0M293.0 1239.9h0M293.2 1239.2h0M293.5 1240.2h0M293.8 1239.5h0M294.0 1240.1h0M294.2 1239.3h0M294.5 1239.5h0M294.8 1240.3h0M295.0 1241.3h0M295.2 1240.2h0M295.5 1240.1h0M295.8 1239.5h0M296.0 1241.4h0M296.2 1238.2h0M296.5 1238.2h0M296.8 1239.3h0M297.0 1240.4h0M297.2 1240.8h0M297.5 1240.5h0M297.8 1240.6h0M298.0 1240.1h0M298.2 1239.5h0M298.5 1239.0h0M298.8 1240.4h0M299.0 1239.1h0M299.2 1240.3h0M299.5 1240.6h0M299.8 1239.4h0M300.0 1239.6h0M300.2 1239.5h0M300.5 1240.6h0M300.8 1240.1h0M301.0 1239.4h0M301.2 1240.2h0M301.5 1241.3h0M301.8 1240.2h0M302.0 1240.1h0M302.2 1239.6h0M302.5 1239.1h0M302.8 1240.0h0M303.0 1240.0h0M303.2 1239.7h0M303.5 1241.0h0M303.8 1239.7h0M304.0 1239.8h0M304.2 1240.1h0M304.5 1240.4h0M304.8 1238.3h0M305.0 1240.2h0M305.2 1241.1h0M305.5 1238.9h0M305.8 1240.3h0M306.0 1239.5h0M306.2 1239.1h0M306.5 1240.2h0M306.8 1239.9h0M307.0 1238.1h0M307.2 1239.4h0M307.5 1240.7h0M307.8 1239.4h0M308.0 1239.3h0M308.2 1239.6h0M308.5 1239.5h0M308.8 1240.6h0M309.0 1239.2h0M309.2 1238.9h0M309.5 1240.3h0M309.8 1240.8h0M310.0 1240.6h0M310.2 1240.7h0M310.5 1239.3h0M310.8 1238.6h0M311.0 1239.3h0M311.2 1239.9h0M311.5 1238.4h0M311.8 1239.7h0M312.0 1240.4h0M312.2 1239.3h0M312.5 1241.7h0M312.8 1240.6h0M313.0 1238.8h0M313.2 1238.9h0M313.5 1239.3h0M313.8 1240.5h0M314.0 1240.3h0M314.2 1239.4h0M314.5 1240.1h0M314.8 1240.6h0M315.0 1240.4h0M315.2 1238.5h0M315.5 1238.9h0M315.8 1239.1h0M316.0 1238.4h0M316.2 1240.7h0M316.5 1239.3h0M316.8 1239.3h0M317.0 1239.1h0M317.2 1240.2h0M317.5 1240.4h0M317.8 1240.5h0M318.0 1241.0h0M318.2 1239.1h0M318.5 1241.3h0M318.8 1242.1h0M319.0 1239.4h0M319.2 1239.6h0M319.5 1240.4h0M319.8 1241.0h0M320.0 1239.6h0M320.2 1239.2h0M320.5 1241.7h0M320.8 1239.4h0M321.0 1237.4h0M321.2 1240.3h0M321.5 1240.8h0M321.8 1241.4h0M322.0 1241.4h0M322.2 1242.6h0M322.5 1239.4h0M322.8 1239.0h0M323.0 1238.6h0M323.2 1241.4h0M323.5 1239.5h0M323.8 1238.3h0M324.0 1238.0h0M324.2 1240.0h0M324.5 1239.5h0M324.8 1240.1h0M325.0 1239.1h0M325.2 1239.2h0M325.5 1240.3h0M325.8 1239.6h0M326.0 1240.3h0M326.2 1239.7h0M326.5 1239.6h0M326.8 1240.1h0M327.0 1239.5h0M327.2 1240.0h0M327.5 1240.2h0M327.8 1239.3h0M328.0 1239.7h0M328.2 1239.9h0M328.5 1240.4h0M328.8 1240.0h0M329.0 1240.0h0M329.2 1240.2h0M329.5 1239.5h0M329.8 1240.1h0M330.0 1239.1h0M330.2 1238.1h0M330.5 1240.1h0M330.8 1238.0h0M331.0 1239.6h0M331.2 1241.1h0M331.5 1240.4h0M331.8 1238.8h0M332.0 1240.4h0M332.2 1240.0h0M332.5 1239.0h0M332.8 1239.7h0M333.0 1239.3h0M333.2 1239.5h0M333.5 1240.0h0M333.8 1238.3h0M334.0 1240.5h0M334.2 1241.5h0M334.5 1239.6h0M334.8 1238.8h0M335.0 1239.3h0M335.2 1240.8h0M335.5 1239.3h0M335.8 1240.1h0M336.0 1241.7h0M336.2 1239.0h0M336.5 1239.8h0M336.8 1239.2h0M337.0 1239.4h0M337.2 1239.8h0M337.5 1239.0h0M337.8 1240.1h0M338.0 1239.8h0M338.2 1240.7h0M338.5 1240.3h0M338.8 1240.0h0M339.0 1241.0h0M339.2 1239.5h0M339.5 1240.2h0M339.8 1239.1h0M340.0 1240.9h0M340.2 1239.0h0M340.5 1240.5h0M340.8 1239.0h0M341.0 1239.8h0M341.2 1238.7h0M341.5 1239.0h0M341.8 1238.8h0M342.0 1240.0h0M342.2 1240.1h0M342.5 1240.3h0M342.8 1240.0h0M343.0 1239.5h0M343.2 1240.2h0M343.5 1241.0h0M343.8 1239.3h0M344.0 1239.0h0M344.2 1240.1h0M344.5 1241.5h0M344.8 1239.6h0M345.0 1239.3h0M345.2 1238.7h0M345.5 1239.0h0M345.8 1238.8h0M346.0 1238.8h0M346.2 1240.6h0M346.5 1240.7h0M346.8 1239.7h0M347.0 1239.7h0M347.2 1240.3h0M347.5 1239.6h0M347.8 1239.7h0M348.0 1240.1h0M348.2 1239.6h0M348.5 1240.7h0M348.8 1242.5h0M349.0 1239.6h0M349.2 1239.8h0M349.5 1238.8h0M349.8 1239.2h0M350.0 1239.6h0M350.2 1239.9h0M350.5 1239.4h0M350.8 1238.5h0M351.0 1239.9h0M351.2 1239.1h0M351.5 1239.9h0M351.8 1239.3h0M352.0 1239.4h0M352.2 1239.4h0M352.5 1237.6h0M352.8 1240.6h0M353.0 1238.7h0M353.2 1239.8h0M353.5 1240.0h0M353.8 1239.0h0M354.0 1238.3h0M354.2 1240.0h0M354.5 1238.6h0M354.8 1239.4h0M355.0 1239.9h0M355.2 1239.0h0M355.5 1237.9h0M355.8 1238.8h0M356.0 1239.9h0M356.2 1238.7h0M356.5 1240.2h0M356.8 1238.0h0M357.0 1238.5h0M357.2 1237.8h0M357.5 1238.5h0M357.8 1240.7h0M358.0 1239.8h0M358.2 1239.1h0M358.5 1238.7h0M358.8 1240.3h0M359.0 1239.2h0M359.2 1238.4h0M359.5 1240.7h0M359.8 1238.1h0M360.0 1239.4h0M360.2 1239.8h0M360.5 1240.1h0M360.8 1241.0h0M361.0 1240.0h0M361.2 1238.6h0M361.5 1240.2h0M361.8 1239.5h0M362.0 1238.1h0M362.2 1238.2h0M362.5 1238.4h0M362.8 1237.2h0M363.0 1239.5h0M363.2 1239.6h0M363.5 1239.6h0M363.8 1238.4h0M364.0 1239.1h0M364.2 1240.2h0M364.5 1239.4h0M364.8 1238.9h0M365.0 1238.4h0M365.2 1239.0h0M365.5 1240.2h0M365.8 1239.1h0M366.0 1241.1h0M366.2 1241.2h0M366.5 1239.7h0M366.8 1237.5h0M367.0 1238.8h0M367.2 1240.1h0M367.5 1238.5h0M367.8 1238.4h0M368.0 1239.0h0M368.2 1241.4h0M368.5 1238.5h0M368.8 1237.2h0M369.0 1239.2h0M369.2 1239.3h0M369.5 1239.6h0M369.8 1239.0h0M370.0 1239.2h0M370.2 1238.5h0M370.5 1239.7h0M370.8 1238.8h0M371.0 1239.3h0M371.2 1238.2h0M371.5 1240.1h0M371.8 1239.0h0M372.0 1238.4h0M372.2 1238.9h0M372.5 1237.8h0M372.8 1238.3h0M373.0 1239.5h0M373.2 1239.3h0M373.5 1239.5h0M373.8 1239.4h0M374.0 1238.5h0M374.2 1238.8h0M374.5 1240.4h0M374.8 1238.6h0M375.0 1237.3h0M375.2 1238.7h0M375.5 1238.3h0M375.8 1238.6h0M376.0 1238.7h0M376.2 1237.7h0M376.5 1239.0h0M376.8 1238.5h0M377.0 1239.1h0M377.2 1238.0h0M377.5 1237.7h0M377.8 1238.2h0M378.0 1240.0h0M378.2 1236.9h0M378.5 1239.5h0M378.8 1238.5h0M379.0 1239.5h0M379.2 1238.1h0M379.5 1238.8h0M379.8 1238.8h0M380.0 1240.4h0M380.2 1238.3h0M380.5 1238.6h0M380.8 1237.7h0M381.0 1238.6h0M381.2 1237.6h0M381.5 1238.2h0M381.8 1238.6h0M382.0 1238.7h0M382.2 1237.3h0M382.5 1237.2h0M382.8 1239.0h0M383.0 1237.4h0M383.2 1237.9h0M383.5 1237.4h0M383.8 1236.2h0M384.0 1237.4h0M384.2 1237.3h0M384.5 1238.9h0M384.8 1235.5h0M385.0 1236.6h0M385.2 1237.5h0M385.5 1236.3h0M385.8 1234.7h0M386.0 1237.1h0M386.2 1236.6h0M386.5 1235.5h0M386.8 1235.2h0M387.0 1235.4h0M387.2 1236.0h0M387.5 1235.5h0M387.8 1234.9h0M388.0 1235.7h0M388.2 1236.2h0M388.5 1234.5h0M388.8 1236.3h0M389.0 1234.8h0M389.2 1235.1h0M389.5 1234.8h0M389.8 1234.7h0M390.0 1234.3h0M390.2 1231.9h0M390.5 1232.9h0M390.8 1234.4h0M391.0 1232.5h0M391.2 1233.3h0M391.5 1231.7h0M391.8 1232.3h0M392.0 1234.1h0M392.2 1232.8h0M392.5 1231.6h0M392.8 1231.7h0M393.0 1230.5h0M393.2 1232.3h0M393.5 1231.5h0M393.8 1232.2h0M394.0 1232.1h0M394.2 1231.0h0M394.5 1230.2h0M394.8 1229.8h0M395.0 1230.3h0M395.2 1230.4h0M395.5 1231.4h0M395.8 1229.0h0M396.0 1230.0h0M396.2 1228.4h0M396.5 1228.6h0M396.8 1229.5h0M397.0 1229.0h0M397.2 1227.8h0M397.5 1227.4h0M397.8 1228.7h0M398.0 1227.3h0M398.2 1227.0h0M398.5 1226.1h0M398.8 1229.1h0M399.0 1228.3h0M399.2 1226.9h0M399.5 1228.3h0M399.8 1226.6h0M400.0 1225.7h0M400.2 1226.4h0M400.5 1227.1h0M400.8 1224.8h0M401.0 1226.9h0M401.2 1226.9h0M401.5 1227.3h0M401.8 1226.5h0M402.0 1227.2h0M402.2 1224.8h0M402.5 1226.5h0M402.8 1227.8h0M403.0 1227.6h0M403.2 1227.7h0M403.5 1226.6h0M403.8 1227.9h0M404.0 1226.9h0M404.2 1228.6h0M404.5 1229.5h0M404.8 1229.1h0M405.0 1230.3h0M405.2 1230.3h0M405.5 1231.5h0M405.8 1230.7h0M406.0 1229.9h0M406.2 1230.6h0M406.5 1231.4h0M406.8 1232.3h0M407.0 1232.7h0M407.2 1232.2h0M407.5 1233.2h0M407.8 1232.7h0M408.0 1234.1h0M408.2 1232.4h0M408.5 1234.8h0M408.8 1234.2h0M409.0 1233.7h0M409.2 1233.3h0M409.5 1234.9h0M409.8 1234.0h0M410.0 1235.2h0M410.2 1236.4h0M410.5 1235.1h0M410.8 1235.3h0M411.0 1235.7h0M411.2 1234.9h0M411.5 1237.2h0M411.8 1235.4h0M412.0 1236.4h0M412.2 1236.2h0M412.5 1235.5h0M412.8 1237.3h0M413.0 1236.6h0M413.2 1235.8h0M413.5 1235.9h0M413.8 1234.9h0M414.0 1235.7h0M414.2 1237.5h0M414.5 1237.7h0M414.8 1236.2h0M415.0 1237.7h0M415.2 1238.1h0M415.5 1238.0h0M415.8 1238.5h0M416.0 1235.7h0M416.2 1237.7h0M416.5 1236.7h0M416.8 1238.3h0M417.0 1237.0h0M417.2 1237.9h0M417.5 1238.6h0M417.8 1236.5h0M418.0 1237.3h0M418.2 1237.3h0M418.5 1238.0h0M418.8 1236.6h0M419.0 1238.7h0M419.2 1239.8h0M419.5 1237.8h0M419.8 1238.6h0M420.0 1235.7h0M420.2 1237.0h0M420.5 1238.7h0M420.8 1238.4h0M421.0 1238.7h0M421.2 1239.3h0M421.5 1238.2h0M421.8 1237.9h0M422.0 1237.7h0M422.2 1238.2h0M422.5 1236.3h0M422.8 1239.5h0M423.0 1236.2h0M423.2 1236.7h0M423.5 1238.2h0M423.8 1239.0h0M424.0 1238.7h0M424.2 1239.5h0M424.5 1237.8h0M424.8 1237.6h0M425.0 1238.7h0M425.2 1237.2h0M425.5 1238.4h0M425.8 1238.7h0M426.0 1238.5h0M426.2 1236.4h0M426.5 1238.0h0M426.8 1236.4h0M427.0 1239.0h0M427.2 1237.9h0M427.5 1239.2h0M427.8 1239.5h0M428.0 1237.1h0M428.2 1239.1h0M428.5 1238.7h0M428.8 1239.7h0M429.0 1237.2h0M429.2 1237.2h0M429.5 1237.6h0M429.8 1236.7h0M430.0 1238.5h0M430.2 1237.7h0M430.5 1238.5h0M430.8 1238.7h0M431.0 1239.1h0M431.2 1237.2h0M431.5 1239.0h0M431.8 1239.0h0M432.0 1237.5h0M432.2 1237.8h0M432.5 1237.1h0M432.8 1239.5h0M433.0 1239.6h0M433.2 1237.7h0M433.5 1238.3h0M433.8 1238.8h0M434.0 1239.1h0M434.2 1238.4h0M434.5 1239.9h0M434.8 1237.6h0M435.0 1239.2h0M435.2 1238.6h0M435.5 1238.7h0M435.8 1237.8h0M436.0 1236.9h0M436.2 1238.0h0M436.5 1238.9h0M436.8 1237.8h0M437.0 1237.0h0M437.2 1238.4h0M437.5 1238.5h0M437.8 1237.6h0M438.0 1238.4h0M438.2 1238.9h0M438.5 1238.7h0M438.8 1239.4h0M439.0 1239.6h0M439.2 1238.5h0M439.5 1237.9h0M439.8 1237.0h0M440.0 1239.5h0M440.2 1238.9h0M440.5 1239.5h0M440.8 1237.9h0M441.0 1238.7h0M441.2 1237.9h0M441.5 1237.8h0M441.8 1237.3h0M442.0 1238.4h0M442.2 1239.1h0M442.5 1239.3h0M442.8 1238.9h0M443.0 1238.4h0M443.2 1240.5h0M443.5 1240.0h0M443.8 1239.6h0M444.0 1238.8h0M444.2 1239.8h0M444.5 1238.0h0M444.8 1237.5h0M445.0 1239.2h0M445.2 1238.8h0M445.5 1239.6h0M445.8 1238.0h0M446.0 1239.0h0M446.2 1237.8h0M446.5 1238.4h0M446.8 1239.1h0M447.0 1238.7h0M447.2 1237.9h0M447.5 1237.4h0M447.8 1238.4h0M448.0 1237.9h0M448.2 1237.4h0M448.5 1238.8h0M448.8 1237.9h0M449.0 1239.9h0M449.2 1240.6h0M449.5 1239.8h0M449.8 1241.3h0M450.0 1237.7h0M450.2 1237.2h0M450.5 1238.7h0M450.8 1237.2h0M451.0 1238.9h0M451.2 1239.6h0M451.5 1239.5h0M451.8 1239.7h0M452.0 1238.6h0M452.2 1238.7h0M452.5 1239.0h0M452.8 1238.8h0M453.0 1239.7h0M453.2 1238.5h0M453.5 1238.8h0M453.8 1238.2h0M454.0 1239.7h0M454.2 1238.9h0M454.5 1239.0h0M454.8 1238.4h0M455.0 1237.2h0M455.2 1238.4h0M455.5 1236.9h0M455.8 1238.8h0M456.0 1237.7h0M456.2 1240.0h0M456.5 1238.3h0M456.8 1238.8h0M457.0 1238.4h0M457.2 1237.8h0M457.5 1237.5h0M457.8 1236.6h0M458.0 1238.3h0M458.2 1237.0h0M458.5 1239.9h0M458.8 1237.7h0M459.0 1238.3h0M459.2 1238.8h0M459.5 1238.7h0M459.8 1239.9h0M460.0 1238.8h0M460.2 1238.4h0M460.5 1238.8h0M460.8 1240.3h0M461.0 1239.6h0M461.2 1237.1h0M461.5 1238.7h0M461.8 1238.1h0M462.0 1238.9h0M462.2 1239.5h0M462.5 1238.9h0M462.8 1239.4h0M463.0 1240.4h0M463.2 1237.3h0M463.5 1238.9h0M463.8 1239.0h0M464.0 1239.3h0M464.2 1239.0h0M464.5 1239.8h0M464.8 1238.9h0M465.0 1239.3h0M465.2 1237.5h0M465.5 1239.1h0M465.8 1237.9h0M466.0 1239.5h0M466.2 1240.5h0M466.5 1238.9h0M466.8 1239.3h0M467.0 1239.6h0M467.2 1240.2h0M467.5 1239.7h0M467.8 1240.1h0M468.0 1238.5h0M468.2 1238.9h0M468.5 1237.7h0M468.8 1241.0h0M469.0 1237.9h0M469.2 1239.8h0M469.5 1239.1h0M469.8 1239.1h0M470.0 1237.9h0M470.2 1239.0h0M470.5 1239.1h0M470.8 1239.4h0M471.0 1238.7h0M471.2 1239.2h0M471.5 1238.1h0M471.8 1240.1h0M472.0 1238.4h0M472.2 1242.2h0M472.5 1238.7h0M472.8 1238.4h0M473.0 1239.2h0M473.2 1238.9h0M473.5 1240.0h0M473.8 1240.1h0M474.0 1238.5h0M474.2 1238.4h0M474.5 1238.4h0M474.8 1239.5h0M475.0 1239.9h0M475.2 1239.6h0M475.5 1238.9h0M475.8 1239.1h0M476.0 1239.6h0M476.2 1240.2h0M476.5 1239.0h0M476.8 1240.1h0M477.0 1238.8h0M477.2 1239.2h0M477.5 1240.1h0M477.8 1238.3h0M478.0 1237.5h0M478.2 1238.1h0M478.5 1238.9h0M478.8 1238.1h0M479.0 1238.9h0M479.2 1240.3h0M479.5 1238.7h0M479.8 1240.2h0M480.0 1239.8h0M480.2 1238.1h0M480.5 1239.9h0M480.8 1239.8h0M481.0 1239.9h0M481.2 1239.2h0M481.5 1239.3h0M481.8 1238.5h0M482.0 1238.2h0M482.2 1239.0h0M482.5 1239.6h0M482.8 1238.5h0M483.0 1240.4h0M483.2 1238.6h0M483.5 1239.2h0M483.8 1237.7h0M484.0 1240.3h0M484.2 1239.6h0M484.5 1240.1h0M484.8 1237.8h0M485.0 1240.2h0M485.2 1239.3h0M485.5 1238.3h0M485.8 1238.5h0M486.0 1237.5h0M486.2 1238.6h0M486.5 1239.6h0M486.8 1238.0h0M487.0 1239.1h0M487.2 1237.6h0M487.5 1236.3h0M487.8 1238.5h0M488.0 1239.9h0M488.2 1239.6h0M488.5 1237.9h0M488.8 1239.6h0M489.0 1239.4h0M489.2 1238.8h0M489.5 1238.1h0M489.8 1239.2h0M490.0 1238.2h0M490.2 1237.9h0M490.5 1239.2h0M490.8 1237.6h0M491.0 1238.8h0M491.2 1239.5h0M491.5 1237.5h0M491.8 1238.2h0M492.0 1238.5h0M492.2 1236.4h0M492.5 1237.5h0M492.8 1237.4h0M493.0 1237.4h0M493.2 1237.1h0M493.5 1238.9h0M493.8 1236.9h0M494.0 1237.6h0M494.2 1238.2h0M494.5 1239.0h0M494.8 1236.2h0M495.0 1236.4h0M495.2 1236.6h0M495.5 1237.2h0M495.8 1238.3h0M496.0 1237.3h0M496.2 1237.5h0M496.5 1238.7h0M496.8 1237.0h0M497.0 1237.4h0M497.2 1239.0h0M497.5 1237.9h0M497.8 1236.6h0M498.0 1236.5h0M498.2 1238.1h0M498.5 1236.0h0M498.8 1236.2h0M499.0 1237.7h0M499.2 1238.1h0M499.5 1238.4h0M499.8 1236.0h0M500.0 1237.3h0M500.2 1233.8h0M500.5 1236.0h0M500.8 1239.3h0M501.0 1238.1h0M501.2 1237.3h0M501.5 1235.8h0M501.8 1235.4h0M502.0 1237.5h0M502.2 1236.3h0M502.5 1235.7h0M502.8 1237.1h0M503.0 1237.0h0M503.2 1235.7h0M503.5 1235.9h0M503.8 1238.3h0M504.0 1235.4h0M504.2 1237.1h0M504.5 1235.6h0M504.8 1235.4h0M505.0 1235.2h0M505.2 1236.0h0M505.5 1236.1h0M505.8 1236.7h0M506.0 1235.4h0M506.2 1236.4h0M506.5 1235.5h0M506.8 1235.3h0M507.0 1236.5h0M507.2 1236.3h0M507.5 1234.5h0M507.8 1236.0h0M508.0 1234.2h0M508.2 1234.8h0M508.5 1237.2h0M508.8 1236.9h0M509.0 1235.6h0M509.2 1236.2h0M509.5 1236.8h0M509.8 1237.2h0M510.0 1237.2h0M510.2 1234.9h0M510.5 1235.6h0M510.8 1235.7h0M511.0 1233.4h0M511.2 1234.9h0M511.5 1235.9h0M511.8 1235.3h0M512.0 1235.0h0M512.2 1234.5h0M512.5 1235.0h0M512.8 1235.5h0M513.0 1235.2h0M513.2 1236.5h0M513.5 1236.2h0M513.8 1234.3h0M514.0 1236.3h0M514.2 1235.5h0M514.5 1236.2h0M514.8 1234.9h0M515.0 1236.3h0M515.2 1234.9h0M515.5 1236.5h0M515.8 1235.5h0M516.0 1235.4h0M516.2 1234.4h0M516.5 1234.2h0M516.8 1236.4h0M517.0 1234.7h0M517.2 1234.6h0M517.5 1236.1h0M517.8 1235.8h0M518.0 1236.3h0M518.2 1234.6h0M518.5 1233.9h0M518.8 1235.1h0M519.0 1236.8h0M519.2 1235.9h0M519.5 1236.4h0M519.8 1236.5h0M520.0 1236.2h0M520.2 1236.3h0M520.5 1236.0h0M520.8 1236.4h0M521.0 1236.5h0M521.2 1235.7h0M521.5 1236.9h0M521.8 1236.4h0M522.0 1236.4h0M522.2 1236.4h0M522.5 1237.3h0M522.8 1236.5h0M523.0 1237.7h0M523.2 1235.8h0M523.5 1237.3h0M523.8 1235.4h0M524.0 1236.9h0M524.2 1236.5h0M524.5 1236.6h0M524.8 1236.1h0M525.0 1237.1h0M525.2 1237.6h0M525.5 1235.5h0M525.8 1237.1h0M526.0 1237.5h0M526.2 1237.9h0M526.5 1237.7h0M526.8 1236.5h0M527.0 1238.4h0M527.2 1236.8h0M527.5 1238.1h0M527.8 1237.9h0M528.0 1237.2h0M528.2 1237.0h0M528.5 1237.7h0M528.8 1239.2h0M529.0 1238.6h0M529.2 1237.5h0M529.5 1238.7h0M529.8 1239.6h0M530.0 1240.1h0M530.2 1236.7h0M530.5 1239.0h0M530.8 1239.1h0M531.0 1237.7h0M531.2 1236.8h0M531.5 1239.6h0M531.8 1238.1h0M532.0 1237.2h0M532.2 1237.7h0M532.5 1239.4h0M532.8 1240.7h0M533.0 1239.6h0M533.2 1238.1h0M533.5 1240.0h0M533.8 1237.2h0M534.0 1239.9h0M534.2 1239.8h0M534.5 1240.7h0M534.8 1240.0h0M535.0 1240.1h0M535.2 1239.3h0M535.5 1238.9h0M535.8 1239.3h0M536.0 1241.0h0M536.2 1238.8h0M536.5 1239.3h0M536.8 1238.9h0M537.0 1240.0h0M537.2 1239.8h0M537.5 1241.2h0M537.8 1241.4h0M538.0 1240.5h0M538.2 1240.3h0M538.5 1239.4h0M538.8 1238.2h0M539.0 1239.7h0M539.2 1239.6h0M539.5 1238.5h0M539.8 1239.7h0M540.0 1240.4h0M540.2 1238.7h0M540.5 1240.3h0M540.8 1239.9h0M541.0 1239.0h0M541.2 1239.6h0M541.5 1240.2h0M541.8 1239.4h0M542.0 1239.5h0M542.2 1240.7h0M542.5 1240.0h0M542.8 1240.0h0M543.0 1239.1h0M543.2 1240.2h0M543.5 1240.9h0M543.8 1238.7h0M544.0 1238.0h0M544.2 1238.8h0M544.5 1239.4h0M544.8 1238.6h0M545.0 1238.0h0M545.2 1241.0h0M545.5 1239.1h0M545.8 1238.8h0M546.0 1236.9h0M546.2 1240.3h0M546.5 1238.1h0M546.8 1240.7h0M547.0 1240.0h0M547.2 1239.7h0M547.5 1239.3h0M547.8 1240.4h0M548.0 1239.0h0M548.2 1239.9h0M548.5 1239.1h0M548.8 1239.2h0M549.0 1240.9h0M549.2 1240.5h0M549.5 1238.7h0M549.8 1238.7h0M550.0 1239.6h0M550.2 1239.4h0M550.5 1240.0h0M550.8 1239.2h0M551.0 1238.6h0M551.2 1240.3h0M551.5 1239.3h0M551.8 1240.1h0M552.0 1238.7h0M552.2 1240.9h0M552.5 1239.8h0M552.8 1239.8h0M553.0 1239.9h0M553.2 1238.1h0M553.5 1240.2h0M553.8 1239.0h0M554.0 1238.5h0M554.2 1239.9h0M554.5 1241.1h0M554.8 1238.9h0M555.0 1240.9h0M555.2 1237.5h0M555.5 1239.8h0M555.8 1239.0h0M556.0 1239.7h0M556.2 1241.5h0M556.5 1240.1h0M556.8 1238.2h0M557.0 1240.8h0M557.2 1238.5h0M557.5 1239.0h0M557.8 1238.7h0M558.0 1239.6h0M558.2 1239.4h0M558.5 1241.0h0M558.8 1239.8h0M559.0 1240.2h0M559.2 1239.4h0M559.5 1240.5h0M559.8 1238.6h0M560.0 1238.2h0M560.2 1240.3h0M560.5 1240.2h0M560.8 1239.6h0M561.0 1241.6h0M561.2 1238.7h0M561.5 1240.8h0M561.8 1240.9h0M562.0 1238.4h0M562.2 1240.0h0M562.5 1240.2h0M562.8 1239.4h0M563.0 1239.4h0M563.2 1239.5h0M563.5 1238.7h0M563.8 1238.3h0M564.0 1240.3h0M564.2 1239.7h0M564.5 1239.6h0M564.8 1240.0h0M565.0 1238.8h0M565.2 1238.9h0M565.5 1240.3h0M565.8 1239.5h0M566.0 1240.0h0M566.2 1240.5h0M566.5 1241.1h0M566.8 1238.7h0M567.0 1239.0h0M567.2 1238.2h0M567.5 1238.9h0M567.8 1240.0h0M568.0 1239.0h0M568.2 1241.5h0M568.5 1239.1h0M568.8 1237.9h0M569.0 1238.7h0M569.2 1241.4h0M569.5 1238.7h0M569.8 1239.5h0M570.0 1238.8h0M570.2 1238.5h0M570.5 1240.6h0M570.8 1238.4h0M571.0 1237.9h0M571.2 1238.9h0M571.5 1238.9h0M571.8 1239.9h0M572.0 1239.6h0M572.2 1240.7h0M572.5 1239.3h0M572.8 1239.9h0M573.0 1240.0h0M573.2 1240.5h0M573.5 1238.4h0M573.8 1239.2h0M574.0 1237.0h0M574.2 1238.8h0M574.5 1238.4h0M574.8 1238.7h0M575.0 1240.9h0M575.2 1240.5h0M575.5 1238.1h0M575.8 1241.2h0M576.0 1240.7h0M576.2 1239.7h0M576.5 1239.4h0M576.8 1239.4h0M577.0 1239.5h0M577.2 1240.1h0M577.5 1239.3h0M577.8 1240.4h0M578.0 1239.2h0M578.2 1238.9h0M578.5 1239.4h0M578.8 1239.8h0M579.0 1239.9h0M579.2 1239.5h0M579.5 1238.1h0M579.8 1238.3h0M580.0 1237.9h0M580.2 1239.2h0M580.5 1240.1h0M580.8 1239.5h0M581.0 1239.5h0M581.2 1239.1h0M581.5 1239.2h0M581.8 1238.9h0M582.0 1240.5h0M582.2 1238.4h0M582.5 1238.7h0M582.8 1239.9h0M583.0 1239.2h0M583.2 1240.1h0M583.5 1239.1h0M583.8 1239.9h0M584.0 1239.7h0M584.2 1238.3h0M584.5 1240.0h0M584.8 1240.6h0M585.0 1238.9h0M585.2 1239.4h0M585.5 1240.1h0M585.8 1240.9h0M586.0 1239.8h0M586.2 1241.6h0M586.5 1239.2h0M586.8 1241.3h0M587.0 1238.8h0M587.2 1239.5h0M587.5 1238.7h0M587.8 1240.4h0M588.0 1240.1h0M588.2 1238.0h0M588.5 1237.2h0M588.8 1241.5h0M589.0 1239.3h0M589.2 1238.0h0M589.5 1238.7h0M589.8 1239.1h0M590.0 1240.9h0M590.2 1239.9h0M590.5 1239.6h0M590.8 1238.7h0M591.0 1240.1h0M591.2 1237.9h0M591.5 1240.5h0M591.8 1240.4h0M592.0 1239.1h0M592.2 1238.2h0M592.5 1239.0h0M592.8 1239.4h0M593.0 1241.3h0M593.2 1241.0h0M593.5 1238.9h0M593.8 1238.8h0M594.0 1238.3h0M594.2 1239.9h0M594.5 1239.0h0M594.8 1240.1h0M595.0 1239.6h0M595.2 1239.0h0M595.5 1238.6h0M595.8 1238.1h0M596.0 1240.0h0M596.2 1238.3h0M596.5 1240.1h0M596.8 1238.0h0M597.0 1237.2h0M597.2 1239.5h0M597.5 1239.0h0M597.8 1240.3h0M598.0 1239.5h0M598.2 1239.4h0M598.5 1240.3h0M598.8 1238.9h0M599.0 1240.1h0M599.2 1241.7h0M599.5 1239.7h0M599.8 1238.7h0M600.0 1239.5h0M600.2 1238.8h0M600.5 1239.2h0M600.8 1241.0h0M601.0 1238.6h0M601.2 1238.4h0M601.5 1239.9h0M601.8 1239.1h0M602.0 1239.3h0M602.2 1238.8h0M602.5 1239.6h0M602.8 1240.7h0M603.0 1239.9h0M603.2 1238.9h0M603.5 1238.9h0M603.8 1238.4h0M604.0 1238.4h0M604.2 1240.0h0M604.5 1239.6h0M604.8 1239.5h0M605.0 1239.5h0M605.2 1238.4h0M605.5 1238.9h0M605.8 1239.4h0M606.0 1240.3h0M606.2 1239.1h0M606.5 1238.9h0M606.8 1238.0h0M607.0 1239.6h0M607.2 1238.4h0M607.5 1238.9h0M607.8 1238.9h0M608.0 1237.8h0M608.2 1238.8h0M608.5 1239.5h0M608.8 1237.6h0M609.0 1237.9h0M609.2 1237.6h0M609.5 1238.4h0M609.8 1240.2h0M610.0 1238.5h0M610.2 1239.3h0M610.5 1238.4h0M610.8 1237.8h0M611.0 1238.2h0M611.2 1238.3h0M611.5 1237.9h0M611.8 1238.0h0M612.0 1238.2h0M612.2 1237.5h0M612.5 1239.4h0M612.8 1238.4h0M613.0 1237.9h0M613.2 1237.5h0M613.5 1238.4h0M613.8 1237.4h0M614.0 1237.0h0M614.2 1237.8h0M614.5 1239.2h0M614.8 1237.9h0M615.0 1238.3h0M615.2 1237.3h0M615.5 1238.6h0M615.8 1237.7h0M616.0 1237.7h0M616.2 1237.5h0M616.5 1238.1h0M616.8 1237.3h0M617.0 1237.9h0M617.2 1238.2h0M617.5 1237.5h0M617.8 1236.7h0M618.0 1238.8h0M618.2 1237.4h0M618.5 1236.8h0M618.8 1238.6h0M619.0 1238.5h0M619.2 1239.6h0M619.5 1239.8h0M619.8 1236.7h0M620.0 1238.2h0M620.2 1239.0h0M620.5 1237.6h0M620.8 1239.9h0M621.0 1239.2h0M621.2 1238.4h0M621.5 1238.5h0M621.8 1239.3h0M622.0 1241.0h0M622.2 1240.8h0M622.5 1237.9h0M622.8 1239.8h0M623.0 1237.9h0M623.2 1239.2h0M623.5 1238.5h0M623.8 1239.1h0M624.0 1239.0h0M624.2 1239.8h0M624.5 1238.8h0M624.8 1240.2h0M625.0 1239.5h0M625.2 1238.8h0M625.5 1240.9h0M625.8 1240.0h0M626.0 1239.5h0M626.2 1239.8h0M626.5 1240.4h0M626.8 1239.7h0M627.0 1239.3h0M627.2 1239.7h0M627.5 1239.4h0M627.8 1239.4h0M628.0 1241.4h0M628.2 1240.6h0M628.5 1241.2h0M628.8 1239.5h0M629.0 1238.4h0M629.2 1239.7h0M629.5 1240.5h0M629.8 1239.6h0M630.0 1240.2h0M630.2 1239.2h0M630.5 1240.5h0M630.8 1239.7h0M631.0 1240.1h0M631.2 1240.6h0M631.5 1239.4h0M631.8 1239.1h0M632.0 1239.3h0M632.2 1240.6h0M632.5 1239.8h0M632.8 1241.0h0M633.0 1240.5h0M633.2 1241.1h0M633.5 1240.2h0M633.8 1241.2h0M634.0 1240.7h0M634.2 1238.4h0M634.5 1241.4h0M634.8 1240.9h0M635.0 1239.7h0M635.2 1239.0h0M635.5 1238.5h0M635.8 1240.3h0M636.0 1239.4h0M636.2 1239.1h0M636.5 1239.3h0M636.8 1238.7h0M637.0 1241.0h0M637.2 1239.4h0M637.5 1240.1h0M637.8 1240.3h0M638.0 1240.5h0M638.2 1240.0h0M638.5 1240.9h0M638.8 1239.6h0M639.0 1242.1h0M639.2 1238.8h0M639.5 1240.8h0M639.8 1242.1h0M640.0 1239.3h0M640.2 1241.5h0M640.5 1242.0h0M640.8 1239.8h0M641.0 1241.6h0M641.2 1239.7h0M641.5 1240.5h0M641.8 1240.0h0M642.0 1239.3h0M642.2 1239.2h0M642.5 1239.7h0M642.8 1238.9h0M643.0 1240.4h0M643.2 1240.3h0M643.5 1241.2h0M643.8 1240.6h0M644.0 1240.1h0M644.2 1239.9h0M644.5 1242.4h0M644.8 1238.8h0M645.0 1239.0h0M645.2 1242.2h0M645.5 1241.2h0M645.8 1240.4h0M646.0 1240.7h0M646.2 1241.1h0M646.5 1238.9h0M646.8 1240.0h0M647.0 1240.9h0M647.2 1240.9h0M647.5 1241.3h0M647.8 1240.5h0M648.0 1240.0h0M648.2 1239.7h0M648.5 1240.8h0M648.8 1240.3h0M649.0 1240.7h0M649.2 1241.6h0M649.5 1241.4h0M649.8 1239.2h0M650.0 1241.4h0M650.2 1239.4h0M650.5 1238.8h0M650.8 1242.2h0M651.0 1240.6h0M651.2 1239.8h0M651.5 1240.0h0M651.8 1241.2h0M652.0 1242.1h0M652.2 1241.5h0M652.5 1240.2h0M652.8 1239.3h0M653.0 1240.3h0M653.2 1241.3h0M653.5 1240.8h0M653.8 1239.2h0M654.0 1240.5h0M654.2 1240.9h0M654.5 1239.5h0M654.8 1241.2h0M655.0 1241.7h0M655.2 1241.2h0M655.5 1239.6h0M655.8 1240.1h0M656.0 1240.3h0M656.2 1240.1h0M656.5 1241.2h0M656.8 1240.5h0M657.0 1240.4h0M657.2 1240.7h0M657.5 1240.0h0M657.8 1239.2h0M658.0 1240.5h0M658.2 1240.1h0M658.5 1241.0h0M658.8 1240.6h0M659.0 1240.2h0M659.2 1241.4h0M659.5 1240.4h0M659.8 1239.2h0M660.0 1241.8h0M660.2 1241.4h0M660.5 1240.4h0M660.8 1239.0h0M661.0 1239.5h0M661.2 1241.3h0M661.5 1240.3h0M661.8 1240.1h0M662.0 1240.8h0M662.2 1239.9h0M662.5 1239.9h0M662.8 1241.5h0M663.0 1240.9h0M663.2 1241.1h0M663.5 1240.9h0M663.8 1241.3h0M664.0 1241.1h0M664.2 1239.7h0M664.5 1240.2h0M664.8 1241.9h0M665.0 1240.6h0M665.2 1241.9h0M665.5 1240.1h0M665.8 1239.2h0M666.0 1240.5h0M666.2 1240.0h0M666.5 1239.8h0M666.8 1239.7h0M667.0 1238.6h0M667.2 1240.9h0M667.5 1240.3h0M667.8 1239.6h0M668.0 1239.0h0" stroke="#F1BE5C" stroke-width="4.8" stroke-linecap="round" fill="none"/><polyline points="26.3,1238.8 26.7,1238.8 27.1,1238.8 27.5,1238.8 27.9,1238.8 28.3,1238.8 28.7,1238.8 29.1,1238.8 29.5,1238.8 29.9,1238.8 30.3,1238.7 30.7,1238.7 31.1,1238.7 31.5,1238.7 31.9,1238.7 32.3,1238.7 32.7,1238.7 33.1,1238.6 33.5,1238.6 33.9,1238.6 34.3,1238.6 34.7,1238.6 35.1,1238.5 35.5,1238.5 35.9,1238.5 36.3,1238.5 36.7,1238.4 37.1,1238.4 37.5,1238.4 37.9,1238.3 38.3,1238.3 38.7,1238.3 39.1,1238.2 39.5,1238.2 39.9,1238.2 40.3,1238.1 40.7,1238.1 41.1,1238.0 41.5,1238.0 41.9,1238.0 42.3,1237.9 42.7,1237.9 43.1,1237.8 43.5,1237.8 43.9,1237.7 44.3,1237.7 44.7,1237.6 45.1,1237.6 45.5,1237.5 45.9,1237.4 46.3,1237.4 46.7,1237.3 47.1,1237.3 47.5,1237.2 47.9,1237.2 48.3,1237.1 48.7,1237.0 49.1,1237.0 49.5,1236.9 49.9,1236.8 50.3,1236.8 50.7,1236.7 51.1,1236.6 51.5,1236.5 51.9,1236.5 52.3,1236.4 52.7,1236.3 53.1,1236.2 53.5,1236.1 53.9,1236.1 54.3,1236.0 54.7,1235.9 55.1,1235.8 55.5,1235.7 55.9,1235.6 56.3,1235.6 56.7,1235.5 57.1,1235.4 57.5,1235.3 57.9,1235.2 58.3,1235.1 58.7,1235.0 59.1,1234.9 59.5,1234.8 59.9,1234.7 60.3,1234.6 60.7,1234.5 61.1,1234.4 61.5,1234.3 61.9,1234.2 62.3,1234.0 62.7,1233.9 63.1,1233.8 63.5,1233.7 63.9,1233.6 64.3,1233.5 64.7,1233.4 65.1,1233.2 65.5,1233.1 65.9,1233.0 66.3,1232.9 66.7,1232.7 67.1,1232.6 67.5,1232.5 67.9,1232.4 68.3,1232.2 68.7,1232.1 69.1,1232.0 69.5,1231.8 69.9,1231.7 70.3,1231.5 70.7,1231.3 71.1,1231.1 71.5,1230.9 71.9,1230.6 72.3,1230.3 72.7,1229.9 73.1,1229.6 73.5,1229.2 73.9,1228.8 74.3,1228.3 74.7,1227.8 75.1,1227.3 75.5,1226.8 75.9,1226.2 76.3,1225.6 76.7,1225.0 77.1,1224.3 77.5,1223.6 77.9,1222.9 78.3,1222.1 78.7,1221.3 79.1,1220.5 79.5,1219.6 79.9,1218.7 80.3,1217.5 80.7,1216.1 81.1,1214.5 81.5,1212.7 81.9,1210.6 82.3,1208.2 82.7,1205.5 83.1,1202.5 83.5,1199.2 83.9,1195.6 84.3,1191.7 84.7,1186.9 85.1,1178.8 85.5,1167.9 85.9,1155.2 86.3,1141.8 86.7,1128.9 87.1,1117.2 87.5,1105.3 87.9,1093.0 88.3,1081.3 88.7,1071.1 89.1,1063.3 89.5,1056.7 89.9,1051.1 90.3,1046.7 90.7,1043.5 91.1,1040.6 91.5,1038.8 91.9,1038.7 92.3,1040.2 92.7,1042.7 93.1,1046.0 93.5,1053.5 93.9,1065.3 94.3,1079.6 94.7,1094.7 95.1,1108.7 95.5,1120.0 95.9,1129.3 96.3,1138.6 96.7,1147.6 97.1,1156.2 97.5,1164.2 97.9,1171.3 98.3,1177.4 98.7,1182.2 99.1,1185.8 99.5,1188.6 99.9,1191.2 100.3,1193.5 100.7,1195.4 101.1,1197.1 101.5,1198.6 101.9,1199.7 102.3,1200.7 102.7,1201.7 103.1,1202.6 103.5,1203.4 103.9,1204.1 104.3,1204.7 104.7,1205.2 105.1,1205.4 105.5,1205.5 105.9,1205.3 106.3,1205.0 106.7,1204.5 107.1,1203.9 107.5,1203.2 107.9,1202.4 108.3,1201.5 108.7,1200.7 109.1,1199.8 109.5,1198.7 109.9,1197.3 110.3,1195.7 110.7,1194.0 111.1,1192.2 111.5,1190.4 111.9,1188.7 112.3,1187.2 112.7,1185.8 113.1,1184.8 113.5,1183.7 113.9,1182.7 114.3,1181.7 114.7,1180.9 115.1,1180.2 115.5,1179.8 115.9,1179.7 116.3,1180.0 116.7,1180.7 117.1,1181.6 117.5,1182.8 117.9,1184.1 118.3,1185.6 118.7,1187.0 119.1,1188.3 119.5,1190.0 119.9,1191.9 120.3,1193.9 120.7,1196.1 121.1,1198.1 121.5,1200.0 121.9,1201.7 122.3,1203.0 122.7,1204.3 123.1,1205.6 123.5,1206.8 123.9,1208.0 124.3,1209.2 124.7,1210.3 125.1,1211.4 125.5,1212.5 125.9,1213.5 126.3,1214.4 126.7,1215.3 127.1,1216.1 127.5,1216.9 127.9,1217.6 128.3,1218.2 128.7,1218.8 129.1,1219.3 129.5,1219.7 129.9,1220.2 130.3,1220.6 130.7,1221.0 131.1,1221.4 131.5,1221.8 131.9,1222.1 132.3,1222.5 132.7,1222.9 133.1,1223.2 133.5,1223.6 133.9,1223.9 134.3,1224.3 134.7,1224.6 135.1,1224.9 135.5,1225.2 135.9,1225.5 136.3,1225.8 136.7,1226.1 137.1,1226.3 137.5,1226.6 137.9,1226.9 138.3,1227.1 138.7,1227.4 139.1,1227.6 139.5,1227.9 139.9,1228.1 140.3,1228.3 140.7,1228.5 141.1,1228.7 141.5,1228.9 141.9,1229.1 142.3,1229.3 142.7,1229.5 143.1,1229.7 143.5,1229.9 143.9,1230.0 144.3,1230.2 144.7,1230.4 145.1,1230.5 145.5,1230.7 145.9,1230.8 146.3,1231.0 146.7,1231.1 147.1,1231.2 147.5,1231.4 147.9,1231.5 148.3,1231.6 148.7,1231.7 149.1,1231.8 149.5,1231.9 149.9,1232.0 150.3,1232.2 150.7,1232.3 151.1,1232.4 151.5,1232.5 151.9,1232.6 152.3,1232.7 152.7,1232.8 153.1,1232.9 153.5,1233.0 153.9,1233.1 154.3,1233.2 154.7,1233.3 155.1,1233.4 155.5,1233.5 155.9,1233.6 156.3,1233.7 156.7,1233.8 157.1,1233.9 157.5,1234.0 157.9,1234.1 158.3,1234.2 158.7,1234.3 159.1,1234.4 159.5,1234.5 159.9,1234.6 160.3,1234.7 160.7,1234.8 161.1,1234.9 161.5,1235.0 161.9,1235.1 162.3,1235.2 162.7,1235.2 163.1,1235.3 163.5,1235.4 163.9,1235.5 164.3,1235.6 164.7,1235.7 165.1,1235.8 165.5,1235.8 165.9,1235.9 166.3,1236.0 166.7,1236.1 167.1,1236.2 167.5,1236.2 167.9,1236.3 168.3,1236.4 168.7,1236.5 169.1,1236.5 169.5,1236.6 169.9,1236.7 170.3,1236.8 170.7,1236.8 171.1,1236.9 171.5,1237.0 171.9,1237.0 172.3,1237.1 172.7,1237.2 173.1,1237.2 173.5,1237.3 173.9,1237.4 174.3,1237.4 174.7,1237.5 175.1,1237.6 175.5,1237.6 175.9,1237.7 176.3,1237.7 176.7,1237.8 177.1,1237.8 177.5,1237.9 177.9,1237.9 178.3,1238.0 178.7,1238.0 179.1,1238.1 179.5,1238.1 179.9,1238.2 180.3,1238.2 180.7,1238.3 181.1,1238.3 181.5,1238.4 181.9,1238.4 182.3,1238.4 182.7,1238.5 183.1,1238.5 183.5,1238.5 183.9,1238.6 184.3,1238.6 184.7,1238.6 185.1,1238.7 185.5,1238.7 185.9,1238.7 186.3,1238.8 186.7,1238.8 187.1,1238.8 187.5,1238.8 187.9,1238.8 188.3,1238.9 188.7,1238.9 189.1,1238.9 189.5,1238.9 189.9,1238.9 190.3,1238.9 190.7,1239.0 191.1,1239.0 191.5,1239.0 191.9,1239.0 192.3,1239.0 192.7,1239.0 193.1,1239.0 193.5,1239.0 193.9,1239.0 194.3,1239.0 194.7,1239.0 195.1,1239.0 195.5,1239.0 195.9,1239.0 196.3,1239.0 196.7,1239.0 197.1,1239.0 197.5,1239.0 197.9,1239.0 198.3,1239.0 198.7,1239.0 199.1,1239.0 199.5,1239.0 199.9,1239.0 200.3,1239.0 200.7,1239.0 201.1,1239.0 201.5,1239.0 201.9,1239.0 202.3,1239.0 202.7,1239.0 203.1,1239.0 203.5,1239.0 203.9,1239.0 204.3,1239.0 204.7,1239.0 205.1,1239.0 205.5,1239.0 205.9,1239.0 206.3,1239.0 206.7,1239.0 207.1,1239.0 207.5,1239.0 207.9,1239.0 208.3,1239.0 208.7,1239.0 209.1,1239.0 209.5,1239.0 209.9,1239.0 210.3,1239.0 210.7,1239.0 211.1,1239.0 211.5,1239.0 211.9,1239.0 212.3,1239.0 212.7,1239.0 213.1,1239.0 213.5,1239.0 213.9,1239.0 214.3,1239.0 214.7,1239.0 215.1,1239.0 215.5,1239.0 215.9,1239.0 216.3,1239.0 216.7,1239.0 217.1,1239.0 217.5,1239.0 217.9,1239.0 218.3,1239.0 218.7,1239.0 219.1,1239.0 219.5,1239.0 219.9,1239.0 220.3,1239.0 220.7,1239.0 221.1,1239.0 221.5,1239.0 221.9,1239.0 222.3,1239.0 222.7,1239.0 223.1,1239.0 223.5,1239.0 223.9,1239.0 224.3,1239.0 224.7,1239.0 225.1,1239.0 225.5,1239.0 225.9,1239.0 226.3,1239.0 226.7,1239.0 227.1,1239.0 227.5,1239.0 227.9,1239.0 228.3,1239.0 228.7,1239.0 229.1,1239.0 229.5,1239.0 229.9,1239.0 230.3,1239.0 230.7,1239.0 231.1,1239.0 231.5,1239.0 231.9,1239.0 232.3,1239.0 232.7,1239.0 233.1,1239.0 233.5,1239.0 233.9,1239.0 234.3,1239.0 234.7,1239.0 235.1,1239.0 235.5,1239.0 235.9,1239.0 236.3,1239.0 236.7,1239.0 237.1,1239.0 237.5,1239.0 237.9,1239.0 238.3,1239.0 238.7,1239.0 239.1,1239.0 239.5,1239.0 239.9,1239.0 240.3,1239.0 240.7,1239.0 241.1,1239.0 241.5,1239.0 241.9,1239.0 242.3,1239.0 242.7,1239.0 243.1,1239.0 243.5,1239.0 243.9,1239.0 244.3,1239.0 244.7,1239.0 245.1,1239.0 245.5,1239.0 245.9,1239.0 246.3,1239.0 246.7,1239.0 247.1,1239.0 247.5,1239.0 247.9,1239.0 248.3,1239.0 248.7,1239.0 249.1,1239.0 249.5,1239.0 249.9,1239.0 250.3,1239.0 250.7,1239.0 251.1,1238.9 251.5,1238.9 251.9,1238.8 252.3,1238.7 252.7,1238.6 253.1,1238.4 253.5,1238.3 253.9,1238.1 254.3,1238.0 254.7,1237.8 255.1,1237.6 255.5,1237.4 255.9,1237.2 256.3,1237.0 256.7,1236.8 257.1,1236.6 257.5,1236.3 257.9,1236.1 258.3,1235.9 258.7,1235.7 259.1,1235.5 259.5,1235.3 259.9,1235.1 260.3,1234.8 260.7,1234.6 261.1,1234.3 261.5,1234.0 261.9,1233.6 262.3,1233.3 262.7,1232.9 263.1,1232.6 263.5,1232.2 263.9,1231.9 264.3,1231.5 264.7,1231.2 265.1,1231.0 265.5,1230.7 265.9,1230.5 266.3,1230.4 266.7,1230.3 267.1,1230.3 267.5,1230.4 267.9,1230.5 268.3,1230.7 268.7,1231.0 269.1,1231.4 269.5,1231.7 269.9,1232.2 270.3,1232.6 270.7,1233.1 271.1,1233.5 271.5,1234.0 271.9,1234.4 272.3,1234.8 272.7,1235.2 273.1,1235.5 273.5,1235.8 273.9,1236.0 274.3,1236.1 274.7,1236.3 275.1,1236.4 275.5,1236.5 275.9,1236.7 276.3,1236.8 276.7,1237.0 277.1,1237.1 277.5,1237.2 277.9,1237.4 278.3,1237.5 278.7,1237.6 279.1,1237.7 279.5,1237.8 279.9,1238.0 280.3,1238.1 280.7,1238.2 281.1,1238.3 281.5,1238.4 281.9,1238.5 282.3,1238.6 282.7,1238.7 283.1,1238.7 283.5,1238.8 283.9,1238.9 284.3,1239.0 284.7,1239.0 285.1,1239.1 285.5,1239.2 285.9,1239.2 286.3,1239.3 286.7,1239.3 287.1,1239.4 287.5,1239.4 287.9,1239.4 288.3,1239.5 288.7,1239.5 289.1,1239.5 289.5,1239.5 289.9,1239.5 290.3,1239.5 290.7,1239.5 291.1,1239.5 291.5,1239.5 291.9,1239.5 292.3,1239.5 292.7,1239.5 293.1,1239.5 293.5,1239.5 293.9,1239.5 294.3,1239.5 294.7,1239.5 295.1,1239.5 295.5,1239.5 295.9,1239.5 296.3,1239.5 296.7,1239.5 297.1,1239.5 297.5,1239.5 297.9,1239.5 298.3,1239.5 298.7,1239.5 299.1,1239.5 299.5,1239.5 299.9,1239.5 300.3,1239.5 300.7,1239.5 301.1,1239.5 301.5,1239.5 301.9,1239.5 302.3,1239.5 302.7,1239.5 303.1,1239.5 303.5,1239.5 303.9,1239.5 304.3,1239.5 304.7,1239.5 305.1,1239.5 305.5,1239.5 305.9,1239.5 306.3,1239.5 306.7,1239.5 307.1,1239.5 307.5,1239.5 307.9,1239.5 308.3,1239.5 308.7,1239.5 309.1,1239.5 309.5,1239.5 309.9,1239.5 310.3,1239.5 310.7,1239.5 311.1,1239.4 311.5,1239.4 311.9,1239.4 312.3,1239.4 312.7,1239.4 313.1,1239.4 313.5,1239.4 313.9,1239.4 314.3,1239.4 314.7,1239.4 315.1,1239.4 315.5,1239.4 315.9,1239.4 316.3,1239.4 316.7,1239.4 317.1,1239.4 317.5,1239.4 317.9,1239.4 318.3,1239.4 318.7,1239.4 319.1,1239.4 319.5,1239.4 319.9,1239.4 320.3,1239.4 320.7,1239.4 321.1,1239.4 321.5,1239.4 321.9,1239.4 322.3,1239.4 322.7,1239.4 323.1,1239.4 323.5,1239.4 323.9,1239.4 324.3,1239.4 324.7,1239.3 325.1,1239.3 325.5,1239.3 325.9,1239.3 326.3,1239.3 326.7,1239.3 327.1,1239.3 327.5,1239.3 327.9,1239.3 328.3,1239.3 328.7,1239.3 329.1,1239.3 329.5,1239.3 329.9,1239.3 330.3,1239.3 330.7,1239.3 331.1,1239.3 331.5,1239.3 331.9,1239.3 332.3,1239.3 332.7,1239.3 333.1,1239.2 333.5,1239.2 333.9,1239.2 334.3,1239.2 334.7,1239.2 335.1,1239.2 335.5,1239.2 335.9,1239.2 336.3,1239.2 336.7,1239.2 337.1,1239.2 337.5,1239.2 337.9,1239.2 338.3,1239.2 338.7,1239.2 339.1,1239.2 339.5,1239.1 339.9,1239.1 340.3,1239.1 340.7,1239.1 341.1,1239.1 341.5,1239.1 341.9,1239.1 342.3,1239.1 342.7,1239.1 343.1,1239.1 343.5,1239.1 343.9,1239.1 344.3,1239.1 344.7,1239.1 345.1,1239.0 345.5,1239.0 345.9,1239.0 346.3,1239.0 346.7,1239.0 347.1,1239.0 347.5,1239.0 347.9,1239.0 348.3,1239.0 348.7,1239.0 349.1,1239.0 349.5,1239.0 349.9,1238.9 350.3,1238.9 350.7,1238.9 351.1,1238.9 351.5,1238.9 351.9,1238.9 352.3,1238.9 352.7,1238.9 353.1,1238.9 353.5,1238.9 353.9,1238.9 354.3,1238.8 354.7,1238.8 355.1,1238.8 355.5,1238.8 355.9,1238.8 356.3,1238.8 356.7,1238.8 357.1,1238.8 357.5,1238.8 357.9,1238.8 358.3,1238.7 358.7,1238.7 359.1,1238.7 359.5,1238.7 359.9,1238.7 360.3,1238.7 360.7,1238.7 361.1,1238.7 361.5,1238.7 361.9,1238.6 362.3,1238.6 362.7,1238.6 363.1,1238.6 363.5,1238.6 363.9,1238.6 364.3,1238.6 364.7,1238.6 365.1,1238.5 365.5,1238.5 365.9,1238.5 366.3,1238.5 366.7,1238.5 367.1,1238.5 367.5,1238.5 367.9,1238.5 368.3,1238.4 368.7,1238.4 369.1,1238.4 369.5,1238.4 369.9,1238.4 370.3,1238.4 370.7,1238.4 371.1,1238.3 371.5,1238.3 371.9,1238.3 372.3,1238.3 372.7,1238.3 373.1,1238.3 373.5,1238.3 373.9,1238.2 374.3,1238.2 374.7,1238.2 375.1,1238.2 375.5,1238.2 375.9,1238.2 376.3,1238.1 376.7,1238.1 377.1,1238.1 377.5,1238.1 377.9,1238.1 378.3,1238.1 378.7,1238.1 379.1,1238.0 379.5,1238.0 379.9,1238.0 380.3,1238.0 380.7,1237.9 381.1,1237.9 381.5,1237.8 381.9,1237.7 382.3,1237.6 382.7,1237.5 383.1,1237.4 383.5,1237.2 383.9,1237.1 384.3,1236.9 384.7,1236.7 385.1,1236.5 385.5,1236.4 385.9,1236.1 386.3,1235.9 386.7,1235.7 387.1,1235.5 387.5,1235.2 387.9,1235.0 388.3,1234.7 388.7,1234.5 389.1,1234.2 389.5,1234.0 389.9,1233.7 390.3,1233.4 390.7,1233.2 391.1,1232.9 391.5,1232.6 391.9,1232.4 392.3,1232.1 392.7,1231.8 393.1,1231.6 393.5,1231.3 393.9,1231.1 394.3,1230.8 394.7,1230.5 395.1,1230.1 395.5,1229.8 395.9,1229.3 396.3,1228.9 396.7,1228.5 397.1,1228.1 397.5,1227.6 397.9,1227.2 398.3,1226.9 398.7,1226.5 399.1,1226.2 399.5,1225.9 399.9,1225.7 400.3,1225.5 400.7,1225.4 401.1,1225.4 401.5,1225.5 401.9,1225.7 402.3,1226.0 402.7,1226.3 403.1,1226.8 403.5,1227.3 403.9,1227.8 404.3,1228.4 404.7,1229.0 405.1,1229.6 405.5,1230.2 405.9,1230.8 406.3,1231.3 406.7,1231.8 407.1,1232.3 407.5,1232.6 407.9,1232.9 408.3,1233.2 408.7,1233.4 409.1,1233.6 409.5,1233.9 409.9,1234.1 410.3,1234.3 410.7,1234.5 411.1,1234.7 411.5,1234.9 411.9,1235.1 412.3,1235.3 412.7,1235.5 413.1,1235.7 413.5,1235.9 413.9,1236.0 414.3,1236.2 414.7,1236.3 415.1,1236.5 415.5,1236.6 415.9,1236.7 416.3,1236.9 416.7,1237.0 417.1,1237.1 417.5,1237.2 417.9,1237.3 418.3,1237.3 418.7,1237.4 419.1,1237.4 419.5,1237.5 419.9,1237.5 420.3,1237.5 420.7,1237.5 421.1,1237.5 421.5,1237.6 421.9,1237.6 422.3,1237.6 422.7,1237.6 423.1,1237.6 423.5,1237.6 423.9,1237.6 424.3,1237.7 424.7,1237.7 425.1,1237.7 425.5,1237.7 425.9,1237.7 426.3,1237.7 426.7,1237.7 427.1,1237.8 427.5,1237.8 427.9,1237.8 428.3,1237.8 428.7,1237.8 429.1,1237.8 429.5,1237.8 429.9,1237.8 430.3,1237.9 430.7,1237.9 431.1,1237.9 431.5,1237.9 431.9,1237.9 432.3,1237.9 432.7,1237.9 433.1,1237.9 433.5,1238.0 433.9,1238.0 434.3,1238.0 434.7,1238.0 435.1,1238.0 435.5,1238.0 435.9,1238.0 436.3,1238.0 436.7,1238.0 437.1,1238.0 437.5,1238.1 437.9,1238.1 438.3,1238.1 438.7,1238.1 439.1,1238.1 439.5,1238.1 439.9,1238.1 440.3,1238.1 440.7,1238.1 441.1,1238.1 441.5,1238.1 441.9,1238.2 442.3,1238.2 442.7,1238.2 443.1,1238.2 443.5,1238.2 443.9,1238.2 444.3,1238.2 444.7,1238.2 445.1,1238.2 445.5,1238.2 445.9,1238.2 446.3,1238.2 446.7,1238.2 447.1,1238.3 447.5,1238.3 447.9,1238.3 448.3,1238.3 448.7,1238.3 449.1,1238.3 449.5,1238.3 449.9,1238.3 450.3,1238.3 450.7,1238.3 451.1,1238.3 451.5,1238.3 451.9,1238.3 452.3,1238.3 452.7,1238.3 453.1,1238.3 453.5,1238.3 453.9,1238.4 454.3,1238.4 454.7,1238.4 455.1,1238.4 455.5,1238.4 455.9,1238.4 456.3,1238.4 456.7,1238.4 457.1,1238.4 457.5,1238.4 457.9,1238.4 458.3,1238.4 458.7,1238.4 459.1,1238.4 459.5,1238.4 459.9,1238.4 460.3,1238.4 460.7,1238.4 461.1,1238.4 461.5,1238.4 461.9,1238.4 462.3,1238.4 462.7,1238.4 463.1,1238.4 463.5,1238.4 463.9,1238.4 464.3,1238.5 464.7,1238.5 465.1,1238.5 465.5,1238.5 465.9,1238.5 466.3,1238.5 466.7,1238.5 467.1,1238.5 467.5,1238.5 467.9,1238.5 468.3,1238.5 468.7,1238.5 469.1,1238.5 469.5,1238.5 469.9,1238.5 470.3,1238.5 470.7,1238.5 471.1,1238.5 471.5,1238.5 471.9,1238.5 472.3,1238.5 472.7,1238.5 473.1,1238.5 473.5,1238.5 473.9,1238.5 474.3,1238.5 474.7,1238.5 475.1,1238.5 475.5,1238.5 475.9,1238.5 476.3,1238.5 476.7,1238.5 477.1,1238.5 477.5,1238.5 477.9,1238.5 478.3,1238.5 478.7,1238.5 479.1,1238.5 479.5,1238.5 479.9,1238.5 480.3,1238.5 480.7,1238.5 481.1,1238.5 481.5,1238.5 481.9,1238.5 482.3,1238.5 482.7,1238.4 483.1,1238.4 483.5,1238.4 483.9,1238.4 484.3,1238.3 484.7,1238.3 485.1,1238.3 485.5,1238.3 485.9,1238.2 486.3,1238.2 486.7,1238.1 487.1,1238.1 487.5,1238.1 487.9,1238.0 488.3,1238.0 488.7,1237.9 489.1,1237.9 489.5,1237.8 489.9,1237.8 490.3,1237.7 490.7,1237.7 491.1,1237.6 491.5,1237.6 491.9,1237.5 492.3,1237.4 492.7,1237.4 493.1,1237.3 493.5,1237.3 493.9,1237.2 494.3,1237.1 494.7,1237.1 495.1,1237.0 495.5,1237.0 495.9,1236.9 496.3,1236.8 496.7,1236.8 497.1,1236.7 497.5,1236.6 497.9,1236.6 498.3,1236.5 498.7,1236.5 499.1,1236.4 499.5,1236.3 499.9,1236.3 500.3,1236.2 500.7,1236.2 501.1,1236.1 501.5,1236.0 501.9,1236.0 502.3,1235.9 502.7,1235.9 503.1,1235.8 503.5,1235.8 503.9,1235.7 504.3,1235.7 504.7,1235.6 505.1,1235.6 505.5,1235.5 505.9,1235.5 506.3,1235.4 506.7,1235.4 507.1,1235.4 507.5,1235.3 507.9,1235.3 508.3,1235.2 508.7,1235.2 509.1,1235.2 509.5,1235.1 509.9,1235.1 510.3,1235.1 510.7,1235.1 511.1,1235.1 511.5,1235.0 511.9,1235.0 512.3,1235.0 512.7,1235.0 513.1,1235.0 513.5,1235.0 513.9,1235.0 514.3,1235.0 514.7,1235.0 515.1,1235.0 515.5,1235.1 515.9,1235.1 516.3,1235.1 516.7,1235.1 517.1,1235.2 517.5,1235.2 517.9,1235.3 518.3,1235.3 518.7,1235.4 519.1,1235.4 519.5,1235.5 519.9,1235.6 520.3,1235.6 520.7,1235.7 521.1,1235.8 521.5,1235.8 521.9,1235.9 522.3,1236.0 522.7,1236.1 523.1,1236.2 523.5,1236.3 523.9,1236.3 524.3,1236.4 524.7,1236.5 525.1,1236.6 525.5,1236.7 525.9,1236.8 526.3,1236.9 526.7,1237.0 527.1,1237.1 527.5,1237.1 527.9,1237.2 528.3,1237.3 528.7,1237.4 529.1,1237.5 529.5,1237.6 529.9,1237.7 530.3,1237.8 530.7,1237.9 531.1,1237.9 531.5,1238.0 531.9,1238.1 532.3,1238.2 532.7,1238.2 533.1,1238.3 533.5,1238.4 533.9,1238.5 534.3,1238.5 534.7,1238.6 535.1,1238.6 535.5,1238.7 535.9,1238.7 536.3,1238.8 536.7,1238.8 537.1,1238.9 537.5,1238.9 537.9,1238.9 538.3,1239.0 538.7,1239.0 539.1,1239.0 539.5,1239.0 539.9,1239.0 540.3,1239.0 540.7,1239.0 541.1,1239.0 541.5,1239.0 541.9,1239.0 542.3,1239.0 542.7,1239.0 543.1,1239.0 543.5,1239.0 543.9,1239.0 544.3,1239.0 544.7,1239.0 545.1,1239.0 545.5,1239.0 545.9,1239.0 546.3,1239.0 546.7,1239.0 547.1,1239.0 547.5,1239.0 547.9,1239.0 548.3,1239.0 548.7,1239.0 549.1,1239.0 549.5,1239.0 549.9,1239.0 550.3,1239.0 550.7,1239.0 551.1,1239.0 551.5,1239.0 551.9,1239.0 552.3,1239.0 552.7,1239.0 553.1,1239.0 553.5,1239.0 553.9,1239.0 554.3,1239.0 554.7,1239.0 555.1,1239.0 555.5,1239.0 555.9,1239.0 556.3,1239.0 556.7,1239.0 557.1,1239.0 557.5,1239.0 557.9,1239.0 558.3,1239.0 558.7,1239.0 559.1,1239.0 559.5,1239.0 559.9,1239.0 560.3,1239.0 560.7,1239.0 561.1,1239.0 561.5,1239.0 561.9,1239.0 562.3,1239.0 562.7,1239.0 563.1,1239.0 563.5,1239.0 563.9,1239.0 564.3,1239.0 564.7,1239.0 565.1,1239.0 565.5,1239.0 565.9,1239.0 566.3,1239.0 566.7,1239.0 567.1,1239.0 567.5,1239.0 567.9,1239.0 568.3,1239.0 568.7,1239.0 569.1,1239.0 569.5,1239.0 569.9,1239.0 570.3,1239.0 570.7,1239.0 571.1,1239.0 571.5,1239.0 571.9,1239.0 572.3,1239.0 572.7,1239.0 573.1,1239.0 573.5,1239.0 573.9,1239.0 574.3,1239.0 574.7,1239.0 575.1,1239.0 575.5,1239.0 575.9,1239.0 576.3,1239.0 576.7,1239.0 577.1,1239.0 577.5,1239.0 577.9,1239.0 578.3,1239.0 578.7,1239.0 579.1,1239.0 579.5,1239.0 579.9,1239.0 580.3,1239.0 580.7,1239.0 581.1,1239.0 581.5,1239.0 581.9,1239.0 582.3,1239.0 582.7,1239.0 583.1,1239.0 583.5,1239.0 583.9,1239.0 584.3,1239.0 584.7,1239.0 585.1,1239.0 585.5,1239.0 585.9,1239.0 586.3,1239.0 586.7,1239.0 587.1,1239.0 587.5,1239.0 587.9,1239.0 588.3,1239.0 588.7,1239.0 589.1,1239.0 589.5,1239.0 589.9,1239.0 590.3,1239.0 590.7,1239.0 591.1,1239.0 591.5,1239.0 591.9,1239.0 592.3,1239.0 592.7,1239.0 593.1,1239.0 593.5,1239.0 593.9,1239.0 594.3,1239.0 594.7,1239.0 595.1,1239.0 595.5,1239.0 595.9,1239.0 596.3,1239.0 596.7,1239.0 597.1,1239.0 597.5,1239.0 597.9,1239.0 598.3,1239.0 598.7,1239.0 599.1,1239.0 599.5,1239.0 599.9,1239.0 600.3,1239.0 600.7,1239.0 601.1,1239.0 601.5,1238.9 601.9,1238.9 602.3,1238.9 602.7,1238.8 603.1,1238.8 603.5,1238.7 603.9,1238.7 604.3,1238.6 604.7,1238.6 605.1,1238.5 605.5,1238.4 605.9,1238.4 606.3,1238.3 606.7,1238.2 607.1,1238.1 607.5,1238.1 607.9,1238.0 608.3,1237.9 608.7,1237.9 609.1,1237.8 609.5,1237.8 609.9,1237.7 610.3,1237.7 610.7,1237.6 611.1,1237.6 611.5,1237.6 611.9,1237.5 612.3,1237.5 612.7,1237.5 613.1,1237.5 613.5,1237.5 613.9,1237.5 614.3,1237.5 614.7,1237.6 615.1,1237.6 615.5,1237.6 615.9,1237.6 616.3,1237.7 616.7,1237.7 617.1,1237.8 617.5,1237.8 617.9,1237.9 618.3,1237.9 618.7,1238.0 619.1,1238.1 619.5,1238.1 619.9,1238.2 620.3,1238.3 620.7,1238.3 621.1,1238.4 621.5,1238.5 621.9,1238.5 622.3,1238.6 622.7,1238.7 623.1,1238.7 623.5,1238.8 623.9,1238.9 624.3,1238.9 624.7,1239.0 625.1,1239.1 625.5,1239.1 625.9,1239.2 626.3,1239.2 626.7,1239.3 627.1,1239.3 627.5,1239.4 627.9,1239.4 628.3,1239.4 628.7,1239.4 629.1,1239.5 629.5,1239.5 629.9,1239.5 630.3,1239.5 630.7,1239.5 631.1,1239.5 631.5,1239.5 631.9,1239.5 632.3,1239.5 632.7,1239.5 633.1,1239.5 633.5,1239.6 633.9,1239.6 634.3,1239.6 634.7,1239.6 635.1,1239.6 635.5,1239.6 635.9,1239.6 636.3,1239.6 636.7,1239.6 637.1,1239.6 637.5,1239.6 637.9,1239.6 638.3,1239.6 638.7,1239.6 639.1,1239.6 639.5,1239.6 639.9,1239.6 640.3,1239.6 640.7,1239.6 641.1,1239.7 641.5,1239.7 641.9,1239.7 642.3,1239.7 642.7,1239.7 643.1,1239.7 643.5,1239.7 643.9,1239.7 644.3,1239.7 644.7,1239.7 645.1,1239.7 645.5,1239.7 645.9,1239.7 646.3,1239.7 646.7,1239.7 647.1,1239.7 647.5,1239.7 647.9,1239.7 648.3,1239.7 648.7,1239.7 649.1,1239.7 649.5,1239.7 649.9,1239.7 650.3,1239.7 650.7,1239.7 651.1,1239.7 651.5,1239.7 651.9,1239.7 652.3,1239.7 652.7,1239.8 653.1,1239.8 653.5,1239.8 653.9,1239.8 654.3,1239.8 654.7,1239.8 655.1,1239.8 655.5,1239.8 655.9,1239.8 656.3,1239.8 656.7,1239.8 657.1,1239.8 657.5,1239.8 657.9,1239.8 658.3,1239.8 658.7,1239.8 659.1,1239.8 659.5,1239.8 659.9,1239.8 660.3,1239.8 660.7,1239.8 661.1,1239.8 661.5,1239.8 661.9,1239.8 662.3,1239.8 662.7,1239.8 663.1,1239.8 663.5,1239.8 663.9,1239.8 664.3,1239.8 664.7,1239.8 665.1,1239.8 665.5,1239.8 665.9,1239.8 666.3,1239.8 666.7,1239.8 667.1,1239.8 667.5,1239.8 667.9,1239.8 668.3,1239.8 668.7,1239.8" fill="none" stroke="#000" stroke-width="2" stroke-linejoin="round"/><rect x="142.0" y="314.2" width="4" height="17.3" fill="#0000FF"/><rect x="215.6" y="314.2" width="4" height="17.3" fill="#0000FF"/><rect x="444.2" y="314.2" width="4" height="17.3" fill="#0000FF"/><rect x="579.0" y="314.2" width="4" height="17.3" fill="#0000FF"/><rect x="619.6" y="314.2" width="4" height="17.3" fill="#0000FF"/><rect x="114.9" y="339.9" width="4" height="17.5" fill="#007F00"/><rect x="142.2" y="339.9" width="4" height="17.5" fill="#007F00"/><rect x="174.0" y="339.9" width="4" height="17.5" fill="#007F00"/><rect x="320.8" y="339.9" width="4" height="17.5" fill="#007F00"/><rect x="444.6" y="339.9" width="4" height="17.5" fill="#007F00"/><rect x="511.0" y="339.9" width="4" height="17.5" fill="#007F00"/><rect x="564.7" y="339.9" width="4" height="17.5" fill="#007F00"/><rect x="579.0" y="339.9" width="4" height="17.5" fill="#007F00"/><rect x="596.2" y="339.9" width="4" height="17.5" fill="#007F00"/><rect x="619.6" y="339.9" width="4" height="17.5" fill="#007F00"/><rect x="133.3" y="366" width="4" height="17.6" fill="#C8C8C8"/><rect x="430.0" y="366" width="4" height="17.6" fill="#C8C8C8"/><rect x="562.1" y="366" width="4" height="17.6" fill="#C8C8C8"/><rect x="602.1" y="366" width="4" height="17.6" fill="#C8C8C8"/><rect x="123.2" y="799.4" width="4" height="17.4" fill="#FF0000"/><rect x="312.3" y="799.4" width="4" height="17.4" fill="#FF0000"/><rect x="457.0" y="799.4" width="4" height="17.4" fill="#FF0000"/><rect x="579.7" y="799.4" width="4" height="17.4" fill="#FF0000"/><rect x="110.8" y="823.2" width="4" height="17.4" fill="#0000FF"/><rect x="179.3" y="823.2" width="4" height="17.4" fill="#0000FF"/><rect x="391.6" y="823.2" width="4" height="17.4" fill="#0000FF"/><rect x="516.7" y="823.2" width="4" height="17.4" fill="#0000FF"/><rect x="554.9" y="823.2" width="4" height="17.4" fill="#0000FF"/><rect x="99.9" y="847" width="4" height="18.0" fill="#C8C8C8"/><rect x="374.2" y="847" width="4" height="18.0" fill="#C8C8C8"/><rect x="496.8" y="847" width="4" height="18.0" fill="#C8C8C8"/><rect x="534.0" y="847" width="4" height="18.0" fill="#C8C8C8"/><rect x="90.0" y="1246.2" width="4" height="16.8" fill="#FF0000"/><rect x="264.7" y="1246.2" width="4" height="16.8" fill="#FF0000"/><rect x="399.0" y="1246.2" width="4" height="16.8" fill="#FF0000"/><rect x="511.7" y="1246.2" width="4" height="16.8" fill="#FF0000"/><rect x="611.5" y="1246.2" width="4" height="16.8" fill="#FF0000"/><rect x="113.8" y="1267" width="4" height="17.0" fill="#C8C8C8"/><rect x="396.0" y="1267" width="4" height="17.0" fill="#C8C8C8"/><rect x="521.6" y="1267" width="4" height="17.0" fill="#C8C8C8"/><rect x="559.8" y="1267" width="4" height="17.0" fill="#C8C8C8"/><text transform="translate(43.2,328.7) scale(1.07,1)" fill="#0000FF" font-size="17" text-anchor="start">FCC</text><text transform="translate(43.2,354.8) scale(1.07,1)" fill="#007F00" font-size="17" text-anchor="start">HCP</text><text transform="translate(43.2,380.5) scale(1.07,1)" fill="#C8C8C8" font-size="17" text-anchor="start">D</text><text transform="translate(42.5,814) scale(1.07,1)" fill="#FF0000" font-size="17" text-anchor="start">BCC</text><text transform="translate(42.5,838) scale(1.07,1)" fill="#0000FF" font-size="17" text-anchor="start">FCC</text><text transform="translate(42.5,861.5) scale(1.07,1)" fill="#C8C8C8" font-size="17" text-anchor="start">D</text><text transform="translate(42.5,1262) scale(1.07,1)" fill="#FF0000" font-size="17" text-anchor="start">BCC</text><text transform="translate(42.5,1283) scale(1.07,1)" fill="#C8C8C8" font-size="17" text-anchor="start">D</text><polyline points="24.2,418.0 24.9,418.4 25.5,414.4 26.1,418.5 26.7,416.6 27.3,413.5 27.9,412.7 28.5,412.8 29.1,415.3 29.7,418.2 30.3,418.5 30.9,416.6 31.5,411.4 32.1,412.3 32.7,419.1 33.3,421.0 33.9,422.6 34.5,419.6 35.1,415.6 35.7,418.6 36.3,418.6 36.9,416.3 37.5,414.3 38.1,415.3 38.7,416.3 39.3,418.0 39.9,418.2 40.5,419.1 41.1,415.8 41.7,416.9 42.3,416.8 42.9,413.5 43.5,413.4 44.1,417.8 44.7,417.8 45.3,416.3 45.9,416.3 46.5,414.9 47.1,415.6 47.7,414.9 48.3,416.7 48.9,418.1 49.5,416.6 50.1,416.9 50.7,414.1 51.3,413.5 51.9,412.6 52.5,414.8 53.1,416.0 53.7,415.4 54.3,416.3 54.9,419.9 55.5,419.3 56.1,415.2 56.7,416.4 57.3,412.4 57.9,412.9 58.5,415.1 59.1,415.3 59.7,413.1 60.3,413.6 60.9,415.1 61.5,414.0 62.1,414.5 62.7,417.7 63.3,418.6 63.9,416.6 64.5,416.0 65.1,415.6 65.7,414.6 66.3,413.7 66.9,413.7 67.5,416.6 68.1,416.2 68.7,415.8 69.3,416.8 69.9,418.5 70.5,419.5 71.1,416.2 71.7,415.1 72.3,415.5 72.9,415.2 73.5,419.0 74.1,419.7 74.7,418.3 75.3,416.9 75.9,418.5 76.5,419.4 77.1,417.8 77.7,414.5 78.3,412.8 78.9,416.7 79.5,415.4 80.1,414.6 80.7,417.8 81.3,416.5 81.9,413.1 82.5,414.6 83.1,416.2 83.7,416.8 84.3,412.3 84.9,413.8 85.5,416.7 86.1,418.5 86.7,412.6 87.3,407.6 87.9,411.0 88.5,416.4 89.1,419.6 89.7,421.1 90.3,417.9 90.9,415.4 91.5,417.7 92.1,416.8 92.7,415.9 93.3,417.2 93.9,418.6 94.5,414.5 95.1,413.3 95.7,415.4 96.3,415.6 96.9,413.9 97.5,414.1 98.1,417.7 98.7,420.4 99.3,419.7 99.9,419.7 100.5,418.6 101.1,412.1 101.7,411.6 102.3,413.6 102.9,413.5 103.5,414.6 104.1,416.5 104.7,415.1 105.3,415.1 105.9,413.2 106.5,416.5 107.1,421.5 107.7,419.9 108.3,421.0 108.9,421.9 109.5,420.6 110.1,422.1 110.7,422.7 111.3,422.8 111.9,419.8 112.5,417.6 113.1,418.6 113.7,421.1 114.3,423.7 114.9,423.0 115.5,422.5 116.1,424.1 116.7,426.3 117.3,425.4 117.9,427.1 118.5,423.3 119.1,424.1 119.7,428.0 120.3,427.7 120.9,425.2 121.5,425.8 122.1,426.6 122.7,429.9 123.3,429.8 123.9,428.0 124.5,429.4 125.1,429.1 125.7,429.8 126.3,430.5 126.9,430.5 127.5,433.0 128.1,434.6 128.7,435.8 129.3,437.1 129.9,434.3 130.5,432.5 131.1,435.2 131.7,437.4 132.3,438.3 132.9,439.1 133.5,439.6 134.1,439.6 134.7,439.6 135.3,439.6 135.9,440.3 136.5,439.3 137.1,437.7 137.7,436.2 138.3,434.8 138.9,431.2 139.5,424.0 140.1,415.4 140.7,408.4 141.3,402.6 141.9,395.6 142.5,388.4 143.1,383.1 143.7,382.0 144.3,381.7 144.9,381.5 145.5,386.1 146.1,396.6 146.7,403.3 147.3,406.0 147.9,407.6 148.5,409.7 149.1,411.0 149.7,410.9 150.3,410.3 150.9,410.3 151.5,409.5 152.1,405.3 152.7,399.9 153.3,401.7 153.9,400.2 154.5,397.3 155.1,396.2 155.7,395.6 156.3,398.6 156.9,398.4 157.5,397.6 158.1,399.3 158.7,398.4 159.3,396.1 159.9,398.1 160.5,397.6 161.1,395.4 161.7,397.8 162.3,400.4 162.9,400.4 163.5,404.5 164.1,405.3 164.7,401.6 165.3,403.2 165.9,405.5 166.5,401.0 167.1,398.4 167.7,398.5 168.3,396.9 168.9,397.6 169.5,401.0 170.1,401.6 170.7,403.1 171.3,403.5 171.9,401.7 172.5,402.3 173.1,402.7 173.7,402.0 174.3,402.6 174.9,405.2 175.5,405.8 176.1,407.4 176.7,409.7 177.3,409.0 177.9,404.7 178.5,404.5 179.1,406.8 179.7,409.2 180.3,410.3 180.9,407.4 181.5,408.1 182.1,411.2 182.7,414.6 183.3,414.3 183.9,410.0 184.5,409.9 185.1,410.9 185.7,414.3 186.3,414.4 186.9,412.4 187.5,412.3 188.1,415.0 188.7,416.2 189.3,413.4 189.9,413.8 190.5,415.3 191.1,416.0 191.7,416.0 192.3,413.8 192.9,412.9 193.5,411.7 194.1,416.6 194.7,418.4 195.3,413.4 195.9,415.7 196.5,419.7 197.1,417.4 197.7,415.1 198.3,418.9 198.9,417.6 199.5,420.6 200.1,418.2 200.7,417.0 201.3,418.6 201.9,419.5 202.5,420.9 203.1,420.6 203.7,420.2 204.3,422.7 204.9,422.1 205.5,420.5 206.1,419.7 206.7,419.1 207.3,419.6 207.9,421.2 208.5,421.0 209.1,420.6 209.7,421.6 210.3,420.0 210.9,420.9 211.5,420.9 212.1,417.4 212.7,419.4 213.3,422.4 213.9,419.5 214.5,420.7 215.1,418.4 215.7,419.0 216.3,417.1 216.9,417.2 217.5,417.9 218.1,418.9 218.7,422.2 219.3,423.1 219.9,422.5 220.5,422.1 221.1,424.4 221.7,423.6 222.3,420.5 222.9,418.2 223.5,421.1 224.1,421.9 224.7,421.1 225.3,422.1 225.9,421.9 226.5,420.2 227.1,421.2 227.7,421.4 228.3,420.6 228.9,419.0 229.5,418.7 230.1,420.9 230.7,425.1 231.3,426.1 231.9,420.1 232.5,417.0 233.1,417.7 233.7,417.5 234.3,418.7 234.9,419.9 235.5,418.7 236.1,421.3 236.7,423.4 237.3,425.4 237.9,426.0 238.5,425.4 239.1,425.5 239.7,420.8 240.3,420.4 240.9,420.9 241.5,421.9 242.1,422.4 242.7,421.3 243.3,424.6 243.9,424.5 244.5,422.1 245.1,420.6 245.7,416.3 246.3,413.5 246.9,418.1 247.5,420.8 248.1,419.9 248.7,417.3 249.3,419.4 249.9,424.1 250.5,423.3 251.1,421.6 251.7,420.1 252.3,422.2 252.9,423.8 253.5,422.1 254.1,419.6 254.7,419.3 255.3,417.6 255.9,418.7 256.5,420.3 257.1,418.6 257.7,419.6 258.3,422.4 258.9,420.7 259.5,420.7 260.1,418.3 260.7,416.4 261.3,418.1 261.9,416.8 262.5,413.4 263.1,414.5 263.7,418.3 264.3,421.5 264.9,418.7 265.5,418.8 266.1,420.4 266.7,419.6 267.3,419.4 267.9,423.2 268.5,421.0 269.1,414.7 269.7,419.2 270.3,421.1 270.9,421.0 271.5,419.8 272.1,421.6 272.7,424.4 273.3,424.8 273.9,424.2 274.5,422.4 275.1,421.5 275.7,419.8 276.3,417.7 276.9,422.2 277.5,420.2 278.1,418.6 278.7,418.4 279.3,417.0 279.9,413.1 280.5,415.3 281.1,413.9 281.7,412.6 282.3,410.9 282.9,412.3 283.5,416.7 284.1,416.2 284.7,416.2 285.3,415.5 285.9,413.5 286.5,413.3 287.1,413.1 287.7,413.3 288.3,411.0 288.9,414.6 289.5,419.1 290.1,420.7 290.7,420.2 291.3,417.5 291.9,415.0 292.5,417.9 293.1,418.2 293.7,416.2 294.3,413.8 294.9,417.1 295.5,420.0 296.1,418.5 296.7,416.3 297.3,416.9 297.9,416.4 298.5,416.8 299.1,418.0 299.7,417.1 300.3,416.3 300.9,415.9 301.5,413.2 302.1,412.9 302.7,415.3 303.3,414.8 303.9,414.7 304.5,412.4 305.1,416.5 305.7,417.1 306.3,416.9 306.9,409.4 307.5,410.4 308.1,417.0 308.7,416.5 309.3,415.7 309.9,415.4 310.5,415.6 311.1,415.3 311.7,412.6 312.3,414.4 312.9,417.5 313.5,415.4 314.1,413.2 314.7,414.9 315.3,416.6 315.9,414.5 316.5,414.0 317.1,415.8 317.7,417.5 318.3,418.0 318.9,415.1 319.5,415.4 320.1,415.1 320.7,410.5 321.3,413.1 321.9,414.9 322.5,413.3 323.1,412.1 323.7,415.3 324.3,416.8 324.9,413.9 325.5,412.2 326.1,413.8 326.7,417.7 327.3,417.4 327.9,413.6 328.5,409.9 329.1,409.3 329.7,411.3 330.3,412.4 330.9,412.7 331.5,410.7 332.1,412.4 332.7,412.9 333.3,411.3 333.9,417.4 334.5,416.4 335.1,413.6 335.7,409.6 336.3,410.3 336.9,415.1 337.5,413.8 338.1,408.8 338.7,414.1 339.3,415.8 339.9,413.9 340.5,410.9 341.1,412.0 341.7,412.0 342.3,414.9 342.9,417.8 343.5,416.3 344.1,415.2 344.7,412.0 345.3,410.1 345.9,412.7 346.5,416.1 347.1,416.7 347.7,413.8 348.3,412.9 348.9,410.6 349.5,408.5 350.1,411.8 350.7,413.2 351.3,411.9 351.9,410.6 352.5,408.5 353.1,412.5 353.7,415.9 354.3,414.1 354.9,414.4 355.5,413.6 356.1,411.5 356.7,412.0 357.3,413.2 357.9,418.9 358.5,414.6 359.1,409.3 359.7,409.6 360.3,415.4 360.9,415.6 361.5,413.1 362.1,409.5 362.7,409.5 363.3,410.4 363.9,414.0 364.5,413.9 365.1,417.2 365.7,415.2 366.3,413.5 366.9,414.0 367.5,408.4 368.1,409.0 368.7,412.1 369.3,415.8 369.9,416.4 370.5,413.2 371.1,408.7 371.7,409.5 372.3,410.9 372.9,414.6 373.5,413.3 374.1,415.3 374.7,417.5 375.3,414.7 375.9,414.2 376.5,412.7 377.1,412.8 377.7,413.1 378.3,413.1 378.9,412.9 379.5,413.6 380.1,416.5 380.7,413.1 381.3,412.9 381.9,410.8 382.5,408.4 383.1,413.7 383.7,413.3 384.3,409.5 384.9,409.1 385.5,409.0 386.1,413.7 386.7,417.8 387.3,416.0 387.9,409.7 388.5,408.6 389.1,414.3 389.7,417.4 390.3,415.3 390.9,414.5 391.5,410.6 392.1,412.1 392.7,413.7 393.3,412.3 393.9,412.8 394.5,414.0 395.1,411.4 395.7,410.9 396.3,414.2 396.9,413.5 397.5,411.3 398.1,412.9 398.7,412.6 399.3,414.1 399.9,413.3 400.5,411.8 401.1,411.2 401.7,412.8 402.3,414.4 402.9,417.1 403.5,413.0 404.1,411.0 404.7,414.6 405.3,410.4 405.9,413.6 406.5,412.2 407.1,414.0 407.7,412.5 408.3,412.4 408.9,411.4 409.5,411.0 410.1,411.2 410.7,409.6 411.3,409.9 411.9,407.2 412.5,406.7 413.1,407.6 413.7,409.5 414.3,411.0 414.9,407.1 415.5,405.0 416.1,404.6 416.7,406.5 417.3,407.9 417.9,405.6 418.5,405.1 419.1,404.9 419.7,404.2 420.3,401.6 420.9,405.8 421.5,406.8 422.1,403.3 422.7,402.7 423.3,402.5 423.9,405.6 424.5,407.6 425.1,409.9 425.7,403.8 426.3,400.0 426.9,399.6 427.5,399.1 428.1,401.9 428.7,403.6 429.3,404.7 429.9,403.5 430.5,402.7 431.1,405.7 431.7,405.9 432.3,404.8 432.9,401.1 433.5,401.0 434.1,402.4 434.7,402.3 435.3,401.5 435.9,407.4 436.5,408.0 437.1,409.8 437.7,411.5 438.3,412.8 438.9,411.4 439.5,409.7 440.1,407.8 440.7,410.4 441.3,412.2 441.9,406.4 442.5,407.0 443.1,411.3 443.7,413.1 444.3,408.6 444.9,408.6 445.5,412.9 446.1,417.2 446.7,411.0 447.3,410.5 447.9,412.1 448.5,410.4 449.1,411.9 449.7,412.3 450.3,411.2 450.9,413.4 451.5,416.0 452.1,413.0 452.7,410.4 453.3,410.1 453.9,412.7 454.5,414.7 455.1,413.5 455.7,415.0 456.3,417.9 456.9,411.7 457.5,409.5 458.1,412.0 458.7,412.5 459.3,414.4 459.9,415.9 460.5,414.0 461.1,412.6 461.7,413.8 462.3,413.8 462.9,412.1 463.5,411.5 464.1,413.3 464.7,411.5 465.3,410.1 465.9,412.6 466.5,411.2 467.1,411.2 467.7,412.7 468.3,410.8 468.9,410.5 469.5,408.7 470.1,408.2 470.7,412.9 471.3,415.3 471.9,412.2 472.5,414.9 473.1,416.6 473.7,415.5 474.3,410.3 474.9,411.0 475.5,415.2 476.1,413.1 476.7,412.5 477.3,414.0 477.9,413.5 478.5,411.0 479.1,411.5 479.7,413.4 480.3,412.4 480.9,411.4 481.5,414.8 482.1,414.5 482.7,411.3 483.3,411.0 483.9,411.6 484.5,407.0 485.1,409.6 485.7,409.9 486.3,410.3 486.9,413.3 487.5,415.2 488.1,418.5 488.7,413.6 489.3,411.1 489.9,409.3 490.5,412.2 491.1,410.9 491.7,412.3 492.3,415.2 492.9,415.2 493.5,414.1 494.1,413.9 494.7,410.1 495.3,407.2 495.9,406.9 496.5,412.1 497.1,415.0 497.7,411.0 498.3,409.7 498.9,409.6 499.5,409.3 500.1,406.5 500.7,410.9 501.3,412.0 501.9,407.7 502.5,405.6 503.1,406.6 503.7,410.5 504.3,411.6 504.9,406.1 505.5,404.1 506.1,407.4 506.7,409.2 507.3,409.1 507.9,407.1 508.5,409.3 509.1,408.9 509.7,403.8 510.3,405.2 510.9,408.2 511.5,408.0 512.1,403.8 512.7,400.3 513.3,401.2 513.9,401.1 514.5,403.6 515.1,406.4 515.7,404.2 516.3,403.4 516.9,402.5 517.5,405.1 518.1,402.8 518.7,402.9 519.3,408.0 519.9,407.0 520.5,404.7 521.1,401.5 521.7,407.6 522.3,409.5 522.9,405.5 523.5,403.7 524.1,404.3 524.7,406.1 525.3,402.9 525.9,406.7 526.5,410.7 527.1,409.4 527.7,410.8 528.3,407.8 528.9,406.7 529.5,408.6 530.1,407.6 530.7,407.1 531.3,405.7 531.9,404.3 532.5,406.7 533.1,410.1 533.7,411.0 534.3,409.0 534.9,408.2 535.5,406.3 536.1,407.2 536.7,407.9 537.3,408.1 537.9,408.9 538.5,410.4 539.1,412.3 539.7,411.8 540.3,409.6 540.9,405.8 541.5,406.2 542.1,408.5 542.7,409.8 543.3,409.4 543.9,405.7 544.5,408.2 545.1,409.3 545.7,407.9 546.3,407.3 546.9,409.0 547.5,409.4 548.1,408.7 548.7,404.4 549.3,406.9 549.9,412.3 550.5,410.5 551.1,407.6 551.7,407.2 552.3,407.4 552.9,412.9 553.5,414.6 554.1,413.7 554.7,413.5 555.3,412.8 555.9,413.7 556.5,413.4 557.1,413.7 557.7,411.0 558.3,409.5 558.9,408.5 559.5,407.6 560.1,407.5 560.7,413.3 561.3,415.3 561.9,414.2 562.5,413.8 563.1,412.7 563.7,411.5 564.3,408.6 564.9,409.0 565.5,407.1 566.1,408.9 566.7,410.8 567.3,410.7 567.9,411.0 568.5,415.8 569.1,416.0 569.7,412.0 570.3,410.1 570.9,412.6 571.5,414.5 572.1,411.4 572.7,414.9 573.3,415.0 573.9,415.1 574.5,417.8 575.1,416.7 575.7,416.7 576.3,418.4 576.9,416.0 577.5,419.7 578.1,417.0 578.7,417.4 579.3,424.6 579.9,429.1 580.5,424.4 581.1,417.4 581.7,414.8 582.3,419.2 582.9,420.1 583.5,419.0 584.1,419.1 584.7,419.3 585.3,421.5 585.9,420.4 586.5,417.8 587.1,415.0 587.7,417.6 588.3,417.1 588.9,420.0 589.5,418.2 590.1,414.2 590.7,415.7 591.3,416.2 591.9,419.2 592.5,420.6 593.1,420.3 593.7,417.4 594.3,417.3 594.9,415.1 595.5,417.0 596.1,417.2 596.7,417.5 597.3,417.9 597.9,418.8 598.5,416.4 599.1,416.7 599.7,419.1 600.3,416.4 600.9,413.8 601.5,413.1 602.1,414.6 602.7,415.5 603.3,416.1 603.9,415.2 604.5,415.6 605.1,415.3 605.7,417.4 606.3,415.5 606.9,415.5 607.5,414.0 608.1,411.6 608.7,414.4 609.3,413.9 609.9,413.5 610.5,408.0 611.1,406.0 611.7,405.9 612.3,407.3 612.9,410.9 613.5,412.0 614.1,410.6 614.7,411.0 615.3,411.8 615.9,414.7 616.5,415.4 617.1,414.6 617.7,415.9 618.3,417.7 618.9,414.5 619.5,409.8 620.1,411.0 620.7,412.6 621.3,414.8 621.9,415.1 622.5,413.9 623.1,411.0 623.7,414.6 624.3,414.1 624.9,415.1 625.5,413.8 626.1,410.4 626.7,410.6 627.3,414.2 627.9,414.9 628.5,410.5 629.1,407.7 629.7,406.3 630.3,408.3 630.9,409.8 631.5,411.7 632.1,413.2 632.7,410.9 633.3,409.2 633.9,410.6 634.5,412.0 635.1,412.7 635.7,412.6 636.3,412.4 636.9,413.1 637.5,411.2 638.1,409.5 638.7,412.4 639.3,415.6 639.9,413.6 640.5,416.7 641.1,413.4 641.7,412.2 642.3,409.0 642.9,411.8 643.5,414.4 644.1,410.0 644.7,409.8 645.3,412.5 645.9,412.0 646.5,408.1 647.1,408.4 647.7,412.0 648.3,413.5 648.9,413.8 649.5,412.7 650.1,414.3 650.7,414.3 651.3,411.0 651.9,414.0 652.5,415.5 653.1,415.2 653.7,412.1 654.3,411.7 654.9,411.8 655.5,411.8 656.1,414.1 656.7,412.6 657.3,410.2 657.9,411.1 658.5,408.7 659.1,407.0 659.7,408.6 660.3,411.4 660.9,412.2 661.5,412.3 662.1,414.6 662.7,415.9 663.3,411.3 663.9,412.3 664.5,412.1 665.1,409.2 665.7,410.0" fill="none" stroke="#17BEBE" stroke-width="2" stroke-linejoin="round"/><polyline points="26.8,873.1 27.4,872.7 28.0,873.0 28.6,874.8 29.2,876.5 29.8,874.5 30.4,876.6 31.0,877.5 31.6,875.4 32.2,874.7 32.8,876.5 33.4,878.4 34.0,879.4 34.6,878.5 35.2,878.0 35.8,875.5 36.4,873.7 37.0,872.7 37.6,873.4 38.2,875.0 38.8,875.4 39.4,874.7 40.0,876.5 40.6,876.0 41.2,874.9 41.8,875.7 42.4,878.6 43.0,876.9 43.6,874.7 44.2,875.5 44.8,878.1 45.4,877.0 46.0,878.4 46.6,877.9 47.2,874.7 47.8,877.3 48.4,876.5 49.0,875.0 49.6,875.8 50.2,877.5 50.8,877.8 51.4,877.4 52.0,876.8 52.6,879.1 53.2,880.5 53.8,880.8 54.4,880.3 55.0,881.3 55.6,881.5 56.2,880.0 56.8,879.6 57.4,879.4 58.0,879.5 58.6,879.0 59.2,876.5 59.8,877.7 60.4,878.4 61.0,875.8 61.6,877.1 62.2,880.4 62.8,878.6 63.4,878.8 64.0,879.9 64.6,879.2 65.2,878.6 65.8,879.1 66.4,879.4 67.0,879.7 67.6,881.3 68.2,883.1 68.8,882.7 69.4,883.5 70.0,883.0 70.6,882.7 71.2,882.0 71.8,881.0 72.4,881.5 73.0,880.9 73.6,879.7 74.2,881.2 74.8,881.5 75.4,880.5 76.0,877.9 76.6,876.3 77.2,879.8 77.8,878.2 78.4,875.7 79.0,877.5 79.6,877.2 80.2,877.6 80.8,877.3 81.4,877.8 82.0,876.8 82.6,876.1 83.2,876.0 83.8,875.9 84.4,873.8 85.0,875.5 85.6,875.1 86.2,873.2 86.8,873.0 87.4,872.7 88.0,873.5 88.6,874.0 89.2,872.8 89.8,873.9 90.4,874.6 91.0,874.6 91.6,874.8 92.2,873.3 92.8,874.3 93.4,875.9 94.0,873.3 94.6,871.9 95.2,872.2 95.8,872.5 96.4,871.2 97.0,870.4 97.6,868.8 98.2,869.0 98.8,869.2 99.4,869.2 100.0,870.5 100.6,871.7 101.2,870.3 101.8,869.2 102.4,870.7 103.0,870.5 103.6,868.9 104.2,869.6 104.8,868.7 105.4,868.7 106.0,869.3 106.6,870.2 107.2,869.2 107.8,869.1 108.4,869.6 109.0,869.9 109.6,869.4 110.2,868.4 110.8,868.5 111.4,868.0 112.0,867.4 112.6,866.3 113.2,864.8 113.8,864.0 114.4,863.5 115.0,864.1 115.6,866.4 116.2,868.6 116.8,870.7 117.4,872.2 118.0,872.1 118.6,872.6 119.2,872.8 119.8,872.4 120.4,871.8 121.0,869.9 121.6,867.4 122.2,865.4 122.8,863.1 123.4,860.7 124.0,859.6 124.6,859.1 125.2,860.8 125.8,864.1 126.4,866.9 127.0,868.8 127.6,871.9 128.2,874.5 128.8,875.8 129.4,876.9 130.0,878.1 130.6,879.0 131.2,880.1 131.8,881.5 132.4,882.3 133.0,882.5 133.6,882.7 134.2,882.6 134.8,882.2 135.4,881.3 136.0,880.5 136.6,880.1 137.2,879.0 137.8,878.4 138.4,878.3 139.0,877.1 139.6,876.3 140.2,874.6 140.8,874.4 141.4,875.3 142.0,873.8 142.6,871.6 143.2,871.5 143.8,873.1 144.4,872.8 145.0,873.9 145.6,873.7 146.2,872.6 146.8,872.9 147.4,873.6 148.0,872.5 148.6,871.3 149.2,872.1 149.8,871.7 150.4,871.8 151.0,872.6 151.6,872.8 152.2,873.0 152.8,871.5 153.4,870.5 154.0,870.7 154.6,871.1 155.2,869.9 155.8,869.6 156.4,869.0 157.0,869.0 157.6,870.8 158.2,873.0 158.8,870.6 159.4,870.0 160.0,869.8 160.6,869.3 161.2,870.1 161.8,871.6 162.4,870.2 163.0,871.1 163.6,869.9 164.2,867.5 164.8,867.1 165.4,867.0 166.0,867.2 166.6,869.4 167.2,869.4 167.8,868.5 168.4,867.1 169.0,867.9 169.6,868.6 170.2,871.0 170.8,869.4 171.4,869.1 172.0,869.5 172.6,868.9 173.2,869.1 173.8,870.2 174.4,871.7 175.0,871.0 175.6,871.9 176.2,873.0 176.8,872.4 177.4,871.4 178.0,872.0 178.6,873.3 179.2,874.1 179.8,876.1 180.4,875.9 181.0,875.1 181.6,874.5 182.2,875.7 182.8,875.1 183.4,874.1 184.0,875.6 184.6,878.4 185.2,875.8 185.8,875.1 186.4,877.4 187.0,877.4 187.6,876.6 188.2,877.2 188.8,874.7 189.4,874.3 190.0,874.5 190.6,877.4 191.2,878.1 191.8,879.9 192.4,878.3 193.0,876.8 193.6,874.7 194.2,874.3 194.8,875.8 195.4,877.0 196.0,874.6 196.6,873.4 197.2,877.0 197.8,877.7 198.4,876.0 199.0,877.3 199.6,878.8 200.2,878.0 200.8,875.2 201.4,875.8 202.0,876.1 202.6,877.6 203.2,876.7 203.8,875.2 204.4,876.6 205.0,876.9 205.6,874.4 206.2,874.0 206.8,875.1 207.4,875.8 208.0,875.1 208.6,873.5 209.2,873.9 209.8,876.2 210.4,876.9 211.0,875.8 211.6,877.4 212.2,879.2 212.8,877.1 213.4,875.8 214.0,875.9 214.6,877.2 215.2,877.4 215.8,877.1 216.4,876.6 217.0,877.3 217.6,877.5 218.2,877.3 218.8,877.6 219.4,875.6 220.0,877.0 220.6,877.3 221.2,878.7 221.8,879.6 222.4,877.6 223.0,876.6 223.6,877.3 224.2,879.2 224.8,879.5 225.4,877.9 226.0,878.5 226.6,879.6 227.2,877.6 227.8,874.7 228.4,874.9 229.0,875.9 229.6,876.8 230.2,876.8 230.8,878.1 231.4,877.4 232.0,878.3 232.6,877.1 233.2,878.2 233.8,878.1 234.4,879.4 235.0,880.6 235.6,880.2 236.2,878.4 236.8,875.8 237.4,873.9 238.0,872.8 238.6,877.7 239.2,879.3 239.8,878.0 240.4,876.7 241.0,879.4 241.6,877.3 242.2,876.7 242.8,874.5 243.4,875.5 244.0,878.3 244.6,877.9 245.2,875.5 245.8,876.4 246.4,877.1 247.0,874.8 247.6,875.9 248.2,875.0 248.8,876.4 249.4,876.7 250.0,877.3 250.6,875.9 251.2,875.4 251.8,875.2 252.4,874.7 253.0,875.0 253.6,874.5 254.2,875.3 254.8,876.6 255.4,876.4 256.0,877.7 256.6,877.8 257.2,877.0 257.8,875.1 258.4,876.7 259.0,878.5 259.6,878.4 260.2,878.7 260.8,877.9 261.4,874.9 262.0,876.3 262.6,876.9 263.2,875.4 263.8,874.2 264.4,875.5 265.0,876.6 265.6,879.0 266.2,878.3 266.8,875.5 267.4,874.0 268.0,874.3 268.6,875.1 269.2,875.8 269.8,877.6 270.4,875.1 271.0,875.3 271.6,876.2 272.2,876.0 272.8,874.7 273.4,875.2 274.0,876.1 274.6,876.0 275.2,875.0 275.8,875.2 276.4,876.8 277.0,877.8 277.6,875.3 278.2,876.8 278.8,877.5 279.4,875.2 280.0,877.6 280.6,878.2 281.2,876.9 281.8,877.7 282.4,878.0 283.0,876.3 283.6,875.5 284.2,874.1 284.8,874.4 285.4,875.5 286.0,876.3 286.6,877.7 287.2,875.6 287.8,874.4 288.4,876.7 289.0,877.5 289.6,876.6 290.2,875.3 290.8,874.3 291.4,875.1 292.0,877.7 292.6,877.4 293.2,876.3 293.8,876.1 294.4,875.0 295.0,874.0 295.6,874.6 296.2,874.6 296.8,872.8 297.4,872.2 298.0,872.4 298.6,874.4 299.2,875.5 299.8,873.5 300.4,872.7 301.0,872.6 301.6,873.6 302.2,873.2 302.8,873.0 303.4,874.4 304.0,877.7 304.6,875.9 305.2,874.2 305.8,874.8 306.4,876.6 307.0,877.0 307.6,875.2 308.2,873.2 308.8,876.1 309.4,877.4 310.0,876.9 310.6,876.2 311.2,876.0 311.8,876.7 312.4,875.8 313.0,876.2 313.6,874.8 314.2,874.3 314.8,874.2 315.4,874.0 316.0,874.6 316.6,876.6 317.2,877.2 317.8,874.4 318.4,874.0 319.0,876.2 319.6,875.3 320.2,875.4 320.8,875.8 321.4,876.0 322.0,874.8 322.6,876.6 323.2,875.7 323.8,872.5 324.4,873.7 325.0,874.7 325.6,875.4 326.2,874.8 326.8,873.9 327.4,874.4 328.0,875.4 328.6,875.2 329.2,875.8 329.8,878.1 330.4,876.2 331.0,873.8 331.6,874.8 332.2,875.1 332.8,873.9 333.4,874.4 334.0,873.0 334.6,871.9 335.2,874.8 335.8,876.2 336.4,876.0 337.0,874.8 337.6,874.3 338.2,875.2 338.8,876.1 339.4,877.0 340.0,877.5 340.6,876.4 341.2,874.6 341.8,874.1 342.4,873.5 343.0,875.6 343.6,876.6 344.2,877.0 344.8,876.9 345.4,877.0 346.0,875.0 346.6,875.1 347.2,874.8 347.8,873.9 348.4,872.3 349.0,872.4 349.6,871.9 350.2,873.4 350.8,874.0 351.4,874.1 352.0,872.4 352.6,873.4 353.2,873.4 353.8,872.5 354.4,876.3 355.0,875.9 355.6,875.0 356.2,877.6 356.8,876.4 357.4,872.2 358.0,873.2 358.6,874.0 359.2,874.3 359.8,873.6 360.4,874.2 361.0,873.8 361.6,871.7 362.2,874.6 362.8,876.8 363.4,876.2 364.0,877.2 364.6,877.6 365.2,876.2 365.8,875.7 366.4,875.5 367.0,875.6 367.6,877.9 368.2,876.8 368.8,876.3 369.4,877.1 370.0,876.7 370.6,873.4 371.2,873.1 371.8,875.0 372.4,875.2 373.0,873.0 373.6,873.0 374.2,875.7 374.8,876.1 375.4,874.8 376.0,874.2 376.6,873.5 377.2,872.7 377.8,873.3 378.4,874.7 379.0,875.2 379.6,875.5 380.2,872.9 380.8,872.4 381.4,874.7 382.0,874.1 382.6,874.7 383.2,875.1 383.8,873.7 384.4,873.9 385.0,875.2 385.6,873.9 386.2,876.3 386.8,876.1 387.4,878.6 388.0,879.4 388.6,879.5 389.2,879.9 389.8,879.2 390.4,878.2 391.0,880.2 391.6,880.5 392.2,880.4 392.8,879.6 393.4,879.6 394.0,880.8 394.6,880.7 395.2,878.8 395.8,876.4 396.4,875.7 397.0,876.2 397.6,878.3 398.2,877.9 398.8,876.6 399.4,875.6 400.0,875.2 400.6,876.0 401.2,874.2 401.8,874.2 402.4,876.2 403.0,876.2 403.6,874.5 404.2,872.4 404.8,872.7 405.4,875.1 406.0,875.7 406.6,875.9 407.2,873.9 407.8,873.0 408.4,873.0 409.0,874.4 409.6,872.1 410.2,873.9 410.8,875.0 411.4,871.7 412.0,870.0 412.6,870.1 413.2,870.4 413.8,872.2 414.4,872.0 415.0,870.9 415.6,872.1 416.2,873.9 416.8,872.3 417.4,872.3 418.0,874.0 418.6,871.5 419.2,871.7 419.8,873.8 420.4,871.9 421.0,869.2 421.6,869.2 422.2,868.6 422.8,870.5 423.4,871.7 424.0,871.0 424.6,874.3 425.2,875.3 425.8,874.0 426.4,872.2 427.0,872.9 427.6,874.2 428.2,875.2 428.8,874.5 429.4,870.8 430.0,871.2 430.6,871.7 431.2,872.9 431.8,875.1 432.4,877.1 433.0,875.5 433.6,875.5 434.2,874.9 434.8,875.3 435.4,876.4 436.0,874.3 436.6,876.1 437.2,879.4 437.8,880.1 438.4,875.3 439.0,872.9 439.6,872.7 440.2,873.9 440.8,874.8 441.4,875.5 442.0,876.3 442.6,875.2 443.2,874.5 443.8,872.6 444.4,873.3 445.0,873.4 445.6,871.8 446.2,874.4 446.8,876.2 447.4,875.5 448.0,875.2 448.6,874.5 449.2,873.4 449.8,874.2 450.4,874.2 451.0,874.8 451.6,875.1 452.2,874.5 452.8,873.2 453.4,875.0 454.0,877.6 454.6,876.8 455.2,874.7 455.8,874.3 456.4,875.9 457.0,874.6 457.6,872.4 458.2,874.3 458.8,876.2 459.4,873.4 460.0,873.9 460.6,873.9 461.2,874.3 461.8,873.9 462.4,872.4 463.0,871.0 463.6,873.4 464.2,874.7 464.8,874.2 465.4,873.1 466.0,874.5 466.6,877.0 467.2,874.2 467.8,873.3 468.4,872.9 469.0,874.1 469.6,875.6 470.2,876.6 470.8,875.7 471.4,875.1 472.0,875.6 472.6,875.7 473.2,875.0 473.8,875.3 474.4,876.1 475.0,874.4 475.6,874.0 476.2,873.4 476.8,874.4 477.4,876.3 478.0,874.8 478.6,876.1 479.2,878.1 479.8,876.4 480.4,874.5 481.0,872.6 481.6,870.7 482.2,872.0 482.8,873.6 483.4,876.0 484.0,875.6 484.6,873.7 485.2,874.8 485.8,875.0 486.4,877.6 487.0,877.9 487.6,876.2 488.2,875.4 488.8,877.4 489.4,877.3 490.0,877.1 490.6,876.0 491.2,875.2 491.8,875.5 492.4,874.6 493.0,875.8 493.6,874.9 494.2,873.1 494.8,874.9 495.4,875.0 496.0,874.4 496.6,875.0 497.2,875.5 497.8,873.3 498.4,873.4 499.0,875.5 499.6,874.8 500.2,872.8 500.8,873.6 501.4,873.0 502.0,875.2 502.6,875.8 503.2,875.0 503.8,872.7 504.4,873.5 505.0,875.0 505.6,873.6 506.2,874.8 506.8,874.8 507.4,874.6 508.0,874.1 508.6,875.4 509.2,876.0 509.8,877.2 510.4,878.4 511.0,875.7 511.6,874.4 512.2,874.3 512.8,876.6 513.4,875.5 514.0,875.3 514.6,873.6 515.2,874.3 515.8,875.8 516.4,875.7 517.0,875.2 517.6,876.1 518.2,876.0 518.8,876.3 519.4,875.4 520.0,875.5 520.6,875.2 521.2,876.5 521.8,875.6 522.4,874.9 523.0,874.8 523.6,876.2 524.2,875.6 524.8,875.4 525.4,876.4 526.0,875.0 526.6,876.7 527.2,876.7 527.8,873.8 528.4,875.7 529.0,876.2 529.6,875.7 530.2,875.0 530.8,873.8 531.4,875.2 532.0,874.9 532.6,873.0 533.2,873.5 533.8,873.3 534.4,874.2 535.0,873.9 535.6,874.1 536.2,872.9 536.8,873.4 537.4,874.1 538.0,875.0 538.6,877.3 539.2,877.6 539.8,874.2 540.4,875.2 541.0,874.8 541.6,874.3 542.2,874.3 542.8,874.6 543.4,875.1 544.0,876.6 544.6,877.2 545.2,876.0 545.8,875.4 546.4,875.9 547.0,876.6 547.6,877.1 548.2,873.9 548.8,872.6 549.4,874.1 550.0,875.1 550.6,874.9 551.2,874.0 551.8,871.3 552.4,872.4 553.0,873.1 553.6,872.5 554.2,873.3 554.8,874.4 555.4,874.8 556.0,873.0 556.6,872.4 557.2,875.4 557.8,877.5 558.4,875.8 559.0,874.5 559.6,873.6 560.2,875.3 560.8,876.0 561.4,873.3 562.0,874.3 562.6,873.3 563.2,876.2 563.8,876.3 564.4,874.8 565.0,875.7 565.6,876.6 566.2,874.6 566.8,876.1 567.4,876.1 568.0,875.7 568.6,876.0 569.2,873.3 569.8,873.5 570.4,873.2 571.0,874.5 571.6,874.8 572.2,873.1 572.8,874.6 573.4,875.1 574.0,874.2 574.6,875.0 575.2,876.4 575.8,876.4 576.4,876.6 577.0,873.6 577.6,873.3 578.2,875.3 578.8,874.1 579.4,875.8 580.0,875.6 580.6,875.6 581.2,875.1 581.8,876.6 582.4,877.6 583.0,877.2 583.6,875.5 584.2,873.8 584.8,875.6 585.4,876.0 586.0,876.0 586.6,873.7 587.2,874.6 587.8,874.5 588.4,875.1 589.0,876.4 589.6,877.0 590.2,877.3 590.8,876.4 591.4,876.0 592.0,875.1 592.6,874.1 593.2,875.5 593.8,874.1 594.4,874.1 595.0,875.0 595.6,874.1 596.2,873.0 596.8,871.1 597.4,872.2 598.0,872.8 598.6,873.8 599.2,875.2 599.8,874.7 600.4,874.6 601.0,875.4 601.6,876.7 602.2,876.9 602.8,875.8 603.4,875.2 604.0,875.8 604.6,874.8 605.2,874.7 605.8,875.0 606.4,874.0 607.0,872.8 607.6,872.7 608.2,874.1 608.8,875.4 609.4,875.5 610.0,874.3 610.6,874.9 611.2,874.9 611.8,875.5 612.4,877.7 613.0,874.8 613.6,873.7 614.2,875.5 614.8,876.9 615.4,875.8 616.0,876.2 616.6,874.2 617.2,874.0 617.8,874.5 618.4,874.7 619.0,875.0 619.6,874.9 620.2,874.4 620.8,874.0 621.4,875.4 622.0,875.5 622.6,876.0 623.2,877.0 623.8,876.4 624.4,876.3 625.0,876.9 625.6,874.6 626.2,872.8 626.8,873.3 627.4,873.3 628.0,874.3 628.6,874.8 629.2,875.2 629.8,875.8 630.4,876.3 631.0,876.1 631.6,875.5 632.2,874.7 632.8,874.4 633.4,874.9 634.0,874.4 634.6,873.5 635.2,874.5 635.8,875.9 636.4,875.2 637.0,874.2 637.6,875.3 638.2,875.6 638.8,874.7 639.4,877.2 640.0,877.2 640.6,875.9 641.2,876.6 641.8,876.2 642.4,875.7 643.0,874.1 643.6,874.1 644.2,874.6 644.8,874.8 645.4,873.9 646.0,872.5 646.6,873.3 647.2,875.1 647.8,875.5 648.4,877.6 649.0,877.4 649.6,875.5 650.2,874.5 650.8,873.2 651.4,875.7 652.0,876.4 652.6,874.3 653.2,873.6 653.8,874.3 654.4,876.2 655.0,876.2 655.6,874.1 656.2,874.4 656.8,875.6 657.4,875.4 658.0,875.0 658.6,875.2 659.2,873.5 659.8,873.1 660.4,875.5 661.0,876.8 661.6,876.9 662.2,874.9 662.8,873.9 663.4,874.8 664.0,875.0 664.6,875.1 665.2,875.5 665.8,876.8 666.4,876.5 667.0,876.6 667.6,874.3 668.2,873.5" fill="none" stroke="#17BEBE" stroke-width="2" stroke-linejoin="round"/><polyline points="26.8,1329.0 27.4,1328.7 28.0,1327.3 28.6,1325.6 29.2,1326.9 29.8,1326.2 30.4,1328.7 31.0,1329.6 31.6,1329.8 32.2,1329.6 32.8,1328.7 33.4,1327.6 34.0,1328.2 34.6,1329.7 35.2,1328.0 35.8,1327.4 36.4,1327.0 37.0,1327.2 37.6,1327.7 38.2,1328.3 38.8,1327.8 39.4,1327.4 40.0,1327.4 40.6,1327.5 41.2,1326.6 41.8,1328.2 42.4,1329.5 43.0,1327.8 43.6,1329.0 44.2,1331.2 44.8,1327.5 45.4,1325.7 46.0,1327.8 46.6,1331.0 47.2,1330.9 47.8,1327.8 48.4,1328.4 49.0,1328.2 49.6,1326.7 50.2,1326.0 50.8,1328.3 51.4,1327.7 52.0,1328.2 52.6,1329.2 53.2,1330.9 53.8,1329.9 54.4,1327.2 55.0,1327.8 55.6,1328.8 56.2,1326.9 56.8,1327.3 57.4,1327.7 58.0,1325.9 58.6,1325.4 59.2,1325.8 59.8,1327.6 60.4,1328.0 61.0,1329.1 61.6,1328.9 62.2,1328.9 62.8,1328.6 63.4,1329.0 64.0,1328.0 64.6,1327.5 65.2,1329.6 65.8,1330.8 66.4,1331.3 67.0,1328.7 67.6,1326.9 68.2,1324.7 68.8,1322.5 69.4,1325.3 70.0,1327.9 70.6,1326.4 71.2,1325.3 71.8,1328.4 72.4,1328.9 73.0,1329.2 73.6,1330.0 74.2,1331.3 74.8,1332.0 75.4,1331.0 76.0,1332.5 76.6,1334.1 77.2,1335.7 77.8,1335.3 78.4,1337.5 79.0,1338.0 79.6,1337.9 80.2,1335.8 80.8,1335.7 81.4,1334.2 82.0,1331.7 82.6,1330.9 83.2,1329.6 83.8,1327.9 84.4,1326.2 85.0,1324.0 85.6,1321.5 86.2,1318.5 86.8,1315.0 87.4,1311.6 88.0,1308.2 88.6,1303.4 89.2,1298.3 89.8,1293.6 90.4,1289.9 91.0,1287.9 91.6,1288.1 92.2,1292.7 92.8,1299.9 93.4,1308.3 94.0,1316.1 94.6,1324.8 95.2,1333.3 95.8,1339.2 96.4,1338.9 97.0,1333.4 97.6,1327.4 98.2,1326.2 98.8,1327.6 99.4,1329.1 100.0,1330.4 100.6,1331.7 101.2,1332.1 101.8,1330.6 102.4,1328.2 103.0,1324.9 103.6,1322.1 104.2,1319.8 104.8,1318.1 105.4,1317.8 106.0,1319.1 106.6,1321.4 107.2,1324.3 107.8,1327.4 108.4,1329.8 109.0,1330.9 109.6,1330.5 110.2,1329.0 110.8,1326.4 111.4,1322.7 112.0,1318.5 112.6,1315.0 113.2,1311.7 113.8,1308.2 114.4,1306.8 115.0,1307.3 115.6,1310.4 116.2,1316.0 116.8,1323.1 117.4,1330.0 118.0,1335.6 118.6,1339.1 119.2,1339.0 119.8,1338.1 120.4,1336.0 121.0,1333.2 121.6,1330.5 122.2,1328.3 122.8,1326.9 123.4,1325.6 124.0,1324.6 124.6,1323.4 125.2,1322.6 125.8,1321.9 126.4,1320.7 127.0,1320.0 127.6,1319.4 128.2,1319.6 128.8,1320.3 129.4,1320.3 130.0,1317.9 130.6,1319.1 131.2,1321.3 131.8,1322.3 132.4,1321.3 133.0,1318.2 133.6,1318.6 134.2,1320.4 134.8,1321.0 135.4,1320.3 136.0,1320.0 136.6,1319.7 137.2,1318.9 137.8,1320.1 138.4,1321.0 139.0,1320.7 139.6,1320.7 140.2,1317.8 140.8,1320.3 141.4,1323.7 142.0,1324.1 142.6,1324.2 143.2,1322.7 143.8,1321.2 144.4,1322.6 145.0,1324.2 145.6,1321.6 146.2,1321.3 146.8,1321.6 147.4,1323.1 148.0,1324.5 148.6,1325.5 149.2,1325.6 149.8,1328.1 150.4,1327.7 151.0,1326.1 151.6,1325.1 152.2,1325.2 152.8,1327.9 153.4,1330.2 154.0,1328.1 154.6,1326.7 155.2,1327.3 155.8,1327.0 156.4,1326.0 157.0,1325.3 157.6,1327.8 158.2,1330.3 158.8,1330.5 159.4,1329.8 160.0,1328.8 160.6,1329.1 161.2,1329.4 161.8,1328.5 162.4,1328.2 163.0,1328.1 163.6,1328.8 164.2,1327.6 164.8,1328.8 165.4,1329.7 166.0,1329.6 166.6,1329.0 167.2,1327.5 167.8,1327.0 168.4,1327.1 169.0,1327.0 169.6,1326.3 170.2,1326.8 170.8,1326.7 171.4,1326.8 172.0,1327.8 172.6,1327.4 173.2,1328.6 173.8,1330.6 174.4,1330.6 175.0,1329.1 175.6,1329.4 176.2,1329.7 176.8,1331.7 177.4,1331.4 178.0,1330.0 178.6,1328.2 179.2,1327.9 179.8,1328.6 180.4,1328.1 181.0,1328.0 181.6,1328.3 182.2,1326.0 182.8,1324.7 183.4,1325.5 184.0,1326.2 184.6,1327.1 185.2,1326.9 185.8,1326.6 186.4,1326.1 187.0,1329.1 187.6,1328.7 188.2,1327.2 188.8,1328.5 189.4,1329.9 190.0,1329.5 190.6,1328.5 191.2,1329.1 191.8,1328.8 192.4,1326.3 193.0,1325.5 193.6,1327.1 194.2,1329.5 194.8,1330.2 195.4,1329.3 196.0,1330.3 196.6,1329.8 197.2,1328.0 197.8,1326.8 198.4,1326.9 199.0,1328.4 199.6,1330.0 200.2,1329.0 200.8,1326.2 201.4,1326.3 202.0,1328.5 202.6,1328.2 203.2,1327.2 203.8,1329.0 204.4,1330.2 205.0,1329.5 205.6,1329.0 206.2,1329.5 206.8,1327.8 207.4,1326.7 208.0,1327.4 208.6,1330.7 209.2,1331.3 209.8,1329.0 210.4,1328.8 211.0,1329.1 211.6,1329.7 212.2,1330.0 212.8,1329.2 213.4,1327.9 214.0,1326.9 214.6,1325.4 215.2,1324.3 215.8,1326.4 216.4,1326.9 217.0,1327.6 217.6,1327.4 218.2,1326.4 218.8,1327.1 219.4,1328.3 220.0,1327.9 220.6,1326.6 221.2,1326.9 221.8,1328.4 222.4,1328.5 223.0,1328.3 223.6,1328.1 224.2,1328.7 224.8,1329.3 225.4,1330.8 226.0,1328.0 226.6,1327.5 227.2,1329.5 227.8,1328.1 228.4,1327.1 229.0,1327.1 229.6,1325.4 230.2,1327.5 230.8,1328.1 231.4,1327.8 232.0,1327.5 232.6,1329.2 233.2,1328.7 233.8,1328.1 234.4,1327.9 235.0,1326.9 235.6,1326.7 236.2,1325.5 236.8,1326.0 237.4,1327.7 238.0,1328.3 238.6,1328.4 239.2,1327.2 239.8,1327.1 240.4,1327.0 241.0,1328.1 241.6,1329.2 242.2,1329.5 242.8,1328.5 243.4,1327.1 244.0,1327.2 244.6,1325.8 245.2,1325.0 245.8,1327.1 246.4,1328.1 247.0,1328.9 247.6,1328.4 248.2,1326.1 248.8,1326.0 249.4,1327.3 250.0,1327.9 250.6,1327.6 251.2,1326.1 251.8,1327.0 252.4,1329.0 253.0,1329.6 253.6,1327.5 254.2,1328.9 254.8,1327.3 255.4,1326.2 256.0,1328.1 256.6,1326.3 257.2,1326.0 257.8,1328.3 258.4,1329.0 259.0,1327.7 259.6,1326.0 260.2,1325.4 260.8,1325.7 261.4,1323.2 262.0,1323.5 262.6,1325.8 263.2,1325.5 263.8,1324.8 264.4,1322.6 265.0,1320.4 265.6,1320.4 266.2,1319.3 266.8,1322.2 267.4,1324.1 268.0,1323.7 268.6,1326.1 269.2,1326.7 269.8,1325.9 270.4,1324.4 271.0,1326.3 271.6,1327.2 272.2,1325.0 272.8,1325.4 273.4,1325.2 274.0,1325.1 274.6,1327.5 275.2,1327.4 275.8,1327.4 276.4,1327.8 277.0,1327.7 277.6,1330.3 278.2,1327.2 278.8,1325.6 279.4,1327.4 280.0,1327.2 280.6,1325.6 281.2,1325.8 281.8,1327.7 282.4,1327.8 283.0,1327.9 283.6,1327.9 284.2,1327.1 284.8,1328.3 285.4,1327.8 286.0,1327.5 286.6,1326.5 287.2,1327.6 287.8,1328.6 288.4,1330.0 289.0,1328.4 289.6,1329.0 290.2,1329.0 290.8,1329.2 291.4,1328.1 292.0,1326.8 292.6,1324.1 293.2,1325.0 293.8,1327.9 294.4,1328.3 295.0,1328.0 295.6,1327.3 296.2,1327.7 296.8,1326.9 297.4,1327.3 298.0,1328.9 298.6,1328.6 299.2,1327.0 299.8,1327.0 300.4,1327.3 301.0,1326.9 301.6,1326.5 302.2,1326.1 302.8,1326.9 303.4,1325.6 304.0,1326.0 304.6,1328.9 305.2,1330.5 305.8,1330.1 306.4,1328.0 307.0,1326.8 307.6,1328.3 308.2,1329.2 308.8,1327.6 309.4,1325.9 310.0,1324.2 310.6,1325.0 311.2,1327.8 311.8,1325.7 312.4,1325.5 313.0,1326.5 313.6,1326.7 314.2,1325.8 314.8,1327.4 315.4,1328.0 316.0,1327.1 316.6,1326.2 317.2,1325.6 317.8,1324.8 318.4,1326.8 319.0,1326.1 319.6,1325.1 320.2,1326.6 320.8,1327.7 321.4,1327.9 322.0,1328.3 322.6,1328.4 323.2,1326.9 323.8,1327.1 324.4,1326.8 325.0,1325.8 325.6,1327.6 326.2,1327.1 326.8,1327.2 327.4,1327.1 328.0,1326.4 328.6,1328.0 329.2,1328.5 329.8,1326.4 330.4,1324.1 331.0,1327.4 331.6,1327.1 332.2,1325.9 332.8,1325.6 333.4,1325.3 334.0,1326.3 334.6,1327.1 335.2,1326.0 335.8,1326.5 336.4,1326.2 337.0,1326.3 337.6,1326.5 338.2,1327.6 338.8,1328.3 339.4,1327.7 340.0,1328.6 340.6,1328.5 341.2,1326.1 341.8,1327.2 342.4,1326.8 343.0,1327.0 343.6,1327.9 344.2,1326.8 344.8,1326.6 345.4,1328.6 346.0,1328.9 346.6,1329.0 347.2,1330.1 347.8,1326.3 348.4,1324.6 349.0,1325.6 349.6,1325.7 350.2,1326.7 350.8,1326.2 351.4,1326.0 352.0,1326.4 352.6,1325.2 353.2,1324.1 353.8,1325.6 354.4,1327.6 355.0,1327.9 355.6,1328.9 356.2,1329.7 356.8,1328.7 357.4,1327.0 358.0,1326.3 358.6,1327.9 359.2,1329.7 359.8,1329.7 360.4,1328.4 361.0,1326.6 361.6,1327.7 362.2,1328.6 362.8,1328.2 363.4,1325.7 364.0,1325.7 364.6,1326.9 365.2,1327.0 365.8,1326.5 366.4,1327.2 367.0,1327.3 367.6,1328.0 368.2,1326.9 368.8,1326.2 369.4,1324.7 370.0,1326.1 370.6,1326.6 371.2,1327.5 371.8,1327.6 372.4,1328.2 373.0,1326.3 373.6,1325.2 374.2,1326.9 374.8,1327.5 375.4,1325.8 376.0,1325.5 376.6,1327.8 377.2,1328.9 377.8,1328.3 378.4,1327.4 379.0,1327.7 379.6,1329.3 380.2,1328.3 380.8,1325.8 381.4,1325.6 382.0,1327.6 382.6,1327.9 383.2,1326.3 383.8,1326.2 384.4,1327.7 385.0,1327.3 385.6,1327.4 386.2,1325.6 386.8,1324.7 387.4,1324.6 388.0,1326.1 388.6,1325.8 389.2,1324.9 389.8,1326.3 390.4,1326.3 391.0,1327.1 391.6,1329.0 392.2,1328.9 392.8,1327.9 393.4,1326.3 394.0,1325.2 394.6,1325.6 395.2,1326.8 395.8,1328.0 396.4,1326.2 397.0,1326.0 397.6,1326.9 398.2,1327.9 398.8,1329.0 399.4,1329.0 400.0,1328.1 400.6,1329.5 401.2,1328.3 401.8,1325.9 402.4,1325.4 403.0,1326.0 403.6,1326.8 404.2,1327.5 404.8,1326.1 405.4,1325.7 406.0,1325.9 406.6,1326.4 407.2,1325.6 407.8,1326.8 408.4,1326.2 409.0,1326.6 409.6,1327.5 410.2,1328.6 410.8,1330.1 411.4,1326.2 412.0,1323.6 412.6,1324.9 413.2,1327.0 413.8,1326.5 414.4,1327.7 415.0,1327.4 415.6,1327.2 416.2,1325.9 416.8,1328.1 417.4,1328.4 418.0,1326.9 418.6,1329.3 419.2,1330.7 419.8,1327.7 420.4,1325.6 421.0,1325.8 421.6,1326.8 422.2,1328.8 422.8,1329.4 423.4,1327.1 424.0,1326.0 424.6,1325.0 425.2,1326.0 425.8,1326.6 426.4,1325.1 427.0,1327.4 427.6,1328.8 428.2,1328.6 428.8,1326.2 429.4,1324.8 430.0,1325.6 430.6,1324.9 431.2,1324.2 431.8,1324.8 432.4,1325.8 433.0,1329.0 433.6,1329.0 434.2,1327.9 434.8,1326.6 435.4,1328.0 436.0,1327.4 436.6,1327.5 437.2,1326.4 437.8,1326.7 438.4,1325.2 439.0,1326.0 439.6,1326.1 440.2,1325.3 440.8,1326.2 441.4,1326.2 442.0,1326.6 442.6,1328.2 443.2,1328.8 443.8,1327.8 444.4,1328.8 445.0,1329.0 445.6,1328.9 446.2,1328.6 446.8,1326.3 447.4,1328.1 448.0,1327.8 448.6,1326.6 449.2,1327.0 449.8,1328.6 450.4,1329.1 451.0,1327.9 451.6,1325.3 452.2,1324.8 452.8,1326.7 453.4,1327.5 454.0,1326.8 454.6,1328.0 455.2,1328.3 455.8,1327.5 456.4,1326.8 457.0,1328.6 457.6,1329.2 458.2,1329.2 458.8,1327.5 459.4,1325.8 460.0,1327.3 460.6,1328.1 461.2,1326.7 461.8,1325.8 462.4,1327.5 463.0,1327.5 463.6,1325.5 464.2,1325.0 464.8,1325.1 465.4,1326.9 466.0,1328.0 466.6,1328.8 467.2,1327.1 467.8,1328.1 468.4,1327.3 469.0,1326.7 469.6,1325.6 470.2,1326.3 470.8,1326.3 471.4,1326.7 472.0,1327.3 472.6,1327.9 473.2,1328.1 473.8,1326.9 474.4,1326.3 475.0,1327.9 475.6,1327.2 476.2,1326.8 476.8,1328.5 477.4,1328.1 478.0,1327.3 478.6,1325.0 479.2,1326.3 479.8,1329.3 480.4,1328.5 481.0,1327.4 481.6,1326.2 482.2,1326.6 482.8,1327.3 483.4,1327.0 484.0,1326.1 484.6,1324.5 485.2,1325.1 485.8,1326.3 486.4,1327.6 487.0,1327.8 487.6,1326.8 488.2,1325.8 488.8,1325.9 489.4,1326.4 490.0,1325.3 490.6,1326.0 491.2,1326.3 491.8,1327.1 492.4,1328.7 493.0,1327.7 493.6,1328.5 494.2,1329.3 494.8,1328.1 495.4,1326.6 496.0,1326.0 496.6,1327.9 497.2,1325.4 497.8,1324.4 498.4,1326.7 499.0,1325.0 499.6,1324.5 500.2,1325.0 500.8,1324.3 501.4,1323.8 502.0,1326.4 502.6,1327.8 503.2,1327.9 503.8,1326.9 504.4,1326.1 505.0,1326.5 505.6,1328.4 506.2,1328.1 506.8,1326.7 507.4,1326.5 508.0,1325.7 508.6,1326.5 509.2,1325.6 509.8,1326.1 510.4,1325.3 511.0,1323.7 511.6,1326.5 512.2,1326.7 512.8,1325.5 513.4,1325.5 514.0,1326.2 514.6,1326.6 515.2,1327.2 515.8,1327.3 516.4,1327.6 517.0,1326.7 517.6,1324.6 518.2,1324.7 518.8,1326.9 519.4,1327.3 520.0,1326.3 520.6,1324.9 521.2,1325.0 521.8,1325.7 522.4,1326.8 523.0,1325.5 523.6,1324.4 524.2,1325.3 524.8,1327.4 525.4,1328.5 526.0,1327.2 526.6,1327.7 527.2,1326.4 527.8,1325.7 528.4,1325.8 529.0,1327.1 529.6,1326.8 530.2,1327.5 530.8,1327.3 531.4,1328.7 532.0,1327.7 532.6,1326.4 533.2,1325.8 533.8,1327.9 534.4,1327.6 535.0,1327.0 535.6,1326.6 536.2,1326.0 536.8,1326.1 537.4,1326.6 538.0,1325.9 538.6,1327.2 539.2,1329.3 539.8,1327.4 540.4,1326.7 541.0,1327.3 541.6,1326.5 542.2,1328.0 542.8,1326.8 543.4,1325.3 544.0,1325.8 544.6,1326.1 545.2,1327.1 545.8,1326.7 546.4,1326.6 547.0,1324.6 547.6,1325.7 548.2,1327.4 548.8,1327.6 549.4,1327.3 550.0,1327.9 550.6,1327.9 551.2,1327.1 551.8,1327.3 552.4,1327.9 553.0,1326.2 553.6,1323.1 554.2,1323.5 554.8,1325.6 555.4,1327.3 556.0,1327.3 556.6,1327.9 557.2,1328.3 557.8,1327.3 558.4,1326.1 559.0,1326.8 559.6,1324.9 560.2,1324.4 560.8,1324.7 561.4,1324.4 562.0,1328.6 562.6,1330.0 563.2,1327.2 563.8,1325.2 564.4,1324.1 565.0,1326.1 565.6,1325.4 566.2,1324.3 566.8,1324.3 567.4,1325.7 568.0,1326.1 568.6,1326.0 569.2,1325.0 569.8,1324.7 570.4,1327.8 571.0,1327.8 571.6,1325.5 572.2,1324.2 572.8,1325.0 573.4,1327.1 574.0,1327.4 574.6,1327.4 575.2,1327.7 575.8,1326.8 576.4,1328.0 577.0,1326.9 577.6,1325.8 578.2,1326.9 578.8,1326.7 579.4,1326.4 580.0,1327.6 580.6,1325.3 581.2,1326.2 581.8,1326.7 582.4,1325.7 583.0,1326.7 583.6,1327.5 584.2,1325.2 584.8,1324.5 585.4,1325.8 586.0,1327.3 586.6,1328.2 587.2,1327.1 587.8,1325.7 588.4,1327.6 589.0,1328.1 589.6,1327.2 590.2,1324.1 590.8,1323.4 591.4,1324.7 592.0,1325.5 592.6,1325.7 593.2,1324.6 593.8,1324.8 594.4,1325.5 595.0,1323.4 595.6,1324.0 596.2,1326.1 596.8,1327.3 597.4,1327.5 598.0,1328.4 598.6,1327.5 599.2,1327.5 599.8,1327.5 600.4,1326.1 601.0,1324.6 601.6,1325.3 602.2,1325.5 602.8,1325.3 603.4,1326.4 604.0,1325.2 604.6,1324.2 605.2,1325.1 605.8,1325.1 606.4,1325.3 607.0,1322.5 607.6,1323.1 608.2,1325.6 608.8,1326.4 609.4,1326.9 610.0,1327.8 610.6,1326.2 611.2,1325.7 611.8,1326.8 612.4,1326.2 613.0,1326.9 613.6,1327.7 614.2,1326.4 614.8,1325.7 615.4,1325.5 616.0,1326.6 616.6,1327.4 617.2,1327.8 617.8,1328.1 618.4,1328.8 619.0,1327.1 619.6,1326.2 620.2,1326.4 620.8,1327.6 621.4,1326.6 622.0,1325.3 622.6,1324.4 623.2,1325.8 623.8,1326.1 624.4,1323.0 625.0,1323.4 625.6,1324.3 626.2,1324.8 626.8,1325.7 627.4,1325.8 628.0,1326.3 628.6,1327.1 629.2,1327.8 629.8,1326.5 630.4,1326.4 631.0,1326.1 631.6,1326.1 632.2,1325.3 632.8,1324.8 633.4,1326.6 634.0,1327.2 634.6,1325.4 635.2,1325.7 635.8,1325.2 636.4,1324.4 637.0,1328.2 637.6,1329.1 638.2,1328.5 638.8,1327.4 639.4,1324.5 640.0,1322.8 640.6,1325.1 641.2,1326.1 641.8,1325.6 642.4,1325.9 643.0,1327.4 643.6,1327.4 644.2,1326.2 644.8,1326.4 645.4,1328.9 646.0,1328.0 646.6,1326.0 647.2,1323.9 647.8,1322.6 648.4,1322.1 649.0,1324.8 649.6,1326.2 650.2,1325.9 650.8,1326.0 651.4,1326.6 652.0,1326.4 652.6,1323.7 653.2,1324.2 653.8,1326.7 654.4,1326.9 655.0,1326.3 655.6,1325.6 656.2,1327.4 656.8,1326.6 657.4,1325.4 658.0,1324.9 658.6,1325.9 659.2,1326.2 659.8,1326.6 660.4,1328.3 661.0,1328.0 661.6,1326.2 662.2,1325.1 662.8,1325.4 663.4,1325.1 664.0,1322.9 664.6,1325.2 665.2,1326.7 665.8,1328.6 666.4,1327.3 667.0,1326.0 667.6,1325.7 668.2,1325.3" fill="none" stroke="#17BEBE" stroke-width="2" stroke-linejoin="round"/><rect x="23.75" y="0.6" width="642.45" height="460.40" fill="none" stroke="#000" stroke-width="1.5"/><path d="M38.03 461.0V455.0M52.30 461.0V455.0M66.58 461.0V455.0M80.86 461.0V455.0M95.13 461.0V449.0M109.41 461.0V455.0M123.69 461.0V455.0M137.96 461.0V455.0M152.24 461.0V455.0M166.52 461.0V449.0M180.79 461.0V455.0M195.07 461.0V455.0M209.35 461.0V455.0M223.62 461.0V455.0M237.90 461.0V449.0M252.18 461.0V455.0M266.45 461.0V455.0M280.73 461.0V455.0M295.01 461.0V455.0M309.28 461.0V449.0M323.56 461.0V455.0M337.84 461.0V455.0M352.11 461.0V455.0M366.39 461.0V455.0M380.67 461.0V449.0M394.94 461.0V455.0M409.22 461.0V455.0M423.50 461.0V455.0M437.77 461.0V455.0M452.05 461.0V449.0M466.33 461.0V455.0M480.60 461.0V455.0M494.88 461.0V455.0M509.16 461.0V455.0M523.43 461.0V449.0M537.71 461.0V455.0M551.99 461.0V455.0M566.26 461.0V455.0M580.54 461.0V455.0M594.82 461.0V449.0M609.09 461.0V455.0M623.37 461.0V455.0M637.65 461.0V455.0M651.92 461.0V455.0" stroke="#000" stroke-width="1.5" fill="none"/><text transform="translate(26.35,480.2) scale(1.03,1)" fill="#000" font-size="23.1" text-anchor="middle">2.5</text><text transform="translate(97.73,480.2) scale(1.03,1)" fill="#000" font-size="23.1" text-anchor="middle">3.0</text><text transform="translate(169.12,480.2) scale(1.03,1)" fill="#000" font-size="23.1" text-anchor="middle">3.5</text><text transform="translate(240.50,480.2) scale(1.03,1)" fill="#000" font-size="23.1" text-anchor="middle">4.0</text><text transform="translate(311.88,480.2) scale(1.03,1)" fill="#000" font-size="23.1" text-anchor="middle">4.5</text><text transform="translate(383.27,480.2) scale(1.03,1)" fill="#000" font-size="23.1" text-anchor="middle">5.0</text><text transform="translate(454.65,480.2) scale(1.03,1)" fill="#000" font-size="23.1" text-anchor="middle">5.5</text><text transform="translate(526.03,480.2) scale(1.03,1)" fill="#000" font-size="23.1" text-anchor="middle">6.0</text><text transform="translate(597.42,480.2) scale(1.03,1)" fill="#000" font-size="23.1" text-anchor="middle">6.5</text><text transform="translate(668.80,480.2) scale(1.03,1)" fill="#000" font-size="23.1" text-anchor="middle">7.0</text><rect x="26.3" y="488.6" width="642.50" height="424.50" fill="none" stroke="#000" stroke-width="1.5"/><path d="M40.58 913.1V907.1M54.86 913.1V907.1M69.13 913.1V907.1M83.41 913.1V907.1M97.69 913.1V901.1M111.97 913.1V907.1M126.24 913.1V907.1M140.52 913.1V907.1M154.80 913.1V907.1M169.08 913.1V901.1M183.36 913.1V907.1M197.63 913.1V907.1M211.91 913.1V907.1M226.19 913.1V907.1M240.47 913.1V901.1M254.74 913.1V907.1M269.02 913.1V907.1M283.30 913.1V907.1M297.58 913.1V907.1M311.86 913.1V901.1M326.13 913.1V907.1M340.41 913.1V907.1M354.69 913.1V907.1M368.97 913.1V907.1M383.24 913.1V901.1M397.52 913.1V907.1M411.80 913.1V907.1M426.08 913.1V907.1M440.36 913.1V907.1M454.63 913.1V901.1M468.91 913.1V907.1M483.19 913.1V907.1M497.47 913.1V907.1M511.74 913.1V907.1M526.02 913.1V901.1M540.30 913.1V907.1M554.58 913.1V907.1M568.86 913.1V907.1M583.13 913.1V907.1M597.41 913.1V901.1M611.69 913.1V907.1M625.97 913.1V907.1M640.24 913.1V907.1M654.52 913.1V907.1" stroke="#000" stroke-width="1.5" fill="none"/><text transform="translate(26.90,933.8) scale(1.03,1)" fill="#000" font-size="23.1" text-anchor="middle">2.5</text><text transform="translate(98.29,933.8) scale(1.03,1)" fill="#000" font-size="23.1" text-anchor="middle">3.0</text><text transform="translate(169.68,933.8) scale(1.03,1)" fill="#000" font-size="23.1" text-anchor="middle">3.5</text><text transform="translate(241.07,933.8) scale(1.03,1)" fill="#000" font-size="23.1" text-anchor="middle">4.0</text><text transform="translate(312.46,933.8) scale(1.03,1)" fill="#000" font-size="23.1" text-anchor="middle">4.5</text><text transform="translate(383.84,933.8) scale(1.03,1)" fill="#000" font-size="23.1" text-anchor="middle">5.0</text><text transform="translate(455.23,933.8) scale(1.03,1)" fill="#000" font-size="23.1" text-anchor="middle">5.5</text><text transform="translate(526.62,933.8) scale(1.03,1)" fill="#000" font-size="23.1" text-anchor="middle">6.0</text><text transform="translate(598.01,933.8) scale(1.03,1)" fill="#000" font-size="23.1" text-anchor="middle">6.5</text><text transform="translate(669.40,933.8) scale(1.03,1)" fill="#000" font-size="23.1" text-anchor="middle">7.0</text><rect x="26.3" y="943.5" width="642.50" height="415.40" fill="none" stroke="#000" stroke-width="1.5"/><path d="M40.58 1358.9V1352.9M54.86 1358.9V1352.9M69.13 1358.9V1352.9M83.41 1358.9V1352.9M97.69 1358.9V1346.9M111.97 1358.9V1352.9M126.24 1358.9V1352.9M140.52 1358.9V1352.9M154.80 1358.9V1352.9M169.08 1358.9V1346.9M183.36 1358.9V1352.9M197.63 1358.9V1352.9M211.91 1358.9V1352.9M226.19 1358.9V1352.9M240.47 1358.9V1346.9M254.74 1358.9V1352.9M269.02 1358.9V1352.9M283.30 1358.9V1352.9M297.58 1358.9V1352.9M311.86 1358.9V1346.9M326.13 1358.9V1352.9M340.41 1358.9V1352.9M354.69 1358.9V1352.9M368.97 1358.9V1352.9M383.24 1358.9V1346.9M397.52 1358.9V1352.9M411.80 1358.9V1352.9M426.08 1358.9V1352.9M440.36 1358.9V1352.9M454.63 1358.9V1346.9M468.91 1358.9V1352.9M483.19 1358.9V1352.9M497.47 1358.9V1352.9M511.74 1358.9V1352.9M526.02 1358.9V1346.9M540.30 1358.9V1352.9M554.58 1358.9V1352.9M568.86 1358.9V1352.9M583.13 1358.9V1352.9M597.41 1358.9V1346.9M611.69 1358.9V1352.9M625.97 1358.9V1352.9M640.24 1358.9V1352.9M654.52 1358.9V1352.9" stroke="#000" stroke-width="1.5" fill="none"/><text transform="translate(26.70,1379.9) scale(1.03,1)" fill="#000" font-size="23.1" text-anchor="middle">2.5</text><text transform="translate(98.09,1379.9) scale(1.03,1)" fill="#000" font-size="23.1" text-anchor="middle">3.0</text><text transform="translate(169.48,1379.9) scale(1.03,1)" fill="#000" font-size="23.1" text-anchor="middle">3.5</text><text transform="translate(240.87,1379.9) scale(1.03,1)" fill="#000" font-size="23.1" text-anchor="middle">4.0</text><text transform="translate(312.26,1379.9) scale(1.03,1)" fill="#000" font-size="23.1" text-anchor="middle">4.5</text><text transform="translate(383.64,1379.9) scale(1.03,1)" fill="#000" font-size="23.1" text-anchor="middle">5.0</text><text transform="translate(455.03,1379.9) scale(1.03,1)" fill="#000" font-size="23.1" text-anchor="middle">5.5</text><text transform="translate(526.42,1379.9) scale(1.03,1)" fill="#000" font-size="23.1" text-anchor="middle">6.0</text><text transform="translate(597.81,1379.9) scale(1.03,1)" fill="#000" font-size="23.1" text-anchor="middle">6.5</text><text transform="translate(669.20,1379.9) scale(1.03,1)" fill="#000" font-size="23.1" text-anchor="middle">7.0</text><text transform="translate(665.6,14.5) scale(1.068,1)" fill="#000" font-size="16.4" text-anchor="end">Run 111 : 183(17) GPa - 2640(350) K</text><text transform="translate(655,504.2) scale(1.072,1)" fill="#000" font-size="16.4" text-anchor="end">Run 266 : 67(7) GPa - 1960(115) K</text><text transform="translate(665.8,960.6) scale(1.08,1)" fill="#000" font-size="16.4" text-anchor="end">Run 112 : 26(3) GPa - 930(43) K</text><text transform="translate(-1,25.3) scale(1.05,1)" fill="#000" font-size="25.5" text-anchor="start">a)</text><text transform="translate(-0.5,511.8) scale(1.05,1)" fill="#000" font-size="25.5" text-anchor="start">b)</text><text transform="translate(-1,964.6) scale(1.05,1)" fill="#000" font-size="25.5" text-anchor="start">c)</text><text transform="translate(594.3,540.6) scale(0.98,1)" fill="#000" font-size="29.5" text-anchor="start">D</text><text transform="translate(185.8,1034.6) scale(0.98,1)" fill="#000" font-size="30" text-anchor="start">D</text><line x1="589" y1="535.7" x2="544.1" y2="549.8" stroke="#000" stroke-width="2.5"/><path d="M534.1 553L542.6 545.1L545.6 554.6Z" fill="#000"/><line x1="180.7" y1="1028.9" x2="136.0" y2="1043.4" stroke="#000" stroke-width="2.5"/><path d="M126 1046.6L134.5 1038.6L137.5 1048.1Z" fill="#000"/><text transform="translate(18.2,212.9) rotate(-90)" font-size="20" text-anchor="middle">Intensity [arb.units]</text><text transform="translate(18.2,667.2) rotate(-90)" font-size="20" text-anchor="middle">Intensity [arb.units]</text><text transform="translate(18.2,1116.4) rotate(-90)" font-size="20" text-anchor="middle">Intensity [arb.units]</text><text transform="translate(313.0,1408.6) scale(1.05,1)" fill="#000" font-size="21.5" text-anchor="start">Q</text><text transform="translate(338.2,1408.6) scale(1.05,1)" fill="#000" font-size="21.5" text-anchor="start">[Å</text><rect x="359.5" y="1395.6" width="8.5" height="1.5" fill="#000"/><text transform="translate(373.2,1401.0) scale(1.05,1)" fill="#000" font-size="14.2" text-anchor="start">1</text><text transform="translate(383.0,1408.6) scale(1.05,1)" fill="#000" font-size="21.5" text-anchor="start">]</text>
</svg></body></html>
